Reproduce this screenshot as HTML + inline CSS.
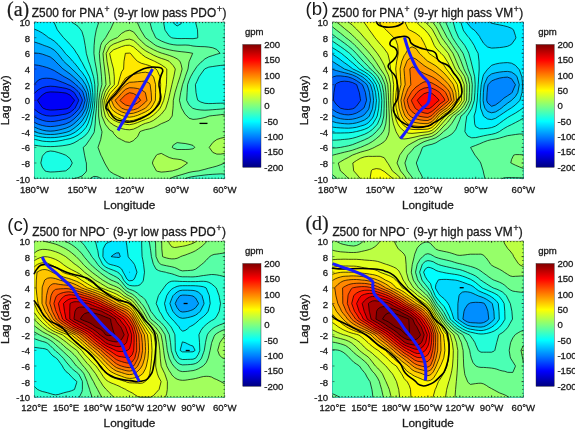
<!DOCTYPE html>
<html lang="en"><head><meta charset="utf-8"><title>Z500 lag-longitude composites</title>
<style>
html,body{margin:0;padding:0;background:#fff;}
body{width:575px;height:431px;overflow:hidden;}
svg{display:block;font-family:"Liberation Sans", Arial, sans-serif;}
svg text{fill:#1a1a1a;stroke:#1a1a1a;stroke-width:0.3px;}
svg path, svg rect{fill-opacity:1}
</style></head><body>
<svg width="575" height="431" viewBox="0 0 575 431">
<defs><linearGradient id="jet" x1="0" y1="1" x2="0" y2="0">
<stop offset="0.0000" stop-color="#000080"/>
<stop offset="0.0156" stop-color="#00008f"/>
<stop offset="0.0312" stop-color="#00009f"/>
<stop offset="0.0469" stop-color="#0000af"/>
<stop offset="0.0625" stop-color="#0000bf"/>
<stop offset="0.0781" stop-color="#0000cf"/>
<stop offset="0.0938" stop-color="#0000df"/>
<stop offset="0.1094" stop-color="#0000ef"/>
<stop offset="0.1250" stop-color="#0000ff"/>
<stop offset="0.1406" stop-color="#0010ff"/>
<stop offset="0.1562" stop-color="#0020ff"/>
<stop offset="0.1719" stop-color="#0030ff"/>
<stop offset="0.1875" stop-color="#0040ff"/>
<stop offset="0.2031" stop-color="#0050ff"/>
<stop offset="0.2188" stop-color="#0060ff"/>
<stop offset="0.2344" stop-color="#0070ff"/>
<stop offset="0.2500" stop-color="#0080ff"/>
<stop offset="0.2656" stop-color="#008fff"/>
<stop offset="0.2812" stop-color="#009fff"/>
<stop offset="0.2969" stop-color="#00afff"/>
<stop offset="0.3125" stop-color="#00bfff"/>
<stop offset="0.3281" stop-color="#00cfff"/>
<stop offset="0.3438" stop-color="#00dfff"/>
<stop offset="0.3594" stop-color="#00efff"/>
<stop offset="0.3750" stop-color="#00ffff"/>
<stop offset="0.3906" stop-color="#10ffef"/>
<stop offset="0.4062" stop-color="#20ffdf"/>
<stop offset="0.4219" stop-color="#30ffcf"/>
<stop offset="0.4375" stop-color="#40ffbf"/>
<stop offset="0.4531" stop-color="#50ffaf"/>
<stop offset="0.4688" stop-color="#60ff9f"/>
<stop offset="0.4844" stop-color="#70ff8f"/>
<stop offset="0.5000" stop-color="#80ff80"/>
<stop offset="0.5156" stop-color="#8fff70"/>
<stop offset="0.5312" stop-color="#9fff60"/>
<stop offset="0.5469" stop-color="#afff50"/>
<stop offset="0.5625" stop-color="#bfff40"/>
<stop offset="0.5781" stop-color="#cfff30"/>
<stop offset="0.5938" stop-color="#dfff20"/>
<stop offset="0.6094" stop-color="#efff10"/>
<stop offset="0.6250" stop-color="#ffff00"/>
<stop offset="0.6406" stop-color="#ffef00"/>
<stop offset="0.6562" stop-color="#ffdf00"/>
<stop offset="0.6719" stop-color="#ffcf00"/>
<stop offset="0.6875" stop-color="#ffbf00"/>
<stop offset="0.7031" stop-color="#ffaf00"/>
<stop offset="0.7188" stop-color="#ff9f00"/>
<stop offset="0.7344" stop-color="#ff8f00"/>
<stop offset="0.7500" stop-color="#ff8000"/>
<stop offset="0.7656" stop-color="#ff7000"/>
<stop offset="0.7812" stop-color="#ff6000"/>
<stop offset="0.7969" stop-color="#ff5000"/>
<stop offset="0.8125" stop-color="#ff4000"/>
<stop offset="0.8281" stop-color="#ff3000"/>
<stop offset="0.8438" stop-color="#ff2000"/>
<stop offset="0.8594" stop-color="#ff1000"/>
<stop offset="0.8750" stop-color="#ff0000"/>
<stop offset="0.8906" stop-color="#ef0000"/>
<stop offset="0.9062" stop-color="#df0000"/>
<stop offset="0.9219" stop-color="#cf0000"/>
<stop offset="0.9375" stop-color="#bf0000"/>
<stop offset="0.9531" stop-color="#af0000"/>
<stop offset="0.9688" stop-color="#9f0000"/>
<stop offset="0.9844" stop-color="#8f0000"/>
<stop offset="1.0000" stop-color="#800000"/>
</linearGradient></defs>
<rect width="575" height="431" fill="#fff"/>
<g id="panel-a">
<rect x="34.4" y="22" width="190.3" height="156.7" fill="#0000f8"/>
<path d="M34.4,178.7L38.4,178.7L42.3,178.7L46.3,178.7L50.3,178.7L54.2,178.7L58.2,178.7L62.2,178.7L66.1,178.7L70.1,178.7L74,178.7L78,178.7L82,178.7L85.9,178.7L89.9,178.7L93.9,178.7L97.8,178.7L101.8,178.7L105.8,178.7L109.7,178.7L113.7,178.7L117.7,178.7L121.6,178.7L125.6,178.7L129.5,178.7L133.5,178.7L137.5,178.7L141.4,178.7L145.4,178.7L149.4,178.7L153.3,178.7L157.3,178.7L161.3,178.7L165.2,178.7L169.2,178.7L173.2,178.7L177.1,178.7L181.1,178.7L185.1,178.7L189,178.7L193,178.7L196.9,178.7L200.9,178.7L204.9,178.7L208.8,178.7L212.8,178.7L216.8,178.7L220.7,178.7L224.7,178.7L224.7,170.9L224.7,163L224.7,155.2L224.7,147.4L224.7,139.5L224.7,131.7L224.7,123.9L224.7,116L224.7,108.2L224.7,100.3L224.7,92.5L224.7,84.7L224.7,76.8L224.7,69L224.7,61.2L224.7,53.3L224.7,45.5L224.7,37.7L224.7,29.8L224.7,22L220.7,22L216.8,22L212.8,22L208.8,22L204.9,22L200.9,22L196.9,22L193,22L189,22L185.1,22L181.1,22L177.1,22L173.2,22L169.2,22L165.2,22L161.3,22L157.3,22L153.3,22L149.4,22L145.4,22L141.4,22L137.5,22L133.5,22L129.5,22L125.6,22L121.6,22L117.7,22L113.7,22L109.7,22L105.8,22L101.8,22L97.8,22L93.9,22L89.9,22L85.9,22L82,22L78,22L74,22L70.1,22L66.1,22L62.2,22L58.2,22L54.2,22L50.3,22L46.3,22L42.3,22L38.4,22L34.4,22L34.4,29.8L34.4,37.7L34.4,45.5L34.4,53.3L34.4,61.2L34.4,69L34.4,76.8L34.4,84.7L34.4,92.5L34.4,100.3L34.4,108.2L34.4,116L34.4,123.9L34.4,131.7L34.4,139.5L34.4,147.4L34.4,155.2L34.4,163L34.4,170.9L34.4,178.7ZM46.3,109.5L43.1,108.2L42.3,107.5L38.4,101.9L37.6,100.3L38.4,99.2L42.3,94.9L46.2,92.5L46.3,92.5L50.3,91.9L54.2,92L58.2,92.2L61.8,92.5L62.2,92.6L66.1,93.1L70.1,95.1L74,99.6L74.5,100.3L74,101.2L70.1,106.9L68.1,108.2L66.1,108.9L62.2,109.3L58.2,109.7L54.2,110L50.3,110.1L46.3,109.5Z" fill="#001dff" fill-rule="evenodd"/>
<path d="M34.4,178.7L38.4,178.7L42.3,178.7L46.3,178.7L50.3,178.7L54.2,178.7L58.2,178.7L62.2,178.7L66.1,178.7L70.1,178.7L74,178.7L78,178.7L82,178.7L85.9,178.7L89.9,178.7L93.9,178.7L97.8,178.7L101.8,178.7L105.8,178.7L109.7,178.7L113.7,178.7L117.7,178.7L121.6,178.7L125.6,178.7L129.5,178.7L133.5,178.7L137.5,178.7L141.4,178.7L145.4,178.7L149.4,178.7L153.3,178.7L157.3,178.7L161.3,178.7L165.2,178.7L169.2,178.7L173.2,178.7L177.1,178.7L181.1,178.7L185.1,178.7L189,178.7L193,178.7L196.9,178.7L200.9,178.7L204.9,178.7L208.8,178.7L212.8,178.7L216.8,178.7L220.7,178.7L224.7,178.7L224.7,170.9L224.7,163L224.7,155.2L224.7,147.4L224.7,139.5L224.7,131.7L224.7,123.9L224.7,116L224.7,108.2L224.7,100.3L224.7,92.5L224.7,84.7L224.7,76.8L224.7,69L224.7,61.2L224.7,53.3L224.7,45.5L224.7,37.7L224.7,29.8L224.7,22L220.7,22L216.8,22L212.8,22L208.8,22L204.9,22L200.9,22L196.9,22L193,22L189,22L185.1,22L181.1,22L177.1,22L173.2,22L169.2,22L165.2,22L161.3,22L157.3,22L153.3,22L149.4,22L145.4,22L141.4,22L137.5,22L133.5,22L129.5,22L125.6,22L121.6,22L117.7,22L113.7,22L109.7,22L105.8,22L101.8,22L97.8,22L93.9,22L89.9,22L85.9,22L82,22L78,22L74,22L70.1,22L66.1,22L62.2,22L58.2,22L54.2,22L50.3,22L46.3,22L42.3,22L38.4,22L34.4,22L34.4,29.8L34.4,37.7L34.4,45.5L34.4,53.3L34.4,61.2L34.4,69L34.4,76.8L34.4,84.7L34.4,92.5L34.4,93.4L35.1,92.5L38.4,89.7L42.3,87.6L46.3,86.6L50.3,86.2L54.2,86.4L58.2,87L62.2,87.7L66.1,88.4L70.1,89.8L74,92.4L74.2,92.5L78,98.8L78.7,100.3L78,102.1L75,108.2L74,109.2L70.1,112.3L66.1,114L62.2,114.7L58.2,115.4L54.2,115.9L52,116L50.3,116.1L49.4,116L46.3,115.7L42.3,114.5L38.4,112.4L34.4,109.2L34.4,116L34.4,123.9L34.4,131.7L34.4,139.5L34.4,147.4L34.4,155.2L34.4,163L34.4,170.9L34.4,178.7Z" fill="#0041ff" fill-rule="evenodd"/>
<path d="M34.4,178.7L38.4,178.7L42.3,178.7L46.3,178.7L50.3,178.7L54.2,178.7L58.2,178.7L62.2,178.7L66.1,178.7L70.1,178.7L74,178.7L78,178.7L82,178.7L85.9,178.7L89.9,178.7L93.9,178.7L97.8,178.7L101.8,178.7L105.8,178.7L109.7,178.7L113.7,178.7L117.7,178.7L121.6,178.7L125.6,178.7L129.5,178.7L133.5,178.7L137.5,178.7L141.4,178.7L145.4,178.7L149.4,178.7L153.3,178.7L157.3,178.7L161.3,178.7L165.2,178.7L169.2,178.7L173.2,178.7L177.1,178.7L181.1,178.7L185.1,178.7L189,178.7L193,178.7L196.9,178.7L200.9,178.7L204.9,178.7L208.8,178.7L212.8,178.7L216.8,178.7L220.7,178.7L224.7,178.7L224.7,170.9L224.7,163L224.7,155.2L224.7,147.4L224.7,139.5L224.7,131.7L224.7,123.9L224.7,116L224.7,108.2L224.7,100.3L224.7,92.5L224.7,84.7L224.7,76.8L224.7,69L224.7,61.2L224.7,53.3L224.7,45.5L224.7,37.7L224.7,29.8L224.7,22L220.7,22L216.8,22L212.8,22L208.8,22L204.9,22L200.9,22L196.9,22L193,22L189,22L185.1,22L181.1,22L177.1,22L173.2,22L169.2,22L165.2,22L161.3,22L157.3,22L153.3,22L149.4,22L145.4,22L141.4,22L137.5,22L133.5,22L129.5,22L125.6,22L121.6,22L117.7,22L113.7,22L109.7,22L105.8,22L101.8,22L97.8,22L93.9,22L89.9,22L85.9,22L82,22L78,22L74,22L70.1,22L66.1,22L62.2,22L58.2,22L54.2,22L50.3,22L46.3,22L42.3,22L38.4,22L34.4,22L34.4,29.8L34.4,37.7L34.4,45.5L34.4,53.3L34.4,61.2L34.4,69L34.4,76.8L34.4,84.2L38.4,80L42.3,78.5L46.3,78.2L50.3,78.4L54.2,79.2L58.2,80.6L62.2,82.2L66.1,83.7L68,84.7L70.1,85.4L74,87.8L78,91.4L79,92.5L82,98.8L82.4,100.4L82,101.9L79.3,108.2L78,109.9L74,114.1L71.6,116L70.1,117.1L66.1,118.9L62.2,119.8L58.2,120.7L54.2,121.4L50.3,121.6L46.3,121.3L42.3,120.3L38.4,118.8L34.4,116.9L34.4,123.9L34.4,131.7L34.4,139.5L34.4,147.4L34.4,155.2L34.4,163L34.4,170.9L34.4,178.7Z" fill="#0065ff" fill-rule="evenodd"/>
<path d="M34.4,178.7L38.4,178.7L42.3,178.7L46.3,178.7L50.3,178.7L54.2,178.7L58.2,178.7L62.2,178.7L66.1,178.7L70.1,178.7L74,178.7L78,178.7L82,178.7L85.9,178.7L89.9,178.7L93.9,178.7L97.8,178.7L101.8,178.7L105.8,178.7L109.7,178.7L113.7,178.7L117.7,178.7L121.6,178.7L125.6,178.7L129.5,178.7L133.5,178.7L137.5,178.7L141.4,178.7L145.4,178.7L149.4,178.7L153.3,178.7L157.3,178.7L161.3,178.7L165.2,178.7L169.2,178.7L173.2,178.7L177.1,178.7L181.1,178.7L185.1,178.7L189,178.7L193,178.7L196.9,178.7L200.9,178.7L204.9,178.7L208.8,178.7L212.8,178.7L216.8,178.7L220.7,178.7L224.7,178.7L224.7,170.9L224.7,163L224.7,155.2L224.7,147.4L224.7,139.5L224.7,131.7L224.7,123.9L224.7,116L224.7,108.2L224.7,100.3L224.7,92.5L224.7,84.7L224.7,76.8L224.7,69L224.7,61.2L224.7,53.3L224.7,45.5L224.7,37.7L224.7,29.8L224.7,22L220.7,22L216.8,22L212.8,22L208.8,22L204.9,22L200.9,22L196.9,22L193,22L189,22L185.1,22L181.1,22L177.1,22L173.2,22L169.2,22L165.2,22L161.3,22L157.3,22L153.3,22L149.4,22L145.4,22L141.4,22L137.5,22L133.5,22L129.5,22L125.6,22L121.6,22L117.7,22L113.7,22L109.7,22L105.8,22L101.8,22L97.8,22L93.9,22L89.9,22L85.9,22L82,22L78,22L74,22L70.1,22L66.1,22L62.2,22L58.2,22L54.2,22L50.3,22L46.3,22L42.3,22L38.4,22L34.4,22L34.4,29.8L34.4,37.7L34.4,45.5L34.4,53.3L34.4,61.2L34.4,64.8L38.4,65.3L42.3,66.2L46.3,67.3L50.3,68.7L50.8,69L54.2,70.5L58.2,73L62.2,75.5L64.3,76.8L66.1,77.7L70.1,80L74,83L75.8,84.7L78,86.5L82,90.8L83,92.5L85.2,100.3L83,108.2L82,110L78,115L77,116L74,118.9L70.1,121.9L66.1,123.7L65.6,123.9L62.2,124.8L58.2,125.7L54.2,126.3L50.3,126.6L46.3,126.3L42.3,125.5L38.4,124.3L37.4,123.9L34.4,122.4L34.4,123.9L34.4,131.7L34.4,139.5L34.4,147.4L34.4,155.2L34.4,163L34.4,170.9L34.4,178.7Z" fill="#0089ff" fill-rule="evenodd"/>
<path d="M34.4,178.7L38.4,178.7L42.3,178.7L46.3,178.7L50.3,178.7L54.2,178.7L58.2,178.7L62.2,178.7L66.1,178.7L70.1,178.7L74,178.7L78,178.7L82,178.7L85.9,178.7L89.9,178.7L93.9,178.7L97.8,178.7L101.8,178.7L105.8,178.7L109.7,178.7L113.7,178.7L117.7,178.7L121.6,178.7L125.6,178.7L129.5,178.7L133.5,178.7L137.5,178.7L141.4,178.7L145.4,178.7L149.4,178.7L153.3,178.7L157.3,178.7L161.3,178.7L165.2,178.7L169.2,178.7L173.2,178.7L177.1,178.7L181.1,178.7L185.1,178.7L189,178.7L193,178.7L196.9,178.7L200.9,178.7L204.9,178.7L208.8,178.7L212.8,178.7L216.8,178.7L220.7,178.7L224.7,178.7L224.7,170.9L224.7,163L224.7,155.2L224.7,147.4L224.7,139.5L224.7,131.7L224.7,123.9L224.7,116L224.7,108.2L224.7,100.3L224.7,92.5L224.7,84.7L224.7,76.8L224.7,69L224.7,61.2L224.7,53.3L224.7,45.5L224.7,37.7L224.7,29.8L224.7,22L220.7,22L216.8,22L212.8,22L208.8,22L204.9,22L200.9,22L196.9,22L193,22L189,22L185.1,22L181.1,22L177.1,22L173.2,22L169.2,22L165.2,22L161.3,22L157.3,22L153.3,22L149.4,22L145.4,22L141.4,22L137.5,22L133.5,22L129.5,22L125.6,22L121.6,22L117.7,22L113.7,22L109.7,22L105.8,22L101.8,22L97.8,22L93.9,22L89.9,22L85.9,22L82,22L78,22L74,22L70.1,22L66.1,22L62.2,22L58.2,22L54.2,22L50.3,22L46.3,22L42.3,22L38.4,22L34.4,22L34.4,29.8L34.4,37.7L34.4,45.5L34.4,53L38.4,53.3L38.8,53.3L42.3,54.1L46.3,55.5L50.3,57L54.2,60L55.2,61.2L58.2,64.2L62.2,68.1L63.1,69L66.1,71.1L70.1,74L73.4,76.8L74,77.4L78,81L81.4,84.7L82,85.3L85.9,92.1L86.1,92.5L87.4,100.3L85.9,108.1L85.9,108.2L82,115.4L81.5,116L78,120L74,123.7L73.9,123.9L70.1,126.4L66.1,128.1L62.2,129.2L58.2,130.2L54.2,130.9L50.3,131.2L46.3,130.9L42.3,130.1L38.4,128.8L34.4,127.1L34.4,131.7L34.4,139.5L34.4,147.4L34.4,155.2L34.4,163L34.4,170.9L34.4,178.7Z" fill="#00adff" fill-rule="evenodd"/>
<path d="M34.4,178.7L38.4,178.7L42.3,178.7L46.3,178.7L50.3,178.7L54.2,178.7L58.2,178.7L62.2,178.7L66.1,178.7L70.1,178.7L74,178.7L78,178.7L82,178.7L85.9,178.7L89.9,178.7L93.9,178.7L97.8,178.7L101.8,178.7L105.8,178.7L109.7,178.7L113.7,178.7L117.7,178.7L121.6,178.7L125.6,178.7L129.5,178.7L133.5,178.7L137.5,178.7L141.4,178.7L145.4,178.7L149.4,178.7L153.3,178.7L157.3,178.7L161.3,178.7L165.2,178.7L169.2,178.7L173.2,178.7L177.1,178.7L181.1,178.7L185.1,178.7L189,178.7L193,178.7L196.9,178.7L200.9,178.7L204.9,178.7L208.8,178.7L212.8,178.7L216.8,178.7L220.7,178.7L224.7,178.7L224.7,170.9L224.7,163L224.7,155.2L224.7,147.4L224.7,139.5L224.7,131.7L224.7,123.9L224.7,116L224.7,108.2L224.7,100.3L224.7,92.5L224.7,84.7L224.7,76.8L224.7,69L224.7,61.2L224.7,53.3L224.7,45.5L224.7,37.7L224.7,29.8L224.7,22L220.7,22L216.8,22L212.8,22L208.8,22L204.9,22L200.9,22L196.9,22L193,22L189,22L185.1,22L181.1,22L177.1,22L173.2,22L169.2,22L165.2,22L161.3,22L157.3,22L153.3,22L149.4,22L145.4,22L141.4,22L137.5,22L133.5,22L129.5,22L125.6,22L121.6,22L117.7,22L113.7,22L109.7,22L105.8,22L101.8,22L97.8,22L93.9,22L89.9,22L85.9,22L82,22L78,22L74,22L70.1,22L66.1,22L62.2,22L58.2,22L54.2,22L50.3,22L46.3,22L42.3,22L38.4,22L34.4,22L34.4,29.8L34.4,37.7L34.4,42L38.4,43.3L42.3,44.7L44.2,45.5L46.3,46.2L50.3,47.7L54.2,50.1L57.5,53.3L58.2,54.2L62.2,59.4L63.6,61.2L66.1,63.6L70.1,67.1L71.9,69L74,70.9L78,74.8L79.7,76.8L82,79.2L85.6,84.7L85.9,85.3L88.4,92.5L89.4,100.3L88.1,108.2L85.9,114.3L85,116L82,120.9L79.2,123.9L78,125L74,128.3L70.1,130.9L68.1,131.7L66.1,132.3L62.2,133.2L58.2,133.9L54.2,134.4L50.3,134.5L46.3,134.4L42.3,133.8L38.4,133L34.7,131.7L34.4,131.6L34.4,131.7L34.4,139.5L34.4,147.4L34.4,155.2L34.4,163L34.4,170.9L34.4,178.7Z" fill="#00d1ff" fill-rule="evenodd"/>
<path d="M34.4,178.7L38.4,178.7L42.3,178.7L46.3,178.7L50.3,178.7L54.2,178.7L58.2,178.7L62.2,178.7L66.1,178.7L70.1,178.7L74,178.7L78,178.7L82,178.7L85.9,178.7L89.9,178.7L93.9,178.7L97.8,178.7L101.8,178.7L105.8,178.7L109.7,178.7L113.7,178.7L117.7,178.7L121.6,178.7L125.6,178.7L129.5,178.7L133.5,178.7L137.5,178.7L141.4,178.7L145.4,178.7L149.4,178.7L153.3,178.7L157.3,178.7L161.3,178.7L165.2,178.7L169.2,178.7L173.2,178.7L177.1,178.7L181.1,178.7L185.1,178.7L189,178.7L193,178.7L196.9,178.7L200.9,178.7L204.9,178.7L208.8,178.7L212.8,178.7L216.8,178.7L220.7,178.7L224.7,178.7L224.7,170.9L224.7,163L224.7,155.2L224.7,147.4L224.7,139.5L224.7,131.7L224.7,123.9L224.7,116L224.7,108.2L224.7,100.3L224.7,92.5L224.7,84.7L224.7,76.8L224.7,69L224.7,61.2L224.7,53.3L224.7,45.5L224.7,37.7L224.7,29.8L224.7,22L220.7,22L216.8,22L212.8,22L208.8,22L204.9,22L200.9,22L196.9,22L193,22L189,22L185.1,22L181.1,22L177.1,22L173.2,22L169.2,22L165.2,22L161.3,22L157.3,22L153.3,22L149.4,22L145.4,22L141.4,22L137.5,22L133.5,22L129.5,22L125.6,22L121.6,22L117.7,22L113.7,22L109.7,22L105.8,22L101.8,22L97.8,22L93.9,22L89.9,22L85.9,22L82,22L78,22L74,22L70.1,22L66.1,22L62.2,22L58.2,22L54.2,22L50.3,22L46.3,22L42.3,22L38.4,22L34.4,22L34.4,29.1L36,29.8L38.4,30.8L42.3,33L46.3,35.8L48.5,37.7L50.3,38.5L54.2,41L58.2,44.7L58.9,45.5L62.2,49.2L65.3,53.3L66.1,54.2L70.1,58.2L72.6,61.2L74,62.5L78,67.4L79,69L82,72.3L85.1,76.8L85.9,78.1L88.8,84.7L89.9,88.7L90.6,92.5L91.3,100.4L90.2,108.2L89.9,109.5L87.8,116L85.9,120.8L83.9,123.9L82,126.4L78,130L75.8,131.7L74,132.9L70.1,134.8L66.1,135.9L62.2,136.6L58.2,137.2L54.2,137.6L50.3,137.7L46.3,137.6L42.3,137.2L38.4,136.5L34.4,135.5L34.4,139.5L34.4,147.4L34.4,155.2L34.4,163L34.4,170.9L34.4,178.7Z" fill="#00f5ff" fill-rule="evenodd"/>
<path d="M34.4,178.7L38.4,178.7L42.3,178.7L46.3,178.7L50.3,178.7L54.2,178.7L58.2,178.7L62.2,178.7L66.1,178.7L70.1,178.7L74,178.7L78,178.7L82,178.7L85.9,178.7L89.9,178.7L93.9,178.7L97.8,178.7L101.8,178.7L105.8,178.7L109.7,178.7L113.7,178.7L117.7,178.7L121.6,178.7L125.6,178.7L129.5,178.7L133.5,178.7L137.5,178.7L141.4,178.7L145.4,178.7L149.4,178.7L153.3,178.7L157.3,178.7L161.3,178.7L165.2,178.7L169.2,178.7L173.2,178.7L177.1,178.7L181.1,178.7L185.1,178.7L189,178.7L193,178.7L196.9,178.7L200.9,178.7L204.9,178.7L208.8,178.7L212.8,178.7L216.8,178.7L220.7,178.7L224.7,178.7L224.7,170.9L224.7,163L224.7,155.2L224.7,147.4L224.7,139.5L224.7,131.7L224.7,123.9L224.7,116L224.7,108.2L224.7,100.3L224.7,92.5L224.7,84.7L224.7,76.8L224.7,69L224.7,61.2L224.7,53.3L224.7,45.5L224.7,37.7L224.7,29.8L224.7,22L220.7,22L216.8,22L212.8,22L208.8,22L204.9,22L200.9,22L196.9,22L193,22L189,22L185.1,22L182,22L181.1,23.7L177.1,26L173.2,22.8L172.8,22L169.2,22L165.2,22L161.3,22L157.3,22L153.3,22L149.4,22L145.4,22L141.4,22L137.5,22L133.5,22L129.5,22L125.6,22L121.6,22L117.7,22L113.7,22L109.7,22L105.8,22L101.8,22L97.8,22L93.9,22L89.9,22L85.9,22L82,22L78,22L74,22L70.1,22L66.1,22L62.2,22L58.2,22L54.2,22L53.9,22L54.2,22.6L57.3,29.8L58.2,31L62.2,36L63.6,37.7L66.1,40.3L70.1,44.5L70.9,45.5L74,49.1L76.6,53.3L78,55.2L81.2,61.2L82,62.3L85.4,69L85.9,69.7L89.5,76.8L89.9,78L91.8,84.7L92.7,92.5L93.1,100.3L92.2,108.2L90.4,116L89.9,118L87.9,123.9L85.9,127.6L82.3,131.7L82,132L78,135.1L74,137.2L70.1,138.6L66.1,139.4L65.6,139.5L62.2,140.3L58.2,141L54.2,141.5L50.3,141.7L46.3,141.5L42.3,141.1L38.4,140.2L35.3,139.5L34.4,139.4L34.4,139.5L34.4,147.4L34.4,155.2L34.4,163L34.4,170.9L34.4,178.7Z" fill="#1affe5" fill-rule="evenodd"/>
<path d="M34.4,178.7L38.4,178.7L42.3,178.7L46.3,178.7L50.3,178.7L54.2,178.7L58.2,178.7L62.2,178.7L66.1,178.7L70.1,178.7L74,178.7L78,178.7L82,178.7L85.9,178.7L89.9,178.7L93.9,178.7L97.8,178.7L101.8,178.7L105.8,178.7L109.7,178.7L113.7,178.7L117.7,178.7L121.6,178.7L125.6,178.7L129.5,178.7L133.5,178.7L137.5,178.7L141.4,178.7L145.4,178.7L149.4,178.7L153.3,178.7L157.3,178.7L161.3,178.7L165.2,178.7L169.2,178.7L173.2,178.7L177.1,178.7L181.1,178.7L185.1,178.7L189,178.7L193,178.7L196.9,178.7L200.9,178.7L204.9,178.7L208.8,178.7L212.8,178.7L216.8,178.7L220.7,178.7L224.7,178.7L224.7,170.9L224.7,163L224.7,155.2L224.7,147.4L224.7,139.5L224.7,131.7L224.7,123.9L224.7,116L224.7,108.2L224.7,103.1L220.7,103.2L216.8,103.3L212.8,103.5L208.8,103.6L204.9,103.3L200.9,102.1L197.8,100.3L196.9,97.1L196,92.5L195.4,84.7L196.9,81.5L199,76.8L200.9,74.1L204.6,69L204.9,68.8L208.8,67.1L212.8,66.5L216.8,65.9L220.7,65.4L224.7,65.1L224.7,61.2L224.7,53.3L224.7,45.5L224.7,37.7L224.7,29.8L224.7,22L220.7,22L216.8,22L212.8,22L208.8,22L204.9,22L200.9,22L196.9,22L195.5,22L196.9,27.5L197.5,29.8L197.8,37.7L196.9,38.1L193,38.7L189,38.6L185.1,38.5L181.1,38.6L177.1,38.5L173.2,38.1L171.6,37.7L169.2,36.1L165.2,30.4L164.9,29.8L163.5,22L161.3,22L157.3,22L153.3,22L149.4,22L145.4,22L141.4,22L137.5,22L133.5,22L129.5,22L125.6,22L121.6,22L117.7,22L113.7,22L109.7,22L105.8,22L101.8,22L97.8,22L93.9,22L89.9,22L85.9,22L82,22L78,22L74,22L71.5,22L74,23.5L78,26.3L80.8,29.8L82,31.7L83.8,37.7L85.2,45.5L85.9,50.1L86.3,53.3L88.5,61.2L89.9,64.8L91.2,69L93.5,76.8L93.9,78.6L94.8,84.7L95,92.5L94.9,100.3L94.2,108.2L93.9,110.5L92.9,116L91.5,123.9L89.9,128.7L88.4,131.7L85.9,134.9L82,138.1L79.4,139.5L78,140.6L74,142.9L70.1,144.4L66.1,145.2L62.2,145.8L58.2,146.2L54.2,146.5L50.3,146.6L46.3,146.5L42.3,146.3L38.4,145.8L34.4,145.2L34.4,147.4L34.4,155.2L34.4,163L34.4,170.9L34.4,178.7ZM46.3,171.4L45,170.9L42.3,167.2L40.8,163L42.3,156.5L43.1,155.2L46.3,151.9L50.3,151L54.2,151.4L58.2,152.5L62.2,153.8L65.7,155.2L66.1,155.4L70.1,158.7L72.3,163L70.1,167.3L66.1,170.7L65.6,170.9L62.2,171.2L58.2,171.6L54.2,171.9L50.3,172L46.3,171.4Z" fill="#3effc1" fill-rule="evenodd"/>
<path d="M72.5,178.7L74,178.7L78,178.7L82,178.7L85.9,178.7L89.9,178.7L93.9,176.4L97.8,176.8L101.2,178.7L101.8,178.7L105.8,178.7L109.7,178.7L113.7,178.7L117.7,178.7L121.6,178.7L125.6,178.7L129.5,178.7L133.5,178.7L137.5,178.7L141.4,178.7L145.4,178.7L149.4,178.7L153.3,178.7L157.3,178.7L161.3,178.7L165.2,178.7L169.2,178.7L173.2,178.7L177.1,178.7L181.1,178.7L184.9,178.7L185.1,178.6L189,177.4L193,176.6L196.9,176L200.9,175.5L204.9,175L208.8,174.6L212.8,174.3L216.8,174.1L220.7,173.9L224.7,174L224.7,170.9L224.7,163L224.7,155.2L224.7,147.4L224.7,139.5L224.7,131.7L224.7,123.9L224.7,116L224.7,108.8L220.7,109.1L216.8,109.4L212.8,109.7L208.8,110L204.9,110.2L200.9,110L196.9,109.5L193,108.4L192.6,108.2L189,104.9L186.7,100.3L187.1,92.5L187.6,84.7L189,80.6L190.6,76.8L193,72.5L195.3,69L196.9,66.6L200.9,62.3L202.4,61.2L204.9,58.9L208.8,56.8L212.8,55.5L216.8,54.2L220.1,53.3L216.8,49.5L212.8,47.8L208.8,47.1L204.9,46.7L200.9,46.6L196.9,46.4L193,46L190.5,45.5L189,45.2L185.1,45L181.1,45.1L177.1,45.1L173.2,44.7L169.2,43.9L165.2,42.6L161.3,41L157.3,38.8L155.7,37.7L153.3,32.5L151.9,29.8L149.8,22L149.4,22L145.4,22L141.4,22L137.5,22L133.5,22L129.5,22L125.6,22L121.6,22L117.7,22L113.7,22L109.7,22L105.8,22L101.8,22L98.9,22L97.8,25.1L96.3,29.8L94.8,37.7L94.1,45.5L93.9,53.3L94.9,61.2L96.4,69L97.6,76.8L97.8,80.5L98.1,84.7L97.8,87L97.4,92.5L96.9,100.3L96.4,108.2L95.6,116L95.2,123.9L94.3,131.7L93.9,132.8L89.9,139.3L89.7,139.5L85.9,145.1L83.2,147.4L84.6,155.2L85.9,161.4L86.4,163L86.5,170.9L85.9,172.1L82,176L78,177.6L74,178.5L72.5,178.7Z" fill="#62ff9d" fill-rule="evenodd"/>
<path d="M109.3,170.9L109.7,171.3L113.7,173.9L117.7,175.7L121.6,177.5L124.2,178.7L125.6,178.7L129.5,178.7L133.5,178.7L137.5,178.7L141.4,178.7L145.4,178.7L149.4,178.7L153.3,178.7L157.3,178.7L161.3,178.7L165.2,178.7L169.2,178.7L169.7,178.7L173.2,177.1L177.1,175.9L181.1,174.8L185.1,173.6L189,172.4L193,171.6L196.9,171.1L198.8,170.9L200.9,170.3L204.9,169.3L208.8,168.2L212.8,167.2L216.8,166.1L220.7,164.7L224.5,163L224.7,163L224.7,155.2L224.7,147.4L224.7,139.5L224.7,131.7L224.7,123.9L224.7,116L224.7,114.2L220.7,114.7L216.8,115.2L212.8,115.6L209.2,116L208.8,116.2L204.9,117.5L200.9,118.4L196.9,119.1L193,119.4L189,118.2L187,116L185.1,114.3L181.6,108.2L181.1,106.8L179.4,100.3L180.7,92.5L181.1,91L182.5,84.7L185.1,77.4L185.2,76.8L188,69L189,61.9L189.3,61.2L192.7,53.3L189,52.6L185.1,52.1L181.1,51.7L177.1,51.2L173.2,50.6L169.2,49.8L165.2,48.8L161.3,47.7L157.3,46.2L155.8,45.5L153.3,43.7L149.4,40.7L145.4,37.7L141.4,31.2L140.6,29.8L137.5,22.9L136.8,22L133.5,22L129.5,22L125.6,22L121.6,22L117.7,22L113.9,22L113.7,22.3L110.3,29.8L109.7,30.5L105.8,37.3L105.6,37.7L101.8,42.6L100.6,45.5L99.3,53.3L99.9,61.2L100.8,69L101.5,76.8L101.8,82.3L101.9,84.7L101.8,85L99.9,92.5L98.8,100.3L98.6,108.2L98.6,116L99.7,123.9L101.8,131.2L102,131.7L101.8,133.4L100.7,139.5L98,147.4L100.9,155.2L101.8,156.8L104.7,163L105.8,165L109.3,170.9ZM173.2,148.2L172.2,147.4L173.2,145.1L177.1,142.6L181.1,143.1L185.1,143.5L189,144.3L193,145.4L194.8,147.4L193,148.8L189,149.4L185.1,149.5L181.1,149.5L177.1,149.5L173.2,148.2Z" fill="#86ff79" fill-rule="evenodd"/>
<path d="M156.4,170.9L157.3,171.3L161.3,172.1L165.2,171.8L169.2,171.3L172.4,170.9L173.2,170.6L177.1,169.5L181.1,167.7L185.1,164.8L187.5,163L185.1,161.5L181.1,159.7L177.1,159.1L173.2,158.7L169.2,157.5L165.2,155.5L164.6,155.2L161.3,153.4L157.3,154.5L156.4,155.2L153.3,160.2L152.4,163L153.3,165.3L156.4,170.9ZM209.2,147.4L212.8,152.4L216.8,154.1L220.7,154.1L224.7,153.4L224.7,147.4L224.7,139.5L224.7,137.3L220.7,138.2L216.8,139.5L212.8,142.5L209.2,147.4ZM121.2,139.5L121.6,139.8L125.6,141.8L129.5,142.4L133.5,140.6L134.4,139.5L137.5,136.8L139.9,131.7L141.4,131L145.4,129.7L149.4,128.9L153.3,127.7L157.3,125.9L160.9,123.9L161.3,123.7L165.2,122.1L169.2,120.2L172.2,116L173,108.2L173.2,105.3L173.3,100.3L175,92.5L177.1,85.7L177.4,84.7L180,76.8L181.1,72.8L182.1,69L181.1,64.4L179.9,61.2L177.1,58.8L173.2,56.9L169.2,55.4L165.2,54.2L162.3,53.3L161.3,53L157.3,51.5L153.3,49.6L149.4,47.4L146.2,45.5L145.4,44.9L141.4,41.2L138,37.7L137.5,36.8L133.5,31.9L129.5,30.2L125.6,31.1L121.6,33.4L117.7,37.2L117.2,37.7L113.7,39.1L109.7,41.1L105.8,45.1L105.5,45.5L103,53.3L103.6,61.2L104.6,69L105.4,76.8L105.8,82L106,84.7L105.8,85L102.5,92.5L101.8,95.1L100.8,100.3L101,108.2L101.8,115.9L101.8,116L105.2,123.9L105.8,124.9L109.7,129.9L112.9,131.7L113.7,133.6L117.7,137.8L121.2,139.5Z" fill="#aaff55" fill-rule="evenodd"/>
<path d="M112,123.9L113.7,125.2L117.7,127.2L121.6,128.6L125.6,129.5L129.5,129.8L133.5,129.1L137.5,127.3L141.4,125.1L144,123.9L145.4,123.4L149.4,122.3L153.3,120.5L157.3,117.6L159.2,116L161.3,114.2L165.2,109.3L165.8,108.2L168.3,100.4L169.2,96.6L170.1,92.5L171.9,84.7L173.2,79.2L173.8,76.8L175.3,69L173.2,65.6L169.2,61.4L169,61.2L165.2,59.6L161.3,58.4L157.3,56.9L153.3,55.1L150.3,53.3L149.4,52.9L145.4,50.7L141.4,47.8L139.1,45.5L137.5,43.8L133.5,40.4L129.5,39.1L125.6,39.7L121.6,41L117.7,42.5L113.7,44L111.3,45.5L109.7,46.7L106.2,53.3L107,61.2L108.4,69L109.5,76.8L109.7,79.6L110.2,84.7L109.7,85.1L105.8,90.8L105,92.5L102.7,100.3L103.3,108.2L105.2,116L105.8,117.3L109.7,122.4L112,123.9Z" fill="#ceff31" fill-rule="evenodd"/>
<path d="M124.1,123.9L125.6,124.3L129.5,124.7L133.5,123.9L133.7,123.9L137.5,122.6L141.4,121L145.4,119.5L149.4,117.8L152,116L153.3,115.1L157.3,111.5L160.1,108.2L161.3,105.8L163.7,100.3L165.2,93.2L165.4,92.5L166.4,84.7L166.7,76.8L166.8,69L165.2,67.5L161.3,64.8L157.3,62.7L154.4,61.2L153.3,60.7L149.4,59L145.4,57L141.4,54L140.9,53.3L137.5,50.4L133.5,46.9L130.4,45.5L129.5,45.2L125.6,45.4L125.3,45.5L121.6,46.6L117.7,48.2L113.7,49.7L109.7,53.3L109.7,53.7L111.4,61.2L113.5,69L113.7,71.3L114.3,76.8L114.3,84.7L113.7,85.4L109.7,89.5L107.8,92.5L105.8,96.7L104.6,100.3L105.6,108.2L105.8,108.9L109,116L109.7,117L113.7,120.2L117.7,122L121.6,123.3L124.1,123.9Z" fill="#f2ff0d" fill-rule="evenodd"/>
<path d="M114.5,116L117.7,117.8L121.6,119.4L125.6,120.4L129.5,120.8L133.5,120.3L137.5,119L141.4,117.3L144.5,116L145.4,115.6L149.4,113.6L153.3,110.4L155.4,108.2L157.3,104.5L159.4,100.3L160.3,92.5L160.7,84.7L160,76.8L157.3,70.6L156.1,69L153.3,67.4L149.4,65.6L145.4,64.4L141.4,63.3L137.5,61.3L137.3,61.2L133.5,57.1L130.4,53.3L129.5,53.1L125.6,53.3L125.4,53.3L124,61.2L123.6,69L121.6,71.8L120.1,76.8L118,84.7L117.7,85.1L113.7,89.4L110.9,92.5L109.7,93.9L106.6,100.3L108.1,108.2L109.7,111.5L113.7,115.5L114.5,116Z" fill="#ffe800" fill-rule="evenodd"/>
<path d="M123.3,116L125.6,116.7L129.5,117.2L133.5,116.6L135.4,116L137.5,115.4L141.4,113.7L145.4,111.9L149.4,109.5L150.9,108.2L153.3,104.4L155.4,100.3L155.6,92.5L155.6,84.7L153.6,76.8L153.3,76.5L149.4,73.1L145.4,72.2L141.4,72.6L137.5,73.4L133.5,74.5L129.5,75.7L127.9,76.8L125.6,78L121.6,84L121.4,84.7L117.7,89.1L114.5,92.5L113.7,93.4L109.7,98.3L108.7,100.3L109.7,104.6L111.2,108.2L113.7,111.1L117.7,113.7L121.6,115.5L123.3,116Z" fill="#ffc400" fill-rule="evenodd"/>
<path d="M115.5,108.2L117.7,109.7L121.6,111.9L125.6,113.2L129.5,113.7L133.5,113.2L137.5,111.9L141.4,110.2L145.4,108.2L145.5,108.2L149.4,103.9L151.6,100.3L151.2,92.5L150.1,84.7L149.4,83.3L145.4,81L141.4,81.4L137.5,81.7L133.5,82.1L129.5,82.3L125.6,84.7L121.6,88.7L118.3,92.5L117.7,93.3L113.7,97.4L111.4,100.3L113.7,105.7L115.5,108.2Z" fill="#ffa000" fill-rule="evenodd"/>
<path d="M121.6,108.2L125.6,109.7L129.5,110.3L133.5,109.8L137.5,108.5L138.1,108.2L141.4,105.6L145.4,102.2L147,100.3L145.4,92.8L145.3,92.5L141.4,89.8L137.5,88.5L133.5,87.9L129.5,87.7L125.6,89.3L122.1,92.5L121.6,93.1L117.7,97.8L115,100.3L117.7,104.1L121.6,108.2Z" fill="#ff7c00" fill-rule="evenodd"/>
<path d="M120,100.3L121.6,102.2L125.6,105L129.6,106L133.5,105.2L137.5,102.9L140.7,100.3L137.5,96L133.5,93.5L129.5,92.7L125.6,94.7L121.6,98.7L120,100.3Z" fill="#ff5800" fill-rule="evenodd"/>
<path d="M46.3,109.5L43.1,108.2L42.3,107.5L38.4,101.9L37.6,100.3L38.4,99.2L42.3,94.9L46.2,92.5L46.3,92.5L50.3,91.9L54.2,92L58.2,92.2L61.8,92.5L62.2,92.6L66.1,93.1L70.1,95.1L74,99.6L74.5,100.3L74,101.2L70.1,106.9L68.1,108.2L66.1,108.9L62.2,109.3L58.2,109.7L54.2,110L50.3,110.1L46.3,109.5M34.4,93.4L35.1,92.5L38.4,89.7L42.3,87.6L46.3,86.6L50.3,86.2L54.2,86.4L58.2,87L62.2,87.7L66.1,88.4L70.1,89.8L74,92.4L74.2,92.5L78,98.8L78.7,100.3L78,102.1L75,108.2L74,109.2L70.1,112.3L66.1,114L62.2,114.7L58.2,115.4L54.2,115.9L52,116L50.3,116.1L49.4,116L46.3,115.7L42.3,114.5L38.4,112.4L34.4,109.2M34.4,84.2L38.4,80L42.3,78.5L46.3,78.2L50.3,78.4L54.2,79.2L58.2,80.6L62.2,82.2L66.1,83.7L68,84.7L70.1,85.4L74,87.8L78,91.4L79,92.5L82,98.8L82.4,100.4L82,101.9L79.3,108.2L78,109.9L74,114.1L71.6,116L70.1,117.1L66.1,118.9L62.2,119.8L58.2,120.7L54.2,121.4L50.3,121.6L46.3,121.3L42.3,120.3L38.4,118.8L34.4,116.9M34.4,64.8L38.4,65.3L42.3,66.2L46.3,67.3L50.3,68.7L50.8,69L54.2,70.5L58.2,73L62.2,75.5L64.3,76.8L66.1,77.7L70.1,80L74,83L75.8,84.7L78,86.5L82,90.8L83,92.5L85.2,100.3L83,108.2L82,110L78,115L77,116L74,118.9L70.1,121.9L66.1,123.7L65.6,123.9L62.2,124.8L58.2,125.7L54.2,126.3L50.3,126.6L46.3,126.3L42.3,125.5L38.4,124.3L37.4,123.9L34.4,122.4M34.4,53L38.4,53.3L38.8,53.3L42.3,54.1L46.3,55.5L50.3,57L54.2,60L55.2,61.2L58.2,64.2L62.2,68.1L63.1,69L66.1,71.1L70.1,74L73.4,76.8L74,77.4L78,81L81.4,84.7L82,85.3L85.9,92.1L86.1,92.5L87.4,100.3L85.9,108.1L85.9,108.2L82,115.4L81.5,116L78,120L74,123.7L73.9,123.9L70.1,126.4L66.1,128.1L62.2,129.2L58.2,130.2L54.2,130.9L50.3,131.2L46.3,130.9L42.3,130.1L38.4,128.8L34.4,127.1M34.4,42L38.4,43.3L42.3,44.7L44.2,45.5L46.3,46.2L50.3,47.7L54.2,50.1L57.5,53.3L58.2,54.2L62.2,59.4L63.6,61.2L66.1,63.6L70.1,67.1L71.9,69L74,70.9L78,74.8L79.7,76.8L82,79.2L85.6,84.7L85.9,85.3L88.4,92.5L89.4,100.3L88.1,108.2L85.9,114.3L85,116L82,120.9L79.2,123.9L78,125L74,128.3L70.1,130.9L68.1,131.7L66.1,132.3L62.2,133.2L58.2,133.9L54.2,134.4L50.3,134.5L46.3,134.4L42.3,133.8L38.4,133L34.7,131.7L34.4,131.6M34.4,29.1L36,29.8L38.4,30.8L42.3,33L46.3,35.8L48.5,37.7L50.3,38.5L54.2,41L58.2,44.7L58.9,45.5L62.2,49.2L65.3,53.3L66.1,54.2L70.1,58.2L72.6,61.2L74,62.5L78,67.4L79,69L82,72.3L85.1,76.8L85.9,78.1L88.8,84.7L89.9,88.7L90.6,92.5L91.3,100.4L90.2,108.2L89.9,109.5L87.8,116L85.9,120.8L83.9,123.9L82,126.4L78,130L75.8,131.7L74,132.9L70.1,134.8L66.1,135.9L62.2,136.6L58.2,137.2L54.2,137.6L50.3,137.7L46.3,137.6L42.3,137.2L38.4,136.5L34.4,135.5M53.9,22L54.2,22.6L57.3,29.8L58.2,31L62.2,36L63.6,37.7L66.1,40.3L70.1,44.5L70.9,45.5L74,49.1L76.6,53.3L78,55.2L81.2,61.2L82,62.3L85.4,69L85.9,69.7L89.5,76.8L89.9,78L91.8,84.7L92.7,92.5L93.1,100.3L92.2,108.2L90.4,116L89.9,118L87.9,123.9L85.9,127.6L82.3,131.7L82,132L78,135.1L74,137.2L70.1,138.6L66.1,139.4L65.6,139.5L62.2,140.3L58.2,141L54.2,141.5L50.3,141.7L46.3,141.5L42.3,141.1L38.4,140.2L35.3,139.5L34.4,139.4M182,22L181.1,23.7L177.1,26L173.2,22.8L172.8,22M46.3,171.4L45,170.9L42.3,167.2L40.8,163L42.3,156.5L43.1,155.2L46.3,151.9L50.3,151L54.2,151.4L58.2,152.5L62.2,153.8L65.7,155.2L66.1,155.4L70.1,158.7L72.3,163L70.1,167.3L66.1,170.7L65.6,170.9L62.2,171.2L58.2,171.6L54.2,171.9L50.3,172L46.3,171.4M224.7,103.1L220.7,103.2L216.8,103.3L212.8,103.5L208.8,103.6L204.9,103.3L200.9,102.1L197.8,100.3L196.9,97.1L196,92.5L195.4,84.7L196.9,81.5L199,76.8L200.9,74.1L204.6,69L204.9,68.8L208.8,67.1L212.8,66.5L216.8,65.9L220.7,65.4L224.7,65.1M71.5,22L74,23.5L78,26.3L80.8,29.8L82,31.7L83.8,37.7L85.2,45.5L85.9,50.1L86.3,53.3L88.5,61.2L89.9,64.8L91.2,69L93.5,76.8L93.9,78.6L94.8,84.7L95,92.5L94.9,100.3L94.2,108.2L93.9,110.5L92.9,116L91.5,123.9L89.9,128.7L88.4,131.7L85.9,134.9L82,138.1L79.4,139.5L78,140.6L74,142.9L70.1,144.4L66.1,145.2L62.2,145.8L58.2,146.2L54.2,146.5L50.3,146.6L46.3,146.5L42.3,146.3L38.4,145.8L34.4,145.2M195.5,22L196.9,27.5L197.5,29.8L197.8,37.7L196.9,38.1L193,38.7L189,38.6L185.1,38.5L181.1,38.6L177.1,38.5L173.2,38.1L171.6,37.7L169.2,36.1L165.2,30.4L164.9,29.8L163.5,22M89.9,178.7L93.9,176.4L97.8,176.8L101.2,178.7M184.9,178.7L185.1,178.6L189,177.4L193,176.6L196.9,176L200.9,175.5L204.9,175L208.8,174.6L212.8,174.3L216.8,174.1L220.7,173.9L224.7,174M224.7,108.8L220.7,109.1L216.8,109.4L212.8,109.7L208.8,110L204.9,110.2L200.9,110L196.9,109.5L193,108.4L192.6,108.2L189,104.9L186.7,100.3L187.1,92.5L187.6,84.7L189,80.6L190.6,76.8L193,72.5L195.3,69L196.9,66.6L200.9,62.3L202.4,61.2L204.9,58.9L208.8,56.8L212.8,55.5L216.8,54.2L220.1,53.3L216.8,49.5L212.8,47.8L208.8,47.1L204.9,46.7L200.9,46.6L196.9,46.4L193,46L190.5,45.5L189,45.2L185.1,45L181.1,45.1L177.1,45.1L173.2,44.7L169.2,43.9L165.2,42.6L161.3,41L157.3,38.8L155.7,37.7L153.3,32.5L151.9,29.8L149.8,22M98.9,22L97.8,25.1L96.3,29.8L94.8,37.7L94.1,45.5L93.9,53.3L94.9,61.2L96.4,69L97.6,76.8L97.8,80.5L98.1,84.7L97.8,87L97.4,92.5L96.9,100.3L96.4,108.2L95.6,116L95.2,123.9L94.3,131.7L93.9,132.8L89.9,139.3L89.7,139.5L85.9,145.1L83.2,147.4L84.6,155.2L85.9,161.4L86.4,163L86.5,170.9L85.9,172.1L82,176L78,177.6L74,178.5L72.5,178.7M169.7,178.7L173.2,177.1L177.1,175.9L181.1,174.8L185.1,173.6L189,172.4L193,171.6L196.9,171.1L198.8,170.9L200.9,170.3L204.9,169.3L208.8,168.2L212.8,167.2L216.8,166.1L220.7,164.7L224.5,163L224.7,163M173.2,148.2L172.2,147.4L173.2,145.1L177.1,142.6L181.1,143.1L185.1,143.5L189,144.3L193,145.4L194.8,147.4L193,148.8L189,149.4L185.1,149.5L181.1,149.5L177.1,149.5L173.2,148.2M224.7,114.2L220.7,114.7L216.8,115.2L212.8,115.6L209.2,116L208.8,116.2L204.9,117.5L200.9,118.4L196.9,119.1L193,119.4L189,118.2L187,116L185.1,114.3L181.6,108.2L181.1,106.8L179.4,100.3L180.7,92.5L181.1,91L182.5,84.7L185.1,77.4L185.2,76.8L188,69L189,61.9L189.3,61.2L192.7,53.3L189,52.6L185.1,52.1L181.1,51.7L177.1,51.2L173.2,50.6L169.2,49.8L165.2,48.8L161.3,47.7L157.3,46.2L155.8,45.5L153.3,43.7L149.4,40.7L145.4,37.7L141.4,31.2L140.6,29.8L137.5,22.9L136.8,22M113.9,22L113.7,22.3L110.3,29.8L109.7,30.5L105.8,37.3L105.6,37.7L101.8,42.6L100.6,45.5L99.3,53.3L99.9,61.2L100.8,69L101.5,76.8L101.8,82.3L101.9,84.7L101.8,85L99.9,92.5L98.8,100.3L98.6,108.2L98.6,116L99.7,123.9L101.8,131.2L102,131.7L101.8,133.4L100.7,139.5L98,147.4L100.9,155.2L101.8,156.8L104.7,163L105.8,165L109.3,170.9L109.7,171.3L113.7,173.9L117.7,175.7L121.6,177.5L124.2,178.7M156.4,170.9L157.3,171.3L161.3,172.1L165.2,171.8L169.2,171.3L172.4,170.9L173.2,170.6L177.1,169.5L181.1,167.7L185.1,164.8L187.5,163L185.1,161.5L181.1,159.7L177.1,159.1L173.2,158.7L169.2,157.5L165.2,155.5L164.6,155.2L161.3,153.4L157.3,154.5L156.4,155.2L153.3,160.2L152.4,163L153.3,165.3L156.4,170.9M121.2,139.5L121.6,139.8L125.6,141.8L129.5,142.4L133.5,140.6L134.4,139.5L137.5,136.8L139.9,131.7L141.4,131L145.4,129.7L149.4,128.9L153.3,127.7L157.3,125.9L160.9,123.9L161.3,123.7L165.2,122.1L169.2,120.2L172.2,116L173,108.2L173.2,105.3L173.3,100.3L175,92.5L177.1,85.7L177.4,84.7L180,76.8L181.1,72.8L182.1,69L181.1,64.4L179.9,61.2L177.1,58.8L173.2,56.9L169.2,55.4L165.2,54.2L162.3,53.3L161.3,53L157.3,51.5L153.3,49.6L149.4,47.4L146.2,45.5L145.4,44.9L141.4,41.2L138,37.7L137.5,36.8L133.5,31.9L129.5,30.2L125.6,31.1L121.6,33.4L117.7,37.2L117.2,37.7L113.7,39.1L109.7,41.1L105.8,45.1L105.5,45.5L103,53.3L103.6,61.2L104.6,69L105.4,76.8L105.8,82L106,84.7L105.8,85L102.5,92.5L101.8,95.1L100.8,100.3L101,108.2L101.8,115.9L101.8,116L105.2,123.9L105.8,124.9L109.7,129.9L112.9,131.7L113.7,133.6L117.7,137.8L121.2,139.5M224.7,137.3L220.7,138.2L216.8,139.5L212.8,142.5L209.2,147.4L212.8,152.4L216.8,154.1L220.7,154.1L224.7,153.4M112,123.9L113.7,125.2L117.7,127.2L121.6,128.6L125.6,129.5L129.5,129.8L133.5,129.1L137.5,127.3L141.4,125.1L144,123.9L145.4,123.4L149.4,122.3L153.3,120.5L157.3,117.6L159.2,116L161.3,114.2L165.2,109.3L165.8,108.2L168.3,100.4L169.2,96.6L170.1,92.5L171.9,84.7L173.2,79.2L173.8,76.8L175.3,69L173.2,65.6L169.2,61.4L169,61.2L165.2,59.6L161.3,58.4L157.3,56.9L153.3,55.1L150.3,53.3L149.4,52.9L145.4,50.7L141.4,47.8L139.1,45.5L137.5,43.8L133.5,40.4L129.5,39.1L125.6,39.7L121.6,41L117.7,42.5L113.7,44L111.3,45.5L109.7,46.7L106.2,53.3L107,61.2L108.4,69L109.5,76.8L109.7,79.6L110.2,84.7L109.7,85.1L105.8,90.8L105,92.5L102.7,100.3L103.3,108.2L105.2,116L105.8,117.3L109.7,122.4L112,123.9M124.1,123.9L125.6,124.3L129.5,124.7L133.5,123.9L133.7,123.9L137.5,122.6L141.4,121L145.4,119.5L149.4,117.8L152,116L153.3,115.1L157.3,111.5L160.1,108.2L161.3,105.8L163.7,100.3L165.2,93.2L165.4,92.5L166.4,84.7L166.7,76.8L166.8,69L165.2,67.5L161.3,64.8L157.3,62.7L154.4,61.2L153.3,60.7L149.4,59L145.4,57L141.4,54L140.9,53.3L137.5,50.4L133.5,46.9L130.4,45.5L129.5,45.2L125.6,45.4L125.3,45.5L121.6,46.6L117.7,48.2L113.7,49.7L109.7,53.3L109.7,53.7L111.4,61.2L113.5,69L113.7,71.3L114.3,76.8L114.3,84.7L113.7,85.4L109.7,89.5L107.8,92.5L105.8,96.7L104.6,100.3L105.6,108.2L105.8,108.9L109,116L109.7,117L113.7,120.2L117.7,122L121.6,123.3L124.1,123.9M114.5,116L117.7,117.8L121.6,119.4L125.6,120.4L129.5,120.8L133.5,120.3L137.5,119L141.4,117.3L144.5,116L145.4,115.6L149.4,113.6L153.3,110.4L155.4,108.2L157.3,104.5L159.4,100.3L160.3,92.5L160.7,84.7L160,76.8L157.3,70.6L156.1,69L153.3,67.4L149.4,65.6L145.4,64.4L141.4,63.3L137.5,61.3L137.3,61.2L133.5,57.1L130.4,53.3L129.5,53.1L125.6,53.3L125.4,53.3L124,61.2L123.6,69L121.6,71.8L120.1,76.8L118,84.7L117.7,85.1L113.7,89.4L110.9,92.5L109.7,93.9L106.6,100.3L108.1,108.2L109.7,111.5L113.7,115.5L114.5,116M123.3,116L125.6,116.7L129.5,117.2L133.5,116.6L135.4,116L137.5,115.4L141.4,113.7L145.4,111.9L149.4,109.5L150.9,108.2L153.3,104.4L155.4,100.3L155.6,92.5L155.6,84.7L153.6,76.8L153.3,76.5L149.4,73.1L145.4,72.2L141.4,72.6L137.5,73.4L133.5,74.5L129.5,75.7L127.9,76.8L125.6,78L121.6,84L121.4,84.7L117.7,89.1L114.5,92.5L113.7,93.4L109.7,98.3L108.7,100.3L109.7,104.6L111.2,108.2L113.7,111.1L117.7,113.7L121.6,115.5L123.3,116M115.5,108.2L117.7,109.7L121.6,111.9L125.6,113.2L129.5,113.7L133.5,113.2L137.5,111.9L141.4,110.2L145.4,108.2L145.5,108.2L149.4,103.9L151.6,100.3L151.2,92.5L150.1,84.7L149.4,83.3L145.4,81L141.4,81.4L137.5,81.7L133.5,82.1L129.5,82.3L125.6,84.7L121.6,88.7L118.3,92.5L117.7,93.3L113.7,97.4L111.4,100.3L113.7,105.7L115.5,108.2M121.6,108.2L125.6,109.7L129.5,110.3L133.5,109.8L137.5,108.5L138.1,108.2L141.4,105.6L145.4,102.2L147,100.3L145.4,92.8L145.3,92.5L141.4,89.8L137.5,88.5L133.5,87.9L129.5,87.7L125.6,89.3L122.1,92.5L121.6,93.1L117.7,97.8L115,100.3L117.7,104.1L121.6,108.2M120,100.3L121.6,102.2L125.6,105L129.6,106L133.5,105.2L137.5,102.9L140.7,100.3L137.5,96L133.5,93.5L129.5,92.7L125.6,94.7L121.6,98.7L120,100.3" fill="none" stroke="#000" stroke-width="0.7" stroke-linejoin="round"/>
<path d="M106,107C106.2,104.1 107.2,103.8 110,100C112.8,96.2 113,96.8 116.4,92.7C119.8,88.6 119.2,88.7 122.8,84.5C126.4,80.3 125.7,80.4 130,76.8C134.3,73.2 134.2,73.4 139,70.9C143.8,68.4 143.2,68.6 148.1,67.6C153,66.6 153.3,66.8 157.2,67.3C161.1,67.8 161.6,67.1 162.6,69.5C163.6,71.9 161.8,72.5 160.8,76.3C159.8,80.1 159.2,79.7 159,83.6C158.8,87.5 159.5,86.4 159.9,90.8C160.3,95.2 161.6,95.4 160.5,100C159.4,104.6 158.9,104.3 155.6,108.2C152.3,112.1 152.7,111.8 148.3,114.7C143.9,117.6 144.1,117.3 139.2,119.2C134.3,121.1 134.6,121.5 130,122C125.4,122.5 126,122 121.9,121C117.8,120 118,121 114.6,118.3C111.2,115.6 111.4,114 109.1,111C106.8,108 105.8,109.9 106,107Z" fill="none" stroke="#000" stroke-width="1.6" stroke-linejoin="round" stroke-linecap="round"/>
<path d="M199.5,123.4L207.5,123.4" stroke="#000" stroke-width="1.3" fill="none"/>
<path d="M118,130.5L152.6,69" fill="none" stroke="#1a1aff" stroke-width="3" stroke-linejoin="round" stroke-linecap="butt"/>
<rect x="34.4" y="22" width="190.3" height="156.7" fill="none" stroke="#262626" stroke-opacity="0.45" stroke-width="0.5"/>
<text x="30.1" y="182.7" text-anchor="end" font-size="9.6">-10</text>
<text x="30.1" y="167" text-anchor="end" font-size="9.6">-8</text>
<text x="30.1" y="151.4" text-anchor="end" font-size="9.6">-6</text>
<text x="30.1" y="135.7" text-anchor="end" font-size="9.6">-4</text>
<text x="30.1" y="120" text-anchor="end" font-size="9.6">-2</text>
<text x="30.1" y="104.3" text-anchor="end" font-size="9.6">0</text>
<text x="30.1" y="88.7" text-anchor="end" font-size="9.6">2</text>
<text x="30.1" y="73" text-anchor="end" font-size="9.6">4</text>
<text x="30.1" y="57.3" text-anchor="end" font-size="9.6">6</text>
<text x="30.1" y="41.7" text-anchor="end" font-size="9.6">8</text>
<text x="30.1" y="26" text-anchor="end" font-size="9.6">10</text>
<text x="34.4" y="192.9" text-anchor="middle" font-size="9.6">180°W</text>
<text x="82" y="192.9" text-anchor="middle" font-size="9.6">150°W</text>
<text x="129.5" y="192.9" text-anchor="middle" font-size="9.6">120°W</text>
<text x="177.1" y="192.9" text-anchor="middle" font-size="9.6">90°W</text>
<text x="224.7" y="192.9" text-anchor="middle" font-size="9.6">60°W</text>
<path d="M34.4,178.7h2M224.7,178.7h-2M34.4,163h2M224.7,163h-2M34.4,147.4h2M224.7,147.4h-2M34.4,131.7h2M224.7,131.7h-2M34.4,116h2M224.7,116h-2M34.4,100.3h2M224.7,100.3h-2M34.4,84.7h2M224.7,84.7h-2M34.4,69h2M224.7,69h-2M34.4,53.3h2M224.7,53.3h-2M34.4,37.7h2M224.7,37.7h-2M34.4,22h2M224.7,22h-2M34.4,178.7v-2M34.4,22v2M82,178.7v-2M82,22v2M129.5,178.7v-2M129.5,22v2M177.1,178.7v-2M177.1,22v2M224.7,178.7v-2M224.7,22v2" stroke="#262626" stroke-width="0.6" fill="none"/>
<path d="M37.6,178.7v-1.1M37.6,22v1.1M40.7,178.7v-1.1M40.7,22v1.1M43.9,178.7v-1.1M43.9,22v1.1M47.1,178.7v-1.1M47.1,22v1.1M50.3,178.7v-1.1M50.3,22v1.1M53.4,178.7v-1.1M53.4,22v1.1M56.6,178.7v-1.1M56.6,22v1.1M59.8,178.7v-1.1M59.8,22v1.1M62.9,178.7v-1.1M62.9,22v1.1M66.1,178.7v-1.1M66.1,22v1.1M69.3,178.7v-1.1M69.3,22v1.1M72.5,178.7v-1.1M72.5,22v1.1M75.6,178.7v-1.1M75.6,22v1.1M78.8,178.7v-1.1M78.8,22v1.1M82,178.7v-1.1M82,22v1.1M85.1,178.7v-1.1M85.1,22v1.1M88.3,178.7v-1.1M88.3,22v1.1M91.5,178.7v-1.1M91.5,22v1.1M94.7,178.7v-1.1M94.7,22v1.1M97.8,178.7v-1.1M97.8,22v1.1M101,178.7v-1.1M101,22v1.1M104.2,178.7v-1.1M104.2,22v1.1M107.3,178.7v-1.1M107.3,22v1.1M110.5,178.7v-1.1M110.5,22v1.1M113.7,178.7v-1.1M113.7,22v1.1M116.9,178.7v-1.1M116.9,22v1.1M120,178.7v-1.1M120,22v1.1M123.2,178.7v-1.1M123.2,22v1.1M126.4,178.7v-1.1M126.4,22v1.1M129.5,178.7v-1.1M129.5,22v1.1M132.7,178.7v-1.1M132.7,22v1.1M135.9,178.7v-1.1M135.9,22v1.1M139.1,178.7v-1.1M139.1,22v1.1M142.2,178.7v-1.1M142.2,22v1.1M145.4,178.7v-1.1M145.4,22v1.1M148.6,178.7v-1.1M148.6,22v1.1M151.8,178.7v-1.1M151.8,22v1.1M154.9,178.7v-1.1M154.9,22v1.1M158.1,178.7v-1.1M158.1,22v1.1M161.3,178.7v-1.1M161.3,22v1.1M164.4,178.7v-1.1M164.4,22v1.1M167.6,178.7v-1.1M167.6,22v1.1M170.8,178.7v-1.1M170.8,22v1.1M174,178.7v-1.1M174,22v1.1M177.1,178.7v-1.1M177.1,22v1.1M180.3,178.7v-1.1M180.3,22v1.1M183.5,178.7v-1.1M183.5,22v1.1M186.6,178.7v-1.1M186.6,22v1.1M189.8,178.7v-1.1M189.8,22v1.1M193,178.7v-1.1M193,22v1.1M196.2,178.7v-1.1M196.2,22v1.1M199.3,178.7v-1.1M199.3,22v1.1M202.5,178.7v-1.1M202.5,22v1.1M205.7,178.7v-1.1M205.7,22v1.1M208.8,178.7v-1.1M208.8,22v1.1M212,178.7v-1.1M212,22v1.1M215.2,178.7v-1.1M215.2,22v1.1M218.4,178.7v-1.1M218.4,22v1.1M221.5,178.7v-1.1M221.5,22v1.1M224.7,25.9h-1.1M224.7,29.8h-1.1M224.7,33.8h-1.1M224.7,37.7h-1.1M224.7,41.6h-1.1M224.7,45.5h-1.1M224.7,49.4h-1.1M224.7,53.3h-1.1M224.7,57.3h-1.1M224.7,61.2h-1.1M224.7,65.1h-1.1M224.7,69h-1.1M224.7,72.9h-1.1M224.7,76.8h-1.1M224.7,80.8h-1.1M224.7,84.7h-1.1M224.7,88.6h-1.1M224.7,92.5h-1.1M224.7,96.4h-1.1M224.7,100.3h-1.1M224.7,104.3h-1.1M224.7,108.2h-1.1M224.7,112.1h-1.1M224.7,116h-1.1M224.7,119.9h-1.1M224.7,123.9h-1.1M224.7,127.8h-1.1M224.7,131.7h-1.1M224.7,135.6h-1.1M224.7,139.5h-1.1M224.7,143.4h-1.1M224.7,147.4h-1.1M224.7,151.3h-1.1M224.7,155.2h-1.1M224.7,159.1h-1.1M224.7,163h-1.1M224.7,166.9h-1.1M224.7,170.9h-1.1M224.7,174.8h-1.1" stroke="#111" stroke-width="0.8" fill="none"/>
<text x="129.5" y="208.7" text-anchor="middle" font-size="11.8">Longitude</text>
<text transform="translate(9.4,100.3) rotate(-90)" text-anchor="middle" font-size="11.8">Lag (day)</text>
<text x="129.1" y="16.8" text-anchor="middle" font-size="11.85">Z500 for PNA<tspan dx="0.8" dy="-5.2" font-size="8.5">+</tspan><tspan dx="0.8" dy="5.2" font-size="11.85"> (9-yr low pass PDO</tspan><tspan dx="0.8" dy="-5.2" font-size="8.5">+</tspan><tspan dx="0.5" dy="5.2" font-size="11.85">)</tspan></text>
<text x="7" y="15.7" font-size="20" font-family='"Liberation Serif", "DejaVu Serif", serif' style="stroke-width:0.2px">(a)</text>
<rect x="242.8" y="44.5" width="18.2" height="122.8" fill="url(#jet)" stroke="#262626" stroke-width="0.4"/>
<text x="264.2" y="170.6" font-size="9.6">-200</text>
<text x="264.2" y="155.2" font-size="9.6">-150</text>
<text x="264.2" y="139.9" font-size="9.6">-100</text>
<text x="264.2" y="124.5" font-size="9.6">-50</text>
<text x="264.2" y="109.2" font-size="9.6">0</text>
<text x="264.2" y="93.8" font-size="9.6">50</text>
<text x="264.2" y="78.5" font-size="9.6">100</text>
<text x="264.2" y="63.1" font-size="9.6">150</text>
<text x="264.2" y="47.8" font-size="9.6">200</text>
<text x="244.9" y="35.1" font-size="9.6">gpm</text>
</g>
<g id="panel-b">
<rect x="332.5" y="22" width="190.9" height="156.7" fill="#003cff"/>
<path d="M332.5,178.7L336.5,178.7L340.5,178.7L344.4,178.7L348.4,178.7L352.4,178.7L356.4,178.7L360.3,178.7L364.3,178.7L368.3,178.7L372.3,178.7L376.2,178.7L380.2,178.7L384.2,178.7L388.2,178.7L392.2,178.7L396.1,178.7L400.1,178.7L404.1,178.7L408.1,178.7L412,178.7L416,178.7L420,178.7L424,178.7L427.9,178.7L431.9,178.7L435.9,178.7L439.9,178.7L443.9,178.7L447.8,178.7L451.8,178.7L455.8,178.7L459.8,178.7L463.7,178.7L467.7,178.7L471.7,178.7L475.7,178.7L479.7,178.7L483.6,178.7L487.6,178.7L491.6,178.7L495.6,178.7L499.5,178.7L503.5,178.7L507.5,178.7L511.5,178.7L515.4,178.7L519.4,178.7L523.4,178.7L523.4,170.9L523.4,163L523.4,155.2L523.4,147.4L523.4,139.5L523.4,131.7L523.4,123.9L523.4,116L523.4,108.2L523.4,100.3L523.4,92.5L523.4,84.7L523.4,76.8L523.4,69L523.4,61.2L523.4,53.3L523.4,45.5L523.4,37.7L523.4,29.8L523.4,22L519.4,22L515.4,22L511.5,22L507.5,22L503.5,22L499.5,22L495.6,22L491.6,22L487.6,22L483.6,22L479.7,22L475.7,22L471.7,22L467.7,22L463.7,22L459.8,22L455.8,22L451.8,22L447.8,22L443.9,22L439.9,22L435.9,22L431.9,22L427.9,22L424,22L420,22L416,22L412,22L408.1,22L404.1,22L400.1,22L396.1,22L392.2,22L388.2,22L384.2,22L380.2,22L376.2,22L372.3,22L368.3,22L364.3,22L360.3,22L356.4,22L352.4,22L348.4,22L344.4,22L340.5,22L336.5,22L332.5,22L332.5,29.8L332.5,37.7L332.5,45.5L332.5,53.3L332.5,61.2L332.5,69L332.5,76.8L332.5,84.7L332.5,92.5L332.5,100.3L332.5,108.2L332.5,116L332.5,123.9L332.5,131.7L332.5,139.5L332.5,147.4L332.5,155.2L332.5,163L332.5,170.9L332.5,178.7ZM344.4,109.2L340.5,108.2L336.5,104.7L333.3,100.3L333.9,92.5L335.3,84.7L336.5,83.4L340.5,81.6L344.4,81.2L348.4,81.5L352.4,82.5L356.4,84.5L356.7,84.7L359.3,92.5L360.3,98.6L360.6,100.3L360.3,100.9L356.4,106.3L354.1,108.2L352.4,108.9L348.4,109.5L344.4,109.2Z" fill="#0061ff" fill-rule="evenodd"/>
<path d="M332.5,178.7L336.5,178.7L340.5,178.7L344.4,178.7L348.4,178.7L352.4,178.7L356.4,178.7L360.3,178.7L364.3,178.7L368.3,178.7L372.3,178.7L376.2,178.7L380.2,178.7L384.2,178.7L388.2,178.7L392.2,178.7L396.1,178.7L400.1,178.7L404.1,178.7L408.1,178.7L412,178.7L416,178.7L420,178.7L424,178.7L427.9,178.7L431.9,178.7L435.9,178.7L439.9,178.7L443.9,178.7L447.8,178.7L451.8,178.7L455.8,178.7L459.8,178.7L463.7,178.7L467.7,178.7L471.7,178.7L475.7,178.7L479.7,178.7L483.6,178.7L487.6,178.7L491.6,178.7L495.6,178.7L499.5,178.7L503.5,178.7L507.5,178.7L511.5,178.7L515.4,178.7L519.4,178.7L523.4,178.7L523.4,170.9L523.4,163L523.4,155.2L523.4,147.4L523.4,139.5L523.4,131.7L523.4,123.9L523.4,116L523.4,108.2L523.4,100.3L523.4,92.5L523.4,84.7L523.4,76.8L523.4,69L523.4,61.2L523.4,53.3L523.4,45.5L523.4,37.7L523.4,29.8L523.4,22L519.4,22L515.4,22L511.5,22L507.5,22L503.5,22L499.5,22L495.6,22L491.6,22L487.6,22L483.6,22L479.7,22L475.7,22L471.7,22L467.7,22L463.7,22L459.8,22L455.8,22L451.8,22L447.8,22L443.9,22L439.9,22L435.9,22L431.9,22L427.9,22L424,22L420,22L416,22L412,22L408.1,22L404.1,22L400.1,22L396.1,22L392.2,22L388.2,22L384.2,22L380.2,22L376.2,22L372.3,22L368.3,22L364.3,22L360.3,22L356.4,22L352.4,22L348.4,22L344.4,22L340.5,22L336.5,22L332.5,22L332.5,29.8L332.5,37.7L332.5,45.5L332.5,53.3L332.5,61.2L332.5,69L332.5,76.8L332.5,77.4L333.3,76.8L336.5,75.9L340.5,75.9L344.4,76.4L347.6,76.8L348.4,77L352.4,78.4L356.4,80.5L360.3,83.2L362.4,84.7L364.3,89.4L365.4,92.5L366.6,100.3L364.3,107.1L363.7,108.2L360.3,110.8L356.4,113.1L352.4,114.4L348.4,114.9L344.4,114.6L340.5,113.7L336.5,112.1L332.5,109.5L332.5,116L332.5,123.9L332.5,131.7L332.5,139.5L332.5,147.4L332.5,155.2L332.5,163L332.5,170.9L332.5,178.7Z" fill="#0086ff" fill-rule="evenodd"/>
<path d="M332.5,178.7L336.5,178.7L340.5,178.7L344.4,178.7L348.4,178.7L352.4,178.7L356.4,178.7L360.3,178.7L364.3,178.7L368.3,178.7L372.3,178.7L376.2,178.7L380.2,178.7L384.2,178.7L388.2,178.7L392.2,178.7L396.1,178.7L400.1,178.7L404.1,178.7L408.1,178.7L412,178.7L416,178.7L420,178.7L424,178.7L427.9,178.7L431.9,178.7L435.9,178.7L439.9,178.7L443.9,178.7L447.8,178.7L451.8,178.7L455.8,178.7L459.8,178.7L463.7,178.7L467.7,178.7L471.7,178.7L475.7,178.7L479.7,178.7L483.6,178.7L487.6,178.7L491.6,178.7L495.6,178.7L499.5,178.7L503.5,178.7L507.5,178.7L511.5,178.7L515.4,178.7L519.4,178.7L523.4,178.7L523.4,170.9L523.4,163L523.4,155.2L523.4,147.4L523.4,139.5L523.4,131.7L523.4,123.9L523.4,116L523.4,108.2L523.4,100.3L523.4,92.5L523.4,84.7L523.4,76.8L523.4,69L523.4,61.2L523.4,53.3L523.4,45.5L523.4,37.7L523.4,29.8L523.4,22L519.4,22L515.4,22L511.5,22L507.5,22L503.5,22L499.5,22L495.6,22L491.6,22L487.6,22L483.6,22L479.7,22L475.7,22L471.7,22L467.7,22L463.7,22L459.8,22L455.8,22L451.8,22L447.8,22L443.9,22L439.9,22L435.9,22L431.9,22L427.9,22L424,22L420,22L416,22L412,22L408.1,22L404.1,22L400.1,22L396.1,22L392.2,22L388.2,22L384.2,22L380.2,22L376.2,22L372.3,22L368.3,22L364.3,22L360.3,22L356.4,22L352.4,22L348.4,22L344.4,22L340.5,22L336.5,22L332.5,22L332.5,29.8L332.5,37.7L332.5,45.5L332.5,53.3L332.5,61.2L332.5,69L332.5,69.4L336.5,70.6L340.5,71.7L344.4,72.7L348.4,73.7L352.4,74.9L356.4,76.7L356.7,76.8L360.3,79.3L364.3,82.2L367,84.7L368.3,88.2L369.5,92.5L370.5,100.3L369,108.2L368.3,109.8L364.3,114.7L362.3,116L360.3,116.9L356.4,118.3L352.4,119.2L348.4,119.5L344.4,119.3L340.5,118.7L336.5,117.7L333,116L332.5,115.7L332.5,116L332.5,123.9L332.5,131.7L332.5,139.5L332.5,147.4L332.5,155.2L332.5,163L332.5,170.9L332.5,178.7ZM487.6,102.8L486.7,100.3L487.1,92.5L487.6,87.1L488.1,84.7L491.6,80.9L495.6,79.3L499.5,78.1L503.5,77.4L507.5,77.1L511.5,78.7L515.4,84.6L515.5,84.7L515.4,84.8L512.1,92.5L511.5,93.2L507.5,95.8L503.5,98.4L501.6,100.3L499.5,102L495.6,104.9L491.6,106.3L487.6,102.8Z" fill="#00abff" fill-rule="evenodd"/>
<path d="M332.5,178.7L336.5,178.7L340.5,178.7L344.4,178.7L348.4,178.7L352.4,178.7L356.4,178.7L360.3,178.7L364.3,178.7L368.3,178.7L372.3,178.7L376.2,178.7L380.2,178.7L384.2,178.7L388.2,178.7L392.2,178.7L396.1,178.7L400.1,178.7L404.1,178.7L408.1,178.7L412,178.7L416,178.7L420,178.7L424,178.7L427.9,178.7L431.9,178.7L435.9,178.7L439.9,178.7L443.9,178.7L447.8,178.7L451.8,178.7L455.8,178.7L459.8,178.7L463.7,178.7L467.7,178.7L471.7,178.7L475.7,178.7L479.7,178.7L483.6,178.7L487.6,178.7L491.6,178.7L495.6,178.7L499.5,178.7L503.5,178.7L507.5,178.7L511.5,178.7L515.4,178.7L519.4,178.7L523.4,178.7L523.4,170.9L523.4,163L523.4,155.2L523.4,147.4L523.4,139.5L523.4,131.7L523.4,123.9L523.4,116L523.4,108.2L523.4,100.3L523.4,92.5L523.4,84.7L523.4,76.8L523.4,69L523.4,61.2L523.4,53.3L523.4,45.5L523.4,37.7L523.4,29.8L523.4,22L519.4,22L515.4,22L511.5,22L507.5,22L503.5,22L499.5,22L495.6,22L491.6,22L487.6,22L483.6,22L479.7,22L475.7,22L471.7,22L467.7,22L463.7,22L459.8,22L455.8,22L451.8,22L447.8,22L443.9,22L439.9,22L435.9,22L431.9,22L427.9,22L424,22L420,22L416,22L412,22L408.1,22L404.1,22L400.1,22L396.1,22L392.2,22L388.2,22L384.2,22L380.2,22L376.2,22L372.3,22L368.3,22L364.3,22L360.3,22L356.4,22L352.4,22L348.4,22L344.4,22L340.5,22L336.5,22L332.5,22L332.5,29.8L332.5,37.7L332.5,45.5L332.5,53.3L332.5,61.2L332.5,61.4L336.5,64L340.5,66.5L344.4,69L348.4,70.4L352.4,71.9L356.4,73.6L360.3,75.7L362.3,76.8L364.3,78.3L368.3,81.9L370.5,84.7L372.3,90.8L372.7,92.5L373.6,100.3L372.6,108.2L372.3,109.3L369.3,116L368.3,117.3L364.3,120.1L360.3,121.7L356.4,122.9L352.4,123.6L348.8,123.9L348.4,123.9L347.8,123.9L344.4,123.7L340.5,123.3L336.5,122.7L332.5,121.5L332.5,123.9L332.5,131.7L332.5,139.5L332.5,147.4L332.5,155.2L332.5,163L332.5,170.9L332.5,178.7ZM487.6,111.5L484.9,108.2L483.6,103.8L483.1,100.3L483.4,92.5L483.6,90L484.2,84.7L487.6,76.9L487.7,76.8L491.6,73.9L495.6,72.8L499.5,72.1L503.5,71.6L507.5,71.4L511.5,72.1L515.4,74.7L517,76.8L519.3,84.7L517.8,92.5L515.4,96.6L511.5,100.3L511.5,100.4L507.5,103.2L503.5,106.3L501.4,108.2L499.5,109.5L495.6,111.9L491.6,112.8L487.6,111.5Z" fill="#00d0ff" fill-rule="evenodd"/>
<path d="M332.5,178.7L336.5,178.7L340.5,178.7L344.4,178.7L348.4,178.7L352.4,178.7L356.4,178.7L360.3,178.7L364.3,178.7L368.3,178.7L372.3,178.7L376.2,178.7L380.2,178.7L384.2,178.7L388.2,178.7L392.2,178.7L396.1,178.7L400.1,178.7L404.1,178.7L408.1,178.7L412,178.7L416,178.7L420,178.7L424,178.7L427.9,178.7L431.9,178.7L435.9,178.7L439.9,178.7L443.9,178.7L447.8,178.7L451.8,178.7L455.8,178.7L459.8,178.7L463.7,178.7L467.7,178.7L471.7,178.7L475.7,178.7L479.7,178.7L483.6,178.7L487.6,178.7L491.6,178.7L495.6,178.7L499.5,178.7L503.5,178.7L507.5,178.7L511.5,178.7L515.4,178.7L519.4,178.7L523.4,178.7L523.4,170.9L523.4,163L523.4,155.2L523.4,147.4L523.4,139.5L523.4,131.7L523.4,123.9L523.4,116L523.4,108.2L523.4,100.3L523.4,92.5L523.4,84.7L523.4,76.8L523.4,69L523.4,61.2L523.4,53.3L523.4,45.5L523.4,37.7L523.4,29.8L523.4,22L519.4,22L515.4,22L511.5,22L507.5,22L503.5,22L499.5,22L495.6,22L491.6,22L489.5,22L491.6,23.2L495.6,24.1L499.5,24.9L503.5,25.7L507.5,26.7L511.5,28.3L513.5,29.8L515.4,35.6L515.9,37.7L515.4,38.9L511.5,44.3L509.3,45.5L507.5,46.3L503.5,47.1L499.5,47.6L495.6,47.9L491.6,48.1L487.6,47L485.9,45.5L483.6,43.3L480.1,37.7L479.7,36.6L475.7,31.5L473.9,29.8L471.7,28.4L467.7,23.7L466.9,22L463.7,22L459.8,22L455.8,22L451.8,22L447.8,22L443.9,22L439.9,22L435.9,22L431.9,22L427.9,22L424,22L420,22L416,22L412,22L408.1,22L404.1,22L400.1,22L396.1,22L392.2,22L388.2,22L384.2,22L380.2,22L376.2,22L372.3,22L368.3,22L364.3,22L360.3,22L356.4,22L352.4,22L348.4,22L344.4,22L340.5,22L336.5,22L332.5,22L332.5,29.8L332.5,37.7L332.5,45.5L332.5,53.3L332.5,54.2L336.5,56.9L340.5,59.7L342.3,61.2L344.4,62.7L348.4,65.5L352.4,68.6L352.9,69L356.4,70.6L360.3,72.6L364.3,74.9L367.1,76.8L368.3,77.9L372.3,82.7L373.5,84.7L375.6,92.5L376.2,98.4L376.5,100.3L376.2,102.9L375.7,108.2L373.5,116L372.3,118.2L368.3,122.8L366.5,123.9L364.3,125L360.3,126.2L356.4,127.3L352.4,127.9L348.4,128.2L344.4,128.1L340.5,127.9L336.5,127.6L332.5,127.1L332.5,131.7L332.5,139.5L332.5,147.4L332.5,155.2L332.5,163L332.5,170.9L332.5,178.7ZM483.6,116.2L483.5,116L480.6,108.2L480.1,100.3L480.5,92.5L481.2,84.7L482.9,76.8L483.6,74.5L487.6,69.2L487.9,69L491.6,65.3L495.6,64L499.5,63.2L503.5,62.8L507.5,62.6L511.5,63.2L515.4,65.3L518.7,69L519.4,69.8L521.9,76.8L522.6,84.7L522.1,92.5L519.9,100.3L519.4,100.9L515.4,104.9L511.5,107.8L510.9,108.2L507.5,110.3L503.5,113L499.5,115.7L499,116L495.6,118.3L491.6,119.6L487.6,119L483.6,116.2Z" fill="#00f4ff" fill-rule="evenodd"/>
<path d="M332.5,178.7L336.5,178.7L340.5,178.7L344.4,178.7L348.4,178.7L352.4,178.7L356.4,178.7L360.3,178.7L364.3,178.7L368.3,178.7L372.3,178.7L376.2,178.7L380.2,178.7L384.2,178.7L388.2,178.7L392.2,178.7L396.1,178.7L400.1,178.7L404.1,178.7L408.1,178.7L412,178.7L416,178.7L420,178.7L424,178.7L427.9,178.7L431.9,178.7L435.9,178.7L439.9,178.7L443.9,178.7L447.8,178.7L451.8,178.7L455.8,178.7L459.8,178.7L463.7,178.7L467.7,178.7L471.7,178.7L475.7,178.7L479.7,178.7L483.6,178.7L487.6,178.7L491.6,178.7L495.6,178.7L499.5,178.7L503.5,178.7L507.5,178.7L511.5,178.7L515.4,178.7L519.4,178.7L523.4,178.7L523.4,170.9L523.4,163L523.4,155.2L523.4,147.4L523.4,139.5L523.4,131.7L523.4,123.9L523.4,116L523.4,108.2L523.4,107.4L522.7,108.2L519.4,110.5L515.4,113.1L511.5,115.3L510.2,116L507.5,117.6L503.5,120.4L499.5,123.4L498.9,123.9L495.6,126.1L491.6,127.6L487.6,128.3L483.6,128.7L479.7,128.8L475.7,126.6L474.7,123.9L474.1,116L475.7,110.9L476.1,108.2L477.2,100.3L477.7,92.5L478.2,84.7L478.7,76.8L479.2,69L479,61.2L478.1,53.3L475.7,49L474.2,45.5L471.7,41.5L469,37.7L467.7,36.3L463.7,30.9L463.2,29.8L460.8,22L459.8,22L455.8,22L451.8,22L447.8,22L443.9,22L439.9,22L435.9,22L431.9,22L427.9,22L424,22L420,22L416,22L412,22L408.1,22L404.1,22L400.1,22L396.1,22L392.2,22L388.2,22L384.2,22L380.2,22L376.2,22L372.3,22L368.3,22L364.3,22L360.3,22L356.4,22L352.4,22L348.4,22L344.4,22L340.5,22L336.5,22L332.5,22L332.5,29.8L332.5,37.7L332.5,45.5L332.5,47.7L336.5,50.2L340.5,52.8L341.3,53.3L344.4,55.9L348.4,59.2L350.4,61.2L352.4,62.7L356.4,66.3L359.3,69L360.3,69.5L364.3,71.7L368.3,74.4L371,76.8L372.3,78.3L376.2,84.5L376.3,84.7L378.4,92.5L379.2,100.3L378.7,108.2L377.2,116L376.2,118.1L372.7,123.9L372.3,124.4L368.3,127.6L364.3,129.4L360.3,130.6L356.4,131.6L355.6,131.7L352.4,132.4L348.4,132.8L344.4,132.9L340.5,133L336.5,133L332.5,133L332.5,139.5L332.5,147.4L332.5,155.2L332.5,163L332.5,170.9L332.5,178.7Z" fill="#1affe5" fill-rule="evenodd"/>
<path d="M332.5,178.7L336.5,178.7L340.5,178.7L344.4,178.7L348.4,178.7L352.4,178.7L356.4,178.7L360.3,178.7L364.3,178.7L368.3,178.7L372.3,178.7L376.2,178.7L380.2,178.7L384.2,178.7L388.2,178.7L392.2,178.7L396.1,178.7L400.1,178.7L404.1,178.7L408.1,178.7L412,178.7L416,178.7L420,178.7L424,178.7L427.9,178.7L431.9,178.7L435.9,178.7L439.9,178.7L443.9,178.7L447.8,178.7L451.8,178.7L455.8,178.7L459.8,178.7L463.7,178.7L467.7,178.7L471.7,178.7L475.7,178.7L479.7,178.7L483.6,178.7L487.6,178.7L491.6,178.7L495.6,178.7L499.5,178.7L503.5,178.7L507.5,178.7L511.5,178.7L515.4,178.7L519.4,178.7L523.4,178.7L523.4,170.9L523.4,163L523.4,155.2L523.4,147.4L523.4,139.5L523.4,131.7L523.4,123.9L523.4,118.1L519.4,120.5L515.4,122.6L512.9,123.9L511.5,124.6L507.5,126.5L503.5,128.8L499.5,131.5L499.2,131.7L495.6,133.3L491.6,134.3L487.6,135L483.6,135.8L479.7,136.7L475.7,137.6L471.7,137.8L467.7,136L464.9,131.7L465.6,123.9L466.8,116L467.7,115.1L471.7,108.5L471.8,108.2L474.3,100.3L474.9,92.5L475.2,84.7L474.7,76.8L472.9,69L471.7,64.1L471,61.2L468.8,53.3L467.7,50.8L464.8,45.5L463.7,44L459.8,39.1L458.7,37.7L455.8,31L455.3,29.8L453.2,22L451.8,22L447.8,22L443.9,22L439.9,22L435.9,22L431.9,22L427.9,22L424,22L420,22L416,22L412,22L408.1,22L404.1,22L400.1,22L396.1,22L392.2,22L388.2,22L384.2,22L380.2,22L376.2,22L372.3,22L368.3,22L364.3,22L360.3,22L356.4,22L352.4,22L348.4,22L344.4,22L340.5,22L336.5,22L332.5,22L332.5,29.8L332.5,37.7L332.5,41.2L336.5,43.9L338.8,45.5L340.5,46.6L344.4,49.4L348.4,52.4L349.5,53.3L352.4,56.1L356.4,60.5L357,61.2L360.3,64.3L364.3,68.1L365.1,69L368.3,71L372.3,74.3L374.6,76.8L376.2,79.3L379.3,84.7L380.2,88.7L381.1,92.5L381.8,100.3L381.5,108.2L380.7,116L380.2,117.6L377.5,123.9L376.2,125.5L372.3,129.6L369.3,131.7L368.3,132.4L364.3,134.4L360.3,135.8L356.4,137.2L352.4,138.3L348.4,139L344.4,139.4L342.8,139.5L340.5,139.8L336.5,140.1L332.5,140.2L332.5,147.4L332.5,155.2L332.5,163L332.5,170.9L332.5,178.7Z" fill="#3fffc0" fill-rule="evenodd"/>
<path d="M332.5,178.7L336.5,178.7L340.5,178.7L344.4,178.7L348.4,178.7L352.4,178.7L356.4,178.7L360.3,178.7L364.3,178.7L368.3,178.7L372.3,178.7L376.2,178.7L380.2,178.7L384.2,178.7L388.2,178.7L392.2,178.7L396.1,178.7L400.1,178.7L404.1,178.7L408.1,178.7L412,178.7L416,178.7L420,178.7L423.2,178.7L420,172.3L419,170.9L416.3,163L419.4,155.2L420,154.2L422.5,147.4L424,146.5L427.9,145.2L431.9,144.3L435.9,142.8L439.9,140.3L441.1,139.5L443.9,138.2L447.8,136.5L451.8,134.1L454,131.7L455.8,129.3L458,123.9L459.8,119.7L461,116L463.7,114L467.7,109.2L468.3,108.2L471.5,100.3L471.7,96.8L472,92.5L472.3,84.7L471.7,80.7L471.1,76.8L468.1,69L467.7,67.5L465.8,61.2L463.7,55.2L463,53.3L459.8,48.5L457.6,45.5L455.8,42.8L452.5,37.7L451.8,36.1L449,29.8L447.8,26.9L445.6,22L443.9,22L439.9,22L435.9,22L431.9,22L427.9,22L424,22L420,22L416,22L412,22L408.1,22L404.1,22L400.1,22L396.1,22L392.2,22L388.2,22L384.2,22L380.2,22L376.2,22L372.3,22L368.3,22L364.3,22L360.3,22L356.4,22L352.4,22L348.4,22L344.4,22L340.5,22L336.5,22L332.5,22L332.5,29.8L332.5,34.4L336.5,37.5L336.7,37.7L340.5,40.3L344.4,43.1L347.5,45.5L348.4,46.2L352.4,49.5L356.1,53.3L356.4,53.6L360.3,58.1L363.1,61.2L364.3,62.4L368.3,66.4L370.4,69L372.3,70.4L376.2,74.4L378.1,76.8L380.2,80.6L382.1,84.7L383.7,92.5L384.2,99.7L384.2,100.3L384.2,103.9L384.1,108.2L383.8,116L381.9,123.9L380.2,127.1L376.3,131.7L376.2,131.8L372.3,135.4L368.3,138L365,139.5L364.3,139.9L360.3,141.5L356.4,143.1L352.4,144.7L348.4,145.8L344.4,146.6L340.5,147.4L336.5,147.9L332.5,148.1L332.5,155.2L332.5,163L332.5,170.9L332.5,178.7ZM483.2,170.9L483.6,173L485,178.7L487.6,178.7L491.6,178.7L495.6,178.7L499.5,178.7L501.6,178.7L503.5,178L507.5,177.5L511.5,177.6L515.4,177.7L519.4,177.8L523.4,177.8L523.4,170.9L523.4,163L523.4,155.2L523.4,147.4L523.4,139.5L523.4,134.1L519.4,134L515.4,134.5L511.5,135.1L507.5,135.7L503.5,136.9L499.5,138.1L495.6,139L492.2,139.5L491.6,139.6L487.6,140.6L483.6,142.1L479.7,143.8L475.7,145.4L471.7,146.9L470.6,147.4L471.7,149.5L475,155.2L475.7,156L479.7,161.3L480.7,163L483.2,170.9Z" fill="#64ff9b" fill-rule="evenodd"/>
<path d="M332.5,170.9L332.5,174.7L336.5,178L337.3,178.7L340.5,178.7L344.4,178.7L348.4,178.7L352.4,178.7L356.4,178.7L360.3,178.7L364.3,178.7L368.3,178.7L372.3,178.7L376.2,178.7L380.2,178.7L384.2,178.7L388.2,178.7L392.2,178.7L396.1,178.7L400.1,178.7L404.1,178.7L408.1,178.7L412,178.7L413.2,178.7L412,177.2L408.1,172L407.2,170.9L404.9,163L407.7,155.2L408.1,154.7L412,150.4L414.4,147.4L416,146.4L420,143.8L424,141.7L427.9,140.4L430.6,139.5L431.9,139.2L435.9,137.7L439.9,135L443.5,131.7L443.9,131.3L447.8,128.2L451.4,123.9L451.8,123.4L455.8,117L456.3,116L459.8,113.5L463.7,109.9L465.1,108.2L467.7,103.3L469,100.3L469.4,92.5L469.6,84.7L467.9,76.8L467.7,76.5L463.9,69L463.7,68.4L461,61.2L459.8,58.3L457.6,53.3L455.8,50.7L452.4,45.5L451.8,44.6L447.8,38.5L447.2,37.7L443.9,31.4L443,29.8L439.9,23.8L438.8,22L435.9,22L431.9,22L427.9,22L424,22L420,22L416,22L412,22L408.1,22L404.1,22L400.1,22L396.1,22L392.2,22L388.2,22L384.2,22L380.2,22L376.2,22L372.3,22L368.3,22L364.3,22L360.3,22L356.4,22L352.4,22L348.4,22L344.4,22L340.5,22L336.5,22L332.5,22L332.5,26.9L336.1,29.8L336.5,30.1L340.5,33.2L344.4,36.4L345.9,37.7L348.4,39.5L352.4,42.8L355.1,45.5L356.4,46.7L360.3,50.9L362.5,53.3L364.3,55.3L368.3,59.9L369.2,61.2L372.3,64.6L375.4,69L376.2,69.8L380.2,74.6L381.7,76.8L384.2,82.4L385,84.7L386,92.5L386.4,100.3L386.6,108.2L386.6,116L385.8,123.9L384.2,129.4L383,131.7L380.2,135.3L376.2,138.7L375.2,139.5L372.3,141.6L368.3,143.9L364.3,145.7L360.5,147.4L360.3,147.4L356.4,148.8L352.4,150.2L348.4,151.3L344.4,152.2L340.5,153.2L336.5,154.2L332.7,155.2L332.5,155.3L332.5,163L332.5,170.9ZM510.8,163L511.5,163.3L515.4,165.2L519.4,166.9L523.4,168.5L523.4,163L523.4,155.2L523.4,154.9L519.4,154.6L515.4,154.6L513.6,155.2L511.5,159.6L510.8,163Z" fill="#89ff76" fill-rule="evenodd"/>
<path d="M340.4,170.9L340.5,170.9L344.4,174.3L348.4,178.3L348.8,178.7L352.4,178.7L356.4,178.7L360.3,178.7L364.3,178.7L368.3,178.7L372.3,178.7L376.2,178.7L380.2,178.7L384.2,178.7L388.2,178.7L392.2,178.7L396.1,178.7L400.1,178.7L404.1,178.7L406.5,178.7L404.1,175.2L400.5,170.9L400.1,169.8L397,163L399.7,155.2L400.1,154.6L404.1,149.1L405.5,147.4L408.1,145.3L412,143L416,140.9L418.5,139.5L420,139L424,137.9L427.9,137.3L431.9,136.3L435.9,134L438.5,131.7L439.9,130.3L443.9,126L445.9,123.9L447.8,122L451.8,116.8L452.3,116L455.8,113.5L459.8,110.3L461.8,108.2L463.7,105.6L466.5,100.3L466.8,92.5L466.9,84.7L464.7,76.8L463.7,75L459.8,69.2L459.6,69L456.2,61.2L455.8,60.1L452.9,53.3L451.8,51.7L447.8,46L447.5,45.5L443.9,40.6L441.8,37.7L439.9,34L437.8,29.8L435.9,26.6L432.6,22L431.9,22L427.9,22L424,22L420,22L416,22L412,22L408.1,22L404.1,22L400.1,22L396.1,22L392.2,22L388.2,22L384.2,22L380.2,22L376.2,22L372.3,22L368.3,22L364.3,22L360.3,22L356.4,22L352.4,22L348.4,22L344.4,22L340.5,22L336.5,22L340.5,25.1L344.4,28.4L346.1,29.8L348.4,31.6L352.4,35.1L354.9,37.7L356.4,39L360.3,43L362.5,45.5L364.3,47.4L368.3,51.8L369.5,53.3L372.3,56.7L375.4,61.2L376.2,62.3L380.2,68.7L380.4,69L384.2,74.6L385.3,76.8L387.8,84.7L388.2,90.9L388.3,92.5L388.6,100.3L388.9,108.2L389.3,116L389.4,123.9L389.1,131.7L388.2,135.2L386.1,139.5L384.2,141.7L380.2,144.4L376.2,146.4L374.4,147.4L372.3,148.4L368.3,150L364.3,151.1L360.3,152.2L356.4,153.6L352.4,155.1L352.2,155.2L348.4,157.4L344.4,159.4L340.5,161.7L338.3,163L340.4,170.9Z" fill="#aeff51" fill-rule="evenodd"/>
<path d="M353.7,170.9L356.4,173.9L360.3,178.6L360.4,178.7L364.3,178.7L368.3,178.7L372.3,178.7L376.2,178.7L380.2,178.7L384.2,178.7L388.2,178.7L392.2,178.7L396.1,178.7L400.1,178.7L401,178.7L400.1,177.6L396.1,173.9L392.3,170.9L392.2,170.6L388.2,163.7L387.6,163L384.2,157.7L380.2,156.3L376.2,156.3L372.3,156.4L368.3,156.3L364.3,156.9L360.3,158.3L356.4,160.6L352.8,163L353.7,170.9ZM396.1,131.7L396.1,131.8L400.1,138.6L404.1,139L408.1,138.5L412,137.7L416,136.8L420,135.8L424,135.1L427.9,134.5L431.9,133.3L434.4,131.7L435.9,130.5L439.9,126.1L441.8,123.9L443.9,121.5L447.8,117.2L448.7,116L451.8,113.9L455.8,110.8L458.7,108.2L459.8,106.8L463.7,101.1L464.2,100.3L464.2,92.5L464.2,84.7L463.7,83.3L461,76.8L459.8,75L455.8,69.7L455.3,69L451.9,61.2L451.8,61L448.2,53.3L447.8,52.9L443.9,48.2L441.4,45.5L439.9,43.5L436.7,37.7L435.9,36.1L432.5,29.8L431.9,28.9L427.9,24.6L425.2,22L424,22L420,22L416,22L412,22L408.1,22L404.1,22L400.1,22L396.1,22L392.2,22L388.2,22L384.2,22L380.2,22L376.2,22L372.3,22L368.3,22L364.3,22L360.3,22L356.4,22L352.4,22L348.4,22L352.4,25.2L356.4,29L357.1,29.8L360.3,33L364.3,37.7L368.3,42.1L370.9,45.5L372.3,47.1L376.2,52.1L377.2,53.3L380.2,57.8L382.1,61.2L384.2,65.3L385.5,69L388.2,74.7L388.9,76.8L390.6,84.7L390.7,92.5L390.7,100.3L391.1,108.2L391.9,116L392.2,117.7L393.4,123.9L396.1,131.7Z" fill="#d2ff2d" fill-rule="evenodd"/>
<path d="M370,178.7L372.3,178.7L376.2,178.7L380.2,178.7L384.2,178.7L388.2,178.7L392.2,178.7L393.2,178.7L392.2,177.9L388.2,174.7L384.2,171.4L383.1,170.9L380.2,169.1L376.2,168.6L372.3,169.6L371.3,170.9L370,178.7ZM405.1,131.7L408.1,133.1L412,133.4L416,133L420,132.6L424,132.2L427.9,131.8L428.3,131.7L431.9,130.4L435.9,127.2L438.7,123.9L439.9,122.3L443.9,117.5L445.2,116L447.8,114.3L451.8,111.5L455.6,108.2L455.8,108L459.8,103.1L461.6,100.3L461.5,92.5L461,84.7L459.8,81.8L456.8,76.8L455.8,75.5L451.8,70L451.1,69L447.8,62.3L447.1,61.2L443.9,56.2L441,53.3L439.9,52.3L435.9,47.9L434.3,45.5L431.9,40L430.9,37.7L428,33.4L424.8,29.8L424,29.1L420,25.7L416.3,22L416,22L412,22L408.1,22L404.1,22L400.1,22L396.1,22L392.2,22L388.2,22L384.2,22L380.2,22L376.2,22L372.3,22L368.3,22L364.3,22L363.7,22L364.3,22.7L368.3,28.4L369.2,29.8L372.3,34L374.9,37.7L376.2,39.3L380.2,44.1L381.5,45.5L384.2,48.7L387.5,53.3L388.2,55.1L389.6,61.2L390.6,69L392.2,74.9L392.5,76.8L393.7,84.7L393.3,92.5L393,100.3L393.6,108.2L395,116L396.1,120L397.8,123.9L400.1,127.6L404.1,131.2L405.1,131.7Z" fill="#f7ff08" fill-rule="evenodd"/>
<path d="M402.4,123.9L404.1,125.8L408.1,128.5L412,129.4L416,129.6L420,129.5L424,129.4L427.9,129.1L431.9,127.6L435.9,123.9L439.9,118.8L442.2,116L443.9,114.6L447.8,112.1L451.8,109.1L452.9,108.2L455.8,104.7L459.1,100.3L458.7,92.5L457.4,84.7L455.8,81.9L452.3,76.8L451.8,76.1L447.8,70.8L446.3,69L443.9,65.2L439.9,61.2L435.9,58.1L431.9,55.4L428.9,53.3L427.9,51.6L425.2,45.5L424,42.9L421.1,37.7L420,36.5L416,33.4L412,31.2L409.2,29.8L408.1,28.9L404.9,22L404.1,22L400.1,22L396.1,22L392.2,22L388.2,22L384.2,22L380.2,22L378.5,22L380.2,24L384.2,28L386,29.8L388.2,32L392.2,36L393.7,37.7L396.1,40.6L397.7,45.5L398.3,53.3L396.7,61.2L396.1,65.4L395.7,69L396.1,72.6L396.5,76.8L397.1,84.7L396.1,92.2L396.1,92.5L395.4,100.3L396.1,107.5L396.2,108.2L398.2,116L400.1,120.2L402.4,123.9Z" fill="#ffe200" fill-rule="evenodd"/>
<path d="M407.7,123.9L408.1,124.1L412,125.7L416,126.2L420,126.5L424,126.5L427.9,126.4L431.9,124.7L432.9,123.9L435.9,120.7L439.4,116L439.9,115.6L443.9,112.4L447.8,109.9L450,108.2L451.8,106.3L455.8,101.3L456.5,100.3L455.9,92.5L455.8,92.2L453.4,84.7L451.8,82.3L447.8,77.3L447.4,76.8L443.9,72.9L439.9,69.3L439.5,69L435.9,65.9L431.9,63.5L427.9,61.3L427.7,61.2L424,57.8L420,53.8L419.4,53.3L416,48.5L412,46.8L408.1,49L405.8,53.3L404.1,55.7L401.8,61.2L400.1,68.9L400.1,69L400.1,69.3L400.5,76.8L401,84.7L400.1,88.3L399.3,92.5L398.1,100.3L399.1,108.2L400.1,111.6L401.6,116L404.1,120.2L407.7,123.9Z" fill="#ffbd00" fill-rule="evenodd"/>
<path d="M405.2,116L408.1,119.3L412,121.7L416,122.7L420,123.3L424,123.6L427.9,123.6L431.9,121.7L435.9,117.6L437.1,116L439.9,113.1L443.9,110.1L446.9,108.2L447.8,107.4L451.8,103.2L454.1,100.3L452.9,92.5L451.8,89.5L448.8,84.7L447.8,83.5L443.9,79.4L440.9,76.8L439.9,75.9L435.9,72.8L431.9,70.2L429.7,69L427.9,68L424,65.5L420,62.3L418.5,61.2L416,59.1L412,57.4L408.1,59.5L406.9,61.2L404.1,68.6L404,69L404.1,70.5L404.6,76.8L405.2,84.7L404.1,87.5L402.7,92.5L400.9,100.3L402.2,108.2L404.1,113.6L405.2,116Z" fill="#ff9800" fill-rule="evenodd"/>
<path d="M410,116L412,117.4L416,118.9L420,119.9L424,120.4L427.9,120.5L431.9,118.7L434.4,116L435.9,114.4L439.9,110.5L443.4,108.2L443.9,107.8L447.8,104.4L451.5,100.3L449.7,92.5L447.8,89.4L443.9,85.5L442.8,84.7L439.9,82.2L435.9,79.1L432.1,76.8L431.9,76.7L427.9,75L424,73.4L420,71.2L417.5,69L416,68.1L412,66.8L409.8,69L410.4,76.8L410.8,84.7L408.1,88.5L406.4,92.5L404.1,99.3L403.8,100.3L404.1,101.8L405.4,108.2L408.1,113.7L410,116Z" fill="#ff7300" fill-rule="evenodd"/>
<path d="M418.8,116L420,116.4L424,117.1L427.9,117.4L431,116L431.9,115.5L435.9,111.3L439.7,108.2L439.9,107.9L443.9,104.5L447.8,101.3L448.7,100.3L447.8,97.2L445.6,92.5L443.9,90.6L439.9,87.7L435.9,85.1L435,84.7L431.9,82.9L427.9,81.7L424,81.9L420,84.1L419.5,84.7L416,87L412,91.2L411.2,92.5L408.1,97.9L407.2,100.3L408.1,104.3L409.3,108.2L412,111.7L416,114.6L418.8,116Z" fill="#ff4e00" fill-rule="evenodd"/>
<path d="M415.2,108.2L416,108.9L420,111.4L424,112.9L427.9,113.5L431.9,111.5L435.9,108.2L436,108.2L439.9,104L443.9,101.2L445,100.3L443.9,98L439.9,92.8L439.6,92.5L435.9,90L431.9,88.2L428,87.5L424,88.1L420,90.1L417.1,92.5L416,93.9L412,99.3L411.4,100.3L412,102.1L415.2,108.2Z" fill="#ff2a00" fill-rule="evenodd"/>
<path d="M423.9,108.2L424,108.2L428,108.9L429.9,108.2L431.9,106.9L435.9,102.9L439.2,100.3L435.9,96.6L431.9,93.4L428.6,92.5L427.9,92.4L427.5,92.5L424,93.7L420,97.1L417.3,100.3L420,104.5L423.9,108.2Z" fill="#ff0500" fill-rule="evenodd"/>
<path d="M344.4,109.2L340.5,108.2L336.5,104.7L333.3,100.3L333.9,92.5L335.3,84.7L336.5,83.4L340.5,81.6L344.4,81.2L348.4,81.5L352.4,82.5L356.4,84.5L356.7,84.7L359.3,92.5L360.3,98.6L360.6,100.3L360.3,100.9L356.4,106.3L354.1,108.2L352.4,108.9L348.4,109.5L344.4,109.2M332.5,77.4L333.3,76.8L336.5,75.9L340.5,75.9L344.4,76.4L347.6,76.8L348.4,77L352.4,78.4L356.4,80.5L360.3,83.2L362.4,84.7L364.3,89.4L365.4,92.5L366.6,100.3L364.3,107.1L363.7,108.2L360.3,110.8L356.4,113.1L352.4,114.4L348.4,114.9L344.4,114.6L340.5,113.7L336.5,112.1L332.5,109.5M487.6,102.8L486.7,100.3L487.1,92.5L487.6,87.1L488.1,84.7L491.6,80.9L495.6,79.3L499.5,78.1L503.5,77.4L507.5,77.1L511.5,78.7L515.4,84.6L515.5,84.7L515.4,84.8L512.1,92.5L511.5,93.2L507.5,95.8L503.5,98.4L501.6,100.3L499.5,102L495.6,104.9L491.6,106.3L487.6,102.8M332.5,69.4L336.5,70.6L340.5,71.7L344.4,72.7L348.4,73.7L352.4,74.9L356.4,76.7L356.7,76.8L360.3,79.3L364.3,82.2L367,84.7L368.3,88.2L369.5,92.5L370.5,100.3L369,108.2L368.3,109.8L364.3,114.7L362.3,116L360.3,116.9L356.4,118.3L352.4,119.2L348.4,119.5L344.4,119.3L340.5,118.7L336.5,117.7L333,116L332.5,115.7M487.6,111.5L484.9,108.2L483.6,103.8L483.1,100.3L483.4,92.5L483.6,90L484.2,84.7L487.6,76.9L487.7,76.8L491.6,73.9L495.6,72.8L499.5,72.1L503.5,71.6L507.5,71.4L511.5,72.1L515.4,74.7L517,76.8L519.3,84.7L517.8,92.5L515.4,96.6L511.5,100.3L511.5,100.4L507.5,103.2L503.5,106.3L501.4,108.2L499.5,109.5L495.6,111.9L491.6,112.8L487.6,111.5M332.5,61.4L336.5,64L340.5,66.5L344.4,69L348.4,70.4L352.4,71.9L356.4,73.6L360.3,75.7L362.3,76.8L364.3,78.3L368.3,81.9L370.5,84.7L372.3,90.8L372.7,92.5L373.6,100.3L372.6,108.2L372.3,109.3L369.3,116L368.3,117.3L364.3,120.1L360.3,121.7L356.4,122.9L352.4,123.6L348.8,123.9L348.4,123.9L347.8,123.9L344.4,123.7L340.5,123.3L336.5,122.7L332.5,121.5M483.6,116.2L483.5,116L480.6,108.2L480.1,100.3L480.5,92.5L481.2,84.7L482.9,76.8L483.6,74.5L487.6,69.2L487.9,69L491.6,65.3L495.6,64L499.5,63.2L503.5,62.8L507.5,62.6L511.5,63.2L515.4,65.3L518.7,69L519.4,69.8L521.9,76.8L522.6,84.7L522.1,92.5L519.9,100.3L519.4,100.9L515.4,104.9L511.5,107.8L510.9,108.2L507.5,110.3L503.5,113L499.5,115.7L499,116L495.6,118.3L491.6,119.6L487.6,119L483.6,116.2M332.5,54.2L336.5,56.9L340.5,59.7L342.3,61.2L344.4,62.7L348.4,65.5L352.4,68.6L352.9,69L356.4,70.6L360.3,72.6L364.3,74.9L367.1,76.8L368.3,77.9L372.3,82.7L373.5,84.7L375.6,92.5L376.2,98.4L376.5,100.3L376.2,102.9L375.7,108.2L373.5,116L372.3,118.2L368.3,122.8L366.5,123.9L364.3,125L360.3,126.2L356.4,127.3L352.4,127.9L348.4,128.2L344.4,128.1L340.5,127.9L336.5,127.6L332.5,127.1M489.5,22L491.6,23.2L495.6,24.1L499.5,24.9L503.5,25.7L507.5,26.7L511.5,28.3L513.5,29.8L515.4,35.6L515.9,37.7L515.4,38.9L511.5,44.3L509.3,45.5L507.5,46.3L503.5,47.1L499.5,47.6L495.6,47.9L491.6,48.1L487.6,47L485.9,45.5L483.6,43.3L480.1,37.7L479.7,36.6L475.7,31.5L473.9,29.8L471.7,28.4L467.7,23.7L466.9,22M523.4,107.4L522.7,108.2L519.4,110.5L515.4,113.1L511.5,115.3L510.2,116L507.5,117.6L503.5,120.4L499.5,123.4L498.9,123.9L495.6,126.1L491.6,127.6L487.6,128.3L483.6,128.7L479.7,128.8L475.7,126.6L474.7,123.9L474.1,116L475.7,110.9L476.1,108.2L477.2,100.3L477.7,92.5L478.2,84.7L478.7,76.8L479.2,69L479,61.2L478.1,53.3L475.7,49L474.2,45.5L471.7,41.5L469,37.7L467.7,36.3L463.7,30.9L463.2,29.8L460.8,22M332.5,47.7L336.5,50.2L340.5,52.8L341.3,53.3L344.4,55.9L348.4,59.2L350.4,61.2L352.4,62.7L356.4,66.3L359.3,69L360.3,69.5L364.3,71.7L368.3,74.4L371,76.8L372.3,78.3L376.2,84.5L376.3,84.7L378.4,92.5L379.2,100.3L378.7,108.2L377.2,116L376.2,118.1L372.7,123.9L372.3,124.4L368.3,127.6L364.3,129.4L360.3,130.6L356.4,131.6L355.6,131.7L352.4,132.4L348.4,132.8L344.4,132.9L340.5,133L336.5,133L332.5,133M523.4,118.1L519.4,120.5L515.4,122.6L512.9,123.9L511.5,124.6L507.5,126.5L503.5,128.8L499.5,131.5L499.2,131.7L495.6,133.3L491.6,134.3L487.6,135L483.6,135.8L479.7,136.7L475.7,137.6L471.7,137.8L467.7,136L464.9,131.7L465.6,123.9L466.8,116L467.7,115.1L471.7,108.5L471.8,108.2L474.3,100.3L474.9,92.5L475.2,84.7L474.7,76.8L472.9,69L471.7,64.1L471,61.2L468.8,53.3L467.7,50.8L464.8,45.5L463.7,44L459.8,39.1L458.7,37.7L455.8,31L455.3,29.8L453.2,22M332.5,41.2L336.5,43.9L338.8,45.5L340.5,46.6L344.4,49.4L348.4,52.4L349.5,53.3L352.4,56.1L356.4,60.5L357,61.2L360.3,64.3L364.3,68.1L365.1,69L368.3,71L372.3,74.3L374.6,76.8L376.2,79.3L379.3,84.7L380.2,88.7L381.1,92.5L381.8,100.3L381.5,108.2L380.7,116L380.2,117.6L377.5,123.9L376.2,125.5L372.3,129.6L369.3,131.7L368.3,132.4L364.3,134.4L360.3,135.8L356.4,137.2L352.4,138.3L348.4,139L344.4,139.4L342.8,139.5L340.5,139.8L336.5,140.1L332.5,140.2M423.2,178.7L420,172.3L419,170.9L416.3,163L419.4,155.2L420,154.2L422.5,147.4L424,146.5L427.9,145.2L431.9,144.3L435.9,142.8L439.9,140.3L441.1,139.5L443.9,138.2L447.8,136.5L451.8,134.1L454,131.7L455.8,129.3L458,123.9L459.8,119.7L461,116L463.7,114L467.7,109.2L468.3,108.2L471.5,100.3L471.7,96.8L472,92.5L472.3,84.7L471.7,80.7L471.1,76.8L468.1,69L467.7,67.5L465.8,61.2L463.7,55.2L463,53.3L459.8,48.5L457.6,45.5L455.8,42.8L452.5,37.7L451.8,36.1L449,29.8L447.8,26.9L445.6,22M501.6,178.7L503.5,178L507.5,177.5L511.5,177.6L515.4,177.7L519.4,177.8L523.4,177.8M523.4,134.1L519.4,134L515.4,134.5L511.5,135.1L507.5,135.7L503.5,136.9L499.5,138.1L495.6,139L492.2,139.5L491.6,139.6L487.6,140.6L483.6,142.1L479.7,143.8L475.7,145.4L471.7,146.9L470.6,147.4L471.7,149.5L475,155.2L475.7,156L479.7,161.3L480.7,163L483.2,170.9L483.6,173L485,178.7M332.5,34.4L336.5,37.5L336.7,37.7L340.5,40.3L344.4,43.1L347.5,45.5L348.4,46.2L352.4,49.5L356.1,53.3L356.4,53.6L360.3,58.1L363.1,61.2L364.3,62.4L368.3,66.4L370.4,69L372.3,70.4L376.2,74.4L378.1,76.8L380.2,80.6L382.1,84.7L383.7,92.5L384.2,99.7L384.2,100.3L384.2,103.9L384.1,108.2L383.8,116L381.9,123.9L380.2,127.1L376.3,131.7L376.2,131.8L372.3,135.4L368.3,138L365,139.5L364.3,139.9L360.3,141.5L356.4,143.1L352.4,144.7L348.4,145.8L344.4,146.6L340.5,147.4L336.5,147.9L332.5,148.1M332.5,174.7L336.5,178L337.3,178.7M413.2,178.7L412,177.2L408.1,172L407.2,170.9L404.9,163L407.7,155.2L408.1,154.7L412,150.4L414.4,147.4L416,146.4L420,143.8L424,141.7L427.9,140.4L430.6,139.5L431.9,139.2L435.9,137.7L439.9,135L443.5,131.7L443.9,131.3L447.8,128.2L451.4,123.9L451.8,123.4L455.8,117L456.3,116L459.8,113.5L463.7,109.9L465.1,108.2L467.7,103.3L469,100.3L469.4,92.5L469.6,84.7L467.9,76.8L467.7,76.5L463.9,69L463.7,68.4L461,61.2L459.8,58.3L457.6,53.3L455.8,50.7L452.4,45.5L451.8,44.6L447.8,38.5L447.2,37.7L443.9,31.4L443,29.8L439.9,23.8L438.8,22M523.4,154.9L519.4,154.6L515.4,154.6L513.6,155.2L511.5,159.6L510.8,163L511.5,163.3L515.4,165.2L519.4,166.9L523.4,168.5M332.5,26.9L336.1,29.8L336.5,30.1L340.5,33.2L344.4,36.4L345.9,37.7L348.4,39.5L352.4,42.8L355.1,45.5L356.4,46.7L360.3,50.9L362.5,53.3L364.3,55.3L368.3,59.9L369.2,61.2L372.3,64.6L375.4,69L376.2,69.8L380.2,74.6L381.7,76.8L384.2,82.4L385,84.7L386,92.5L386.4,100.3L386.6,108.2L386.6,116L385.8,123.9L384.2,129.4L383,131.7L380.2,135.3L376.2,138.7L375.2,139.5L372.3,141.6L368.3,143.9L364.3,145.7L360.5,147.4L360.3,147.4L356.4,148.8L352.4,150.2L348.4,151.3L344.4,152.2L340.5,153.2L336.5,154.2L332.7,155.2L332.5,155.3M406.5,178.7L404.1,175.2L400.5,170.9L400.1,169.8L397,163L399.7,155.2L400.1,154.6L404.1,149.1L405.5,147.4L408.1,145.3L412,143L416,140.9L418.5,139.5L420,139L424,137.9L427.9,137.3L431.9,136.3L435.9,134L438.5,131.7L439.9,130.3L443.9,126L445.9,123.9L447.8,122L451.8,116.8L452.3,116L455.8,113.5L459.8,110.3L461.8,108.2L463.7,105.6L466.5,100.3L466.8,92.5L466.9,84.7L464.7,76.8L463.7,75L459.8,69.2L459.6,69L456.2,61.2L455.8,60.1L452.9,53.3L451.8,51.7L447.8,46L447.5,45.5L443.9,40.6L441.8,37.7L439.9,34L437.8,29.8L435.9,26.6L432.6,22M336.5,22L340.5,25.1L344.4,28.4L346.1,29.8L348.4,31.6L352.4,35.1L354.9,37.7L356.4,39L360.3,43L362.5,45.5L364.3,47.4L368.3,51.8L369.5,53.3L372.3,56.7L375.4,61.2L376.2,62.3L380.2,68.7L380.4,69L384.2,74.6L385.3,76.8L387.8,84.7L388.2,90.9L388.3,92.5L388.6,100.3L388.9,108.2L389.3,116L389.4,123.9L389.1,131.7L388.2,135.2L386.1,139.5L384.2,141.7L380.2,144.4L376.2,146.4L374.4,147.4L372.3,148.4L368.3,150L364.3,151.1L360.3,152.2L356.4,153.6L352.4,155.1L352.2,155.2L348.4,157.4L344.4,159.4L340.5,161.7L338.3,163L340.4,170.9L340.5,170.9L344.4,174.3L348.4,178.3L348.8,178.7M401,178.7L400.1,177.6L396.1,173.9L392.3,170.9L392.2,170.6L388.2,163.7L387.6,163L384.2,157.7L380.2,156.3L376.2,156.3L372.3,156.4L368.3,156.3L364.3,156.9L360.3,158.3L356.4,160.6L352.8,163L353.7,170.9L356.4,173.9L360.3,178.6L360.4,178.7M348.4,22L352.4,25.2L356.4,29L357.1,29.8L360.3,33L364.3,37.7L368.3,42.1L370.9,45.5L372.3,47.1L376.2,52.1L377.2,53.3L380.2,57.8L382.1,61.2L384.2,65.3L385.5,69L388.2,74.7L388.9,76.8L390.6,84.7L390.7,92.5L390.7,100.3L391.1,108.2L391.9,116L392.2,117.7L393.4,123.9L396.1,131.7L396.1,131.8L400.1,138.6L404.1,139L408.1,138.5L412,137.7L416,136.8L420,135.8L424,135.1L427.9,134.5L431.9,133.3L434.4,131.7L435.9,130.5L439.9,126.1L441.8,123.9L443.9,121.5L447.8,117.2L448.7,116L451.8,113.9L455.8,110.8L458.7,108.2L459.8,106.8L463.7,101.1L464.2,100.3L464.2,92.5L464.2,84.7L463.7,83.3L461,76.8L459.8,75L455.8,69.7L455.3,69L451.9,61.2L451.8,61L448.2,53.3L447.8,52.9L443.9,48.2L441.4,45.5L439.9,43.5L436.7,37.7L435.9,36.1L432.5,29.8L431.9,28.9L427.9,24.6L425.2,22M393.2,178.7L392.2,177.9L388.2,174.7L384.2,171.4L383.1,170.9L380.2,169.1L376.2,168.6L372.3,169.6L371.3,170.9L370,178.7M363.7,22L364.3,22.7L368.3,28.4L369.2,29.8L372.3,34L374.9,37.7L376.2,39.3L380.2,44.1L381.5,45.5L384.2,48.7L387.5,53.3L388.2,55.1L389.6,61.2L390.6,69L392.2,74.9L392.5,76.8L393.7,84.7L393.3,92.5L393,100.3L393.6,108.2L395,116L396.1,120L397.8,123.9L400.1,127.6L404.1,131.2L405.1,131.7L408.1,133.1L412,133.4L416,133L420,132.6L424,132.2L427.9,131.8L428.3,131.7L431.9,130.4L435.9,127.2L438.7,123.9L439.9,122.3L443.9,117.5L445.2,116L447.8,114.3L451.8,111.5L455.6,108.2L455.8,108L459.8,103.1L461.6,100.3L461.5,92.5L461,84.7L459.8,81.8L456.8,76.8L455.8,75.5L451.8,70L451.1,69L447.8,62.3L447.1,61.2L443.9,56.2L441,53.3L439.9,52.3L435.9,47.9L434.3,45.5L431.9,40L430.9,37.7L428,33.4L424.8,29.8L424,29.1L420,25.7L416.3,22M378.5,22L380.2,24L384.2,28L386,29.8L388.2,32L392.2,36L393.7,37.7L396.1,40.6L397.7,45.5L398.3,53.3L396.7,61.2L396.1,65.4L395.7,69L396.1,72.6L396.5,76.8L397.1,84.7L396.1,92.2L396.1,92.5L395.4,100.3L396.1,107.5L396.2,108.2L398.2,116L400.1,120.2L402.4,123.9L404.1,125.8L408.1,128.5L412,129.4L416,129.6L420,129.5L424,129.4L427.9,129.1L431.9,127.6L435.9,123.9L439.9,118.8L442.2,116L443.9,114.6L447.8,112.1L451.8,109.1L452.9,108.2L455.8,104.7L459.1,100.3L458.7,92.5L457.4,84.7L455.8,81.9L452.3,76.8L451.8,76.1L447.8,70.8L446.3,69L443.9,65.2L439.9,61.2L435.9,58.1L431.9,55.4L428.9,53.3L427.9,51.6L425.2,45.5L424,42.9L421.1,37.7L420,36.5L416,33.4L412,31.2L409.2,29.8L408.1,28.9L404.9,22M407.7,123.9L408.1,124.1L412,125.7L416,126.2L420,126.5L424,126.5L427.9,126.4L431.9,124.7L432.9,123.9L435.9,120.7L439.4,116L439.9,115.6L443.9,112.4L447.8,109.9L450,108.2L451.8,106.3L455.8,101.3L456.5,100.3L455.9,92.5L455.8,92.2L453.4,84.7L451.8,82.3L447.8,77.3L447.4,76.8L443.9,72.9L439.9,69.3L439.5,69L435.9,65.9L431.9,63.5L427.9,61.3L427.7,61.2L424,57.8L420,53.8L419.4,53.3L416,48.5L412,46.8L408.1,49L405.8,53.3L404.1,55.7L401.8,61.2L400.1,68.9L400.1,69L400.1,69.3L400.5,76.8L401,84.7L400.1,88.3L399.3,92.5L398.1,100.3L399.1,108.2L400.1,111.6L401.6,116L404.1,120.2L407.7,123.9M405.2,116L408.1,119.3L412,121.7L416,122.7L420,123.3L424,123.6L427.9,123.6L431.9,121.7L435.9,117.6L437.1,116L439.9,113.1L443.9,110.1L446.9,108.2L447.8,107.4L451.8,103.2L454.1,100.3L452.9,92.5L451.8,89.5L448.8,84.7L447.8,83.5L443.9,79.4L440.9,76.8L439.9,75.9L435.9,72.8L431.9,70.2L429.7,69L427.9,68L424,65.5L420,62.3L418.5,61.2L416,59.1L412,57.4L408.1,59.5L406.9,61.2L404.1,68.6L404,69L404.1,70.5L404.6,76.8L405.2,84.7L404.1,87.5L402.7,92.5L400.9,100.3L402.2,108.2L404.1,113.6L405.2,116M410,116L412,117.4L416,118.9L420,119.9L424,120.4L427.9,120.5L431.9,118.7L434.4,116L435.9,114.4L439.9,110.5L443.4,108.2L443.9,107.8L447.8,104.4L451.5,100.3L449.7,92.5L447.8,89.4L443.9,85.5L442.8,84.7L439.9,82.2L435.9,79.1L432.1,76.8L431.9,76.7L427.9,75L424,73.4L420,71.2L417.5,69L416,68.1L412,66.8L409.8,69L410.4,76.8L410.8,84.7L408.1,88.5L406.4,92.5L404.1,99.3L403.8,100.3L404.1,101.8L405.4,108.2L408.1,113.7L410,116M418.8,116L420,116.4L424,117.1L427.9,117.4L431,116L431.9,115.5L435.9,111.3L439.7,108.2L439.9,107.9L443.9,104.5L447.8,101.3L448.7,100.3L447.8,97.2L445.6,92.5L443.9,90.6L439.9,87.7L435.9,85.1L435,84.7L431.9,82.9L427.9,81.7L424,81.9L420,84.1L419.5,84.7L416,87L412,91.2L411.2,92.5L408.1,97.9L407.2,100.3L408.1,104.3L409.3,108.2L412,111.7L416,114.6L418.8,116M415.2,108.2L416,108.9L420,111.4L424,112.9L427.9,113.5L431.9,111.5L435.9,108.2L436,108.2L439.9,104L443.9,101.2L445,100.3L443.9,98L439.9,92.8L439.6,92.5L435.9,90L431.9,88.2L428,87.5L424,88.1L420,90.1L417.1,92.5L416,93.9L412,99.3L411.4,100.3L412,102.1L415.2,108.2M423.9,108.2L424,108.2L428,108.9L429.9,108.2L431.9,106.9L435.9,102.9L439.2,100.3L435.9,96.6L431.9,93.4L428.6,92.5L427.9,92.4L427.5,92.5L424,93.7L420,97.1L417.3,100.3L420,104.5L423.9,108.2" fill="none" stroke="#000" stroke-width="0.7" stroke-linejoin="round"/>
<path d="M392.7,39.2C395.3,37.1 395.8,37.4 399.9,36.9C404,36.4 405,35.6 408.1,37.4C411.2,39.2 408.8,41 411.7,43.7C414.6,46.4 414.7,45.7 419,47.4C423.3,49.1 423.7,48.6 428,50C432.3,51.4 432.3,49.9 435.2,52.8C438.1,55.7 435.5,57.6 438.9,61C442.3,64.4 444,62.4 447.9,65.5C451.8,68.6 450.5,68.8 453.4,72.7C456.3,76.6 456.6,76.1 458.8,80C461,83.9 460.8,83.3 461.5,87.2C462.2,91.1 462.5,91.1 461.5,94.5C460.5,97.9 460.2,96.1 457.6,100C455,103.9 455.8,104.6 451.8,109.2C447.8,113.8 447.6,113.7 442.7,117.4C437.8,121.1 437.4,120.6 433.5,122.9C429.6,125.2 432.1,124.8 428,126C423.9,127.2 423.2,127.6 418.1,127.5C413,127.4 413.5,127.3 408.9,125.6C404.3,123.9 404.4,124 400.7,121.1C397,118.2 397.1,118.4 395.2,114.7C393.3,111 392.9,111.2 393.4,107.3C393.9,103.4 395.7,103.9 397,100C398.3,96.1 398,97.1 398.1,92.7C398.2,88.3 397.9,88 397.2,83.6C396.5,79.2 397.1,79.7 395.4,76.3C393.7,72.9 392.8,73.8 390.9,70.9C389,68 387.5,68.4 388.2,65.5C388.9,62.6 391.2,63.1 393.6,60C396,56.9 396.7,56.8 397.2,53.7C397.7,50.6 397.3,50.7 395.4,48.3C393.5,45.9 390.7,47 390,44.6C389.3,42.2 390.1,41.3 392.7,39.2Z" fill="none" stroke="#000" stroke-width="1.6" stroke-linejoin="round" stroke-linecap="round"/>
<path d="M376.4,22C377.1,22.9 376.5,23.9 379.1,25.3C381.7,26.7 382,26.8 386.3,27.1C390.6,27.4 391.3,27.4 395.4,26.5C399.5,25.6 399.7,25 401.7,23.8C403.7,22.6 402.7,22.5 403,22" fill="none" stroke="#000" stroke-width="1.6" stroke-linejoin="round" stroke-linecap="round"/>
<path d="M404.5,37.4C405.3,40.2 406.4,44.3 408.1,49.2C409.8,54.1 409.6,53.6 411.7,58.2C413.8,62.8 414.6,64.9 417.1,69.1C419.6,73.3 420.1,73.3 422.6,76.3C425.1,79.3 426.3,79 428,82C429.7,85 429.6,85.7 430,89C430.4,92.3 430,92.7 429.5,96C429,99.3 429.8,99.9 428,103C426.2,106.1 424.9,105.6 421.7,109.2C418.5,112.8 417.4,114 414.4,118.3C411.4,122.6 412.1,122.8 408.9,127.5C405.7,132.2 402.6,135.9 400.7,138.5" fill="none" stroke="#1a1aff" stroke-width="3" stroke-linejoin="round" stroke-linecap="butt"/>
<rect x="332.5" y="22" width="190.9" height="156.7" fill="none" stroke="#262626" stroke-opacity="0.45" stroke-width="0.5"/>
<text x="328.2" y="182.7" text-anchor="end" font-size="9.6">-10</text>
<text x="328.2" y="167" text-anchor="end" font-size="9.6">-8</text>
<text x="328.2" y="151.4" text-anchor="end" font-size="9.6">-6</text>
<text x="328.2" y="135.7" text-anchor="end" font-size="9.6">-4</text>
<text x="328.2" y="120" text-anchor="end" font-size="9.6">-2</text>
<text x="328.2" y="104.3" text-anchor="end" font-size="9.6">0</text>
<text x="328.2" y="88.7" text-anchor="end" font-size="9.6">2</text>
<text x="328.2" y="73" text-anchor="end" font-size="9.6">4</text>
<text x="328.2" y="57.3" text-anchor="end" font-size="9.6">6</text>
<text x="328.2" y="41.7" text-anchor="end" font-size="9.6">8</text>
<text x="328.2" y="26" text-anchor="end" font-size="9.6">10</text>
<text x="332.5" y="192.9" text-anchor="middle" font-size="9.6">180°W</text>
<text x="380.2" y="192.9" text-anchor="middle" font-size="9.6">150°W</text>
<text x="427.9" y="192.9" text-anchor="middle" font-size="9.6">120°W</text>
<text x="475.7" y="192.9" text-anchor="middle" font-size="9.6">90°W</text>
<text x="523.4" y="192.9" text-anchor="middle" font-size="9.6">60°W</text>
<path d="M332.5,178.7h2M523.4,178.7h-2M332.5,163h2M523.4,163h-2M332.5,147.4h2M523.4,147.4h-2M332.5,131.7h2M523.4,131.7h-2M332.5,116h2M523.4,116h-2M332.5,100.3h2M523.4,100.3h-2M332.5,84.7h2M523.4,84.7h-2M332.5,69h2M523.4,69h-2M332.5,53.3h2M523.4,53.3h-2M332.5,37.7h2M523.4,37.7h-2M332.5,22h2M523.4,22h-2M332.5,178.7v-2M332.5,22v2M380.2,178.7v-2M380.2,22v2M427.9,178.7v-2M427.9,22v2M475.7,178.7v-2M475.7,22v2M523.4,178.7v-2M523.4,22v2" stroke="#262626" stroke-width="0.6" fill="none"/>
<path d="M335.7,178.7v-1.1M335.7,22v1.1M338.9,178.7v-1.1M338.9,22v1.1M342,178.7v-1.1M342,22v1.1M345.2,178.7v-1.1M345.2,22v1.1M348.4,178.7v-1.1M348.4,22v1.1M351.6,178.7v-1.1M351.6,22v1.1M354.8,178.7v-1.1M354.8,22v1.1M358,178.7v-1.1M358,22v1.1M361.1,178.7v-1.1M361.1,22v1.1M364.3,178.7v-1.1M364.3,22v1.1M367.5,178.7v-1.1M367.5,22v1.1M370.7,178.7v-1.1M370.7,22v1.1M373.9,178.7v-1.1M373.9,22v1.1M377,178.7v-1.1M377,22v1.1M380.2,178.7v-1.1M380.2,22v1.1M383.4,178.7v-1.1M383.4,22v1.1M386.6,178.7v-1.1M386.6,22v1.1M389.8,178.7v-1.1M389.8,22v1.1M393,178.7v-1.1M393,22v1.1M396.1,178.7v-1.1M396.1,22v1.1M399.3,178.7v-1.1M399.3,22v1.1M402.5,178.7v-1.1M402.5,22v1.1M405.7,178.7v-1.1M405.7,22v1.1M408.9,178.7v-1.1M408.9,22v1.1M412,178.7v-1.1M412,22v1.1M415.2,178.7v-1.1M415.2,22v1.1M418.4,178.7v-1.1M418.4,22v1.1M421.6,178.7v-1.1M421.6,22v1.1M424.8,178.7v-1.1M424.8,22v1.1M427.9,178.7v-1.1M427.9,22v1.1M431.1,178.7v-1.1M431.1,22v1.1M434.3,178.7v-1.1M434.3,22v1.1M437.5,178.7v-1.1M437.5,22v1.1M440.7,178.7v-1.1M440.7,22v1.1M443.9,178.7v-1.1M443.9,22v1.1M447,178.7v-1.1M447,22v1.1M450.2,178.7v-1.1M450.2,22v1.1M453.4,178.7v-1.1M453.4,22v1.1M456.6,178.7v-1.1M456.6,22v1.1M459.8,178.7v-1.1M459.8,22v1.1M462.9,178.7v-1.1M462.9,22v1.1M466.1,178.7v-1.1M466.1,22v1.1M469.3,178.7v-1.1M469.3,22v1.1M472.5,178.7v-1.1M472.5,22v1.1M475.7,178.7v-1.1M475.7,22v1.1M478.9,178.7v-1.1M478.9,22v1.1M482,178.7v-1.1M482,22v1.1M485.2,178.7v-1.1M485.2,22v1.1M488.4,178.7v-1.1M488.4,22v1.1M491.6,178.7v-1.1M491.6,22v1.1M494.8,178.7v-1.1M494.8,22v1.1M497.9,178.7v-1.1M497.9,22v1.1M501.1,178.7v-1.1M501.1,22v1.1M504.3,178.7v-1.1M504.3,22v1.1M507.5,178.7v-1.1M507.5,22v1.1M510.7,178.7v-1.1M510.7,22v1.1M513.9,178.7v-1.1M513.9,22v1.1M517,178.7v-1.1M517,22v1.1M520.2,178.7v-1.1M520.2,22v1.1M523.4,25.9h-1.1M523.4,29.8h-1.1M523.4,33.8h-1.1M523.4,37.7h-1.1M523.4,41.6h-1.1M523.4,45.5h-1.1M523.4,49.4h-1.1M523.4,53.3h-1.1M523.4,57.3h-1.1M523.4,61.2h-1.1M523.4,65.1h-1.1M523.4,69h-1.1M523.4,72.9h-1.1M523.4,76.8h-1.1M523.4,80.8h-1.1M523.4,84.7h-1.1M523.4,88.6h-1.1M523.4,92.5h-1.1M523.4,96.4h-1.1M523.4,100.3h-1.1M523.4,104.3h-1.1M523.4,108.2h-1.1M523.4,112.1h-1.1M523.4,116h-1.1M523.4,119.9h-1.1M523.4,123.9h-1.1M523.4,127.8h-1.1M523.4,131.7h-1.1M523.4,135.6h-1.1M523.4,139.5h-1.1M523.4,143.4h-1.1M523.4,147.4h-1.1M523.4,151.3h-1.1M523.4,155.2h-1.1M523.4,159.1h-1.1M523.4,163h-1.1M523.4,166.9h-1.1M523.4,170.9h-1.1M523.4,174.8h-1.1" stroke="#111" stroke-width="0.8" fill="none"/>
<text x="427.9" y="208.7" text-anchor="middle" font-size="11.8">Longitude</text>
<text transform="translate(307.5,100.3) rotate(-90)" text-anchor="middle" font-size="11.8">Lag (day)</text>
<text x="427.6" y="16.8" text-anchor="middle" font-size="11.85">Z500 for PNA<tspan dx="0.8" dy="-5.2" font-size="8.5">+</tspan><tspan dx="0.8" dy="5.2" font-size="11.85"> (9-yr high pass VM</tspan><tspan dx="0.8" dy="-5.2" font-size="8.5">+</tspan><tspan dx="0.5" dy="5.2" font-size="11.85">)</tspan></text>
<text x="305.6" y="14.8" font-size="18.6" font-family='"Liberation Sans", Arial, sans-serif' style="stroke-width:0px">(b)</text>
<rect x="536" y="44.5" width="18.2" height="122.8" fill="url(#jet)" stroke="#262626" stroke-width="0.4"/>
<text x="557.4" y="170.6" font-size="9.6">-200</text>
<text x="557.4" y="155.2" font-size="9.6">-150</text>
<text x="557.4" y="139.9" font-size="9.6">-100</text>
<text x="557.4" y="124.5" font-size="9.6">-50</text>
<text x="557.4" y="109.2" font-size="9.6">0</text>
<text x="557.4" y="93.8" font-size="9.6">50</text>
<text x="557.4" y="78.5" font-size="9.6">100</text>
<text x="557.4" y="63.1" font-size="9.6">150</text>
<text x="557.4" y="47.8" font-size="9.6">200</text>
<text x="538.2" y="35.1" font-size="9.6">gpm</text>
</g>
<g id="panel-c">
<rect x="34.4" y="241" width="190.3" height="156.2" fill="#009dff"/>
<path d="M34.4,397.2L37,397.2L39.7,397.2L42.3,397.2L45,397.2L47.6,397.2L50.3,397.2L52.9,397.2L55.5,397.2L58.2,397.2L60.8,397.2L63.5,397.2L66.1,397.2L68.8,397.2L71.4,397.2L74,397.2L76.7,397.2L79.3,397.2L82,397.2L84.6,397.2L87.3,397.2L89.9,397.2L92.5,397.2L95.2,397.2L97.8,397.2L100.5,397.2L103.1,397.2L105.8,397.2L108.4,397.2L111,397.2L113.7,397.2L116.3,397.2L119,397.2L121.6,397.2L124.3,397.2L126.9,397.2L129.5,397.2L132.2,397.2L134.8,397.2L137.5,397.2L140.1,397.2L142.8,397.2L145.4,397.2L148.1,397.2L150.7,397.2L153.3,397.2L156,397.2L158.6,397.2L161.3,397.2L163.9,397.2L166.6,397.2L169.2,397.2L171.8,397.2L174.5,397.2L177.1,397.2L179.8,397.2L182.4,397.2L185.1,397.2L187.7,397.2L190.3,397.2L193,397.2L195.6,397.2L198.3,397.2L200.9,397.2L203.6,397.2L206.2,397.2L208.8,397.2L211.5,397.2L214.1,397.2L216.8,397.2L219.4,397.2L222.1,397.2L224.7,397.2L224.7,389.4L224.7,381.6L224.7,373.8L224.7,366L224.7,358.2L224.7,350.4L224.7,342.6L224.7,334.8L224.7,326.9L224.7,319.1L224.7,311.3L224.7,303.5L224.7,295.7L224.7,287.9L224.7,280.1L224.7,272.2L224.7,264.4L224.7,256.6L224.7,248.8L224.7,241L222.1,241L219.4,241L216.8,241L214.1,241L211.5,241L208.8,241L206.2,241L203.6,241L200.9,241L198.3,241L195.6,241L193,241L190.3,241L187.7,241L185.1,241L182.4,241L179.8,241L177.1,241L174.5,241L171.8,241L169.2,241L166.6,241L163.9,241L161.3,241L158.6,241L156,241L153.3,241L150.7,241L148.1,241L145.4,241L142.8,241L140.1,241L137.5,241L134.8,241L132.2,241L129.5,241L126.9,241L124.3,241L121.6,241L119,241L116.3,241L113.7,241L111,241L108.4,241L105.8,241L103.1,241L100.5,241L97.8,241L95.2,241L92.5,241L89.9,241L87.3,241L84.6,241L82,241L79.3,241L76.7,241L74,241L71.4,241L68.8,241L66.1,241L63.5,241L60.8,241L58.2,241L55.5,241L52.9,241L50.3,241L47.6,241L45,241L42.3,241L39.7,241L37,241L34.4,241L34.4,248.8L34.4,256.6L34.4,264.4L34.4,272.2L34.4,280.1L34.4,287.9L34.4,295.7L34.4,303.5L34.4,311.3L34.4,319.1L34.4,326.9L34.4,334.8L34.4,342.6L34.4,350.4L34.4,358.2L34.4,366L34.4,373.8L34.4,381.6L34.4,389.4L34.4,397.2ZM182.4,312L180.2,311.3L179.8,311.1L177.1,307.7L175.2,303.5L177.1,299.4L179.8,295.8L180,295.7L182.4,295.1L185.1,295.1L187.7,295.3L190.3,295.5L191.4,295.7L193,296.1L195.6,298L198.3,302.9L198.5,303.5L198.3,304L195.6,307.7L193,309.6L190.3,310.6L188.1,311.3L187.7,311.4L185.1,311.8L182.4,312Z" fill="#00c2ff" fill-rule="evenodd"/>
<path d="M34.4,397.2L37,397.2L39.7,397.2L42.3,397.2L45,397.2L47.6,397.2L50.3,397.2L52.9,397.2L55.5,397.2L58.2,397.2L60.8,397.2L63.5,397.2L66.1,397.2L68.8,397.2L71.4,397.2L74,397.2L76.7,397.2L79.3,397.2L82,397.2L84.6,397.2L87.3,397.2L89.9,397.2L92.5,397.2L95.2,397.2L97.8,397.2L100.5,397.2L103.1,397.2L105.8,397.2L108.4,397.2L111,397.2L113.7,397.2L116.3,397.2L119,397.2L121.6,397.2L124.3,397.2L126.9,397.2L129.5,397.2L132.2,397.2L134.8,397.2L137.5,397.2L140.1,397.2L142.8,397.2L145.4,397.2L148.1,397.2L150.7,397.2L153.3,397.2L156,397.2L158.6,397.2L161.3,397.2L163.9,397.2L166.6,397.2L169.2,397.2L171.8,397.2L174.5,397.2L177.1,397.2L179.8,397.2L182.4,397.2L185.1,397.2L187.7,397.2L190.3,397.2L193,397.2L195.6,397.2L198.3,397.2L200.9,397.2L203.6,397.2L206.2,397.2L208.8,397.2L211.5,397.2L214.1,397.2L216.8,397.2L219.4,397.2L222.1,397.2L224.7,397.2L224.7,389.4L224.7,381.6L224.7,373.8L224.7,366L224.7,358.2L224.7,350.4L224.7,342.6L224.7,334.8L224.7,326.9L224.7,319.1L224.7,311.3L224.7,303.5L224.7,295.7L224.7,287.9L224.7,280.1L224.7,272.2L224.7,264.4L224.7,256.6L224.7,248.8L224.7,241L222.1,241L219.4,241L216.8,241L214.1,241L211.5,241L208.8,241L206.2,241L203.6,241L200.9,241L198.3,241L195.6,241L193,241L190.3,241L187.7,241L185.1,241L182.4,241L179.8,241L177.1,241L174.5,241L171.8,241L169.2,241L166.6,241L163.9,241L161.3,241L158.6,241L156,241L153.3,241L150.7,241L148.1,241L145.4,241L142.8,241L140.1,241L137.5,241L134.8,241L132.2,241L129.5,241L126.9,241L124.3,241L121.6,241L119,241L116.3,241L113.7,241L111,241L108.4,241L105.8,241L103.1,241L100.5,241L97.8,241L95.2,241L92.5,241L89.9,241L87.3,241L84.6,241L82,241L79.3,241L76.7,241L74,241L71.4,241L68.8,241L66.1,241L63.5,241L60.8,241L58.2,241L55.5,241L52.9,241L50.3,241L47.6,241L45,241L42.3,241L39.7,241L37,241L34.4,241L34.4,248.8L34.4,256.6L34.4,264.4L34.4,272.2L34.4,280.1L34.4,287.9L34.4,295.7L34.4,303.5L34.4,311.3L34.4,319.1L34.4,326.9L34.4,334.8L34.4,342.6L34.4,350.4L34.4,358.2L34.4,366L34.4,373.8L34.4,381.6L34.4,389.4L34.4,397.2ZM113.7,257L111.1,256.6L113.7,254.5L116.3,253L119,252.8L120.3,256.6L119,257.5L116.3,257.3L113.7,257ZM129.5,272.3L129.4,272.2L129.5,272.1L129.7,272.2L129.5,272.3ZM174.5,313.3L172.9,311.3L171.8,308.9L169.9,303.5L171.8,298.4L173,295.7L174.5,294.2L177.1,292L179.8,290.6L182.4,290.2L185.1,290.2L187.7,290.2L190.3,290.3L193,290.4L195.6,290.9L198.3,292.1L200.9,294.3L202,295.7L203.6,301.3L204,303.5L203.6,304.7L200.9,310.1L200.2,311.3L198.3,313.2L195.6,315.1L193,316.2L190.3,317L187.7,317.6L185.1,318.1L182.4,318.3L179.8,317.7L177.1,316L174.5,313.3Z" fill="#00e8ff" fill-rule="evenodd"/>
<path d="M34.4,397.2L37,397.2L39.7,397.2L42.3,397.2L45,397.2L47.6,397.2L50.3,397.2L52.9,397.2L55.5,397.2L58.2,397.2L60.8,397.2L63.5,397.2L66.1,397.2L68.8,397.2L71.4,397.2L74,397.2L76.7,397.2L79.3,397.2L82,397.2L84.6,397.2L87.3,397.2L89.9,397.2L92.5,397.2L95.2,397.2L97.8,397.2L100.5,397.2L103.1,397.2L105.8,397.2L108.4,397.2L111,397.2L113.7,397.2L116.3,397.2L119,397.2L121.6,397.2L124.3,397.2L126.9,397.2L129.5,397.2L132.2,397.2L134.8,397.2L137.5,397.2L140.1,397.2L142.8,397.2L145.4,397.2L148.1,397.2L150.7,397.2L153.3,397.2L156,397.2L158.6,397.2L161.3,397.2L163.9,397.2L166.6,397.2L169.2,397.2L171.8,397.2L174.5,397.2L177.1,397.2L179.8,397.2L182.4,397.2L185.1,397.2L187.7,397.2L190.3,397.2L193,397.2L195.6,397.2L198.3,397.2L200.9,397.2L203.6,397.2L206.2,397.2L208.8,397.2L211.5,397.2L214.1,397.2L216.8,397.2L219.4,397.2L222.1,397.2L224.7,397.2L224.7,389.4L224.7,381.6L224.7,373.8L224.7,366L224.7,358.2L224.7,350.4L224.7,342.6L224.7,334.8L224.7,326.9L224.7,319.1L224.7,311.3L224.7,303.5L224.7,295.7L224.7,287.9L224.7,280.1L224.7,272.2L224.7,264.4L224.7,256.6L224.7,248.8L224.7,241L222.1,241L219.4,241L216.8,241L214.1,241L211.5,241L208.8,241L206.2,241L203.6,241L200.9,241L198.3,241L195.6,241L193,241L190.3,241L187.7,241L185.1,241L182.4,241L179.8,241L177.1,241L174.5,241L171.8,241L169.2,241L166.6,241L163.9,241L161.3,241L158.6,241L156,241L153.3,241L150.7,241L148.1,241L145.4,241L142.8,241L140.1,241L137.5,241L134.8,241L132.2,241L129.5,241L126.9,241L126,241L126.9,245.9L127.2,248.8L128.2,256.6L129.5,258.7L132.2,261.3L134.4,264.4L134.8,265.3L137,272.2L134.8,278L133.2,280.1L132.2,280.5L129.5,280.8L128,280.1L126.9,279L124.3,274.1L123.2,272.2L121.6,269L119,267L116.3,266L113.7,265.3L111,264.7L110.2,264.4L108.4,263.7L105.8,261.5L103.1,257.1L102.9,256.6L103.1,250.2L103.2,248.8L105.8,243.8L108.4,242.3L111,241.3L112,241L111,241L108.4,241L105.8,241L103.1,241L100.5,241L97.8,241L95.2,241L92.5,241L89.9,241L87.3,241L84.6,241L82,241L79.3,241L76.7,241L74,241L71.4,241L68.8,241L66.1,241L63.5,241L60.8,241L58.2,241L55.5,241L52.9,241L50.3,241L47.6,241L45,241L42.3,241L39.7,241L37,241L34.4,241L34.4,248.8L34.4,256.6L34.4,264.4L34.4,272.2L34.4,280.1L34.4,287.9L34.4,295.7L34.4,303.5L34.4,311.3L34.4,319.1L34.4,326.9L34.4,334.8L34.4,342.6L34.4,350.4L34.4,358.2L34.4,366L34.4,373.8L34.4,381.6L34.4,389.4L34.4,397.2ZM179.8,328.5L179.1,326.9L177.1,324.8L174.5,321.7L172,319.1L171.8,318.9L169.2,315.9L166.6,311.6L166.4,311.3L164.5,303.5L166.6,296.1L166.7,295.7L169.2,291.7L171.8,289.1L173.7,287.9L174.5,287.5L177.1,286.4L179.8,285.8L182.4,285.7L185.1,285.7L187.7,285.7L190.3,285.7L193,285.7L195.6,285.8L198.3,286L200.9,286.3L203.6,286.8L206.1,287.9L206.2,288L208.8,294.4L209.3,295.7L210.2,303.5L208.8,308.9L208.1,311.3L206.2,313.9L203.6,316.4L200.9,318.5L200,319.1L198.3,320.8L195.6,323.2L193,325.1L190.3,326.5L189.5,326.9L187.7,328.7L185.1,330.5L182.4,331.2L179.8,328.5ZM182.4,351.9L180.1,350.4L182.2,342.6L182.4,341.9L185,342.6L185.1,342.6L187.7,343.9L190.3,345.2L193,346.1L195.1,350.4L193,351.8L190.3,351.9L187.7,351.9L185.1,351.9L182.4,351.9Z" fill="#0efff1" fill-rule="evenodd"/>
<path d="M34.4,397.2L37,397.2L39.7,397.2L42.3,397.2L45,397.2L47.6,397.2L50.3,397.2L52.9,397.2L55.5,397.2L58.2,397.2L60.8,397.2L63.5,397.2L66.1,397.2L68.8,397.2L71.4,397.2L74,397.2L76.7,397.2L79.3,397.2L82,397.2L84.6,397.2L87.3,397.2L89.9,397.2L92.5,397.2L95.2,397.2L97.8,397.2L100.5,397.2L103.1,397.2L105.8,397.2L108.4,397.2L111,397.2L113.7,397.2L116.3,397.2L119,397.2L121.6,397.2L124.3,397.2L126.9,397.2L129.5,397.2L132.2,397.2L134.8,397.2L137.5,397.2L140.1,397.2L142.8,397.2L145.4,397.2L148.1,397.2L150.7,397.2L153.3,397.2L156,397.2L158.6,397.2L161.3,397.2L163.9,397.2L166.6,397.2L169.2,397.2L171.8,397.2L174.5,397.2L177.1,397.2L179.8,397.2L182.4,397.2L185.1,397.2L187.7,397.2L190.3,397.2L193,397.2L195.6,397.2L198.3,397.2L200.9,397.2L203.6,397.2L206.2,397.2L208.8,397.2L211.5,397.2L214.1,397.2L216.8,397.2L219.4,397.2L222.1,397.2L224.7,397.2L224.7,389.4L224.7,381.6L224.7,373.8L224.7,366L224.7,358.2L224.7,350.4L224.7,342.6L224.7,334.8L224.7,326.9L224.7,319.1L224.7,311.3L224.7,303.5L224.7,295.7L224.7,287.9L224.7,280.1L224.7,272.2L224.7,264.4L224.7,256.6L224.7,248.8L224.7,241L222.1,241L219.4,241L216.8,241L214.1,241L211.5,241L208.8,241L206.2,241L203.6,241L200.9,241L198.3,241L195.6,241L193,241L190.3,241L187.7,241L185.1,241L182.4,241L179.8,241L177.1,241L174.5,241L171.8,241L169.2,241L166.6,241L163.9,241L161.3,241L158.6,241L156,241L153.3,241L150.7,241L148.1,241L145.4,241L142.8,241L141.6,241L141.8,248.8L142.1,256.6L142.8,259.8L143.6,264.4L144.5,272.2L143.4,280.1L142.8,281.6L140.1,284.8L137.5,285.7L134.8,285.9L132.2,285.8L129.5,285.4L126.9,283.9L124.3,280.9L123.6,280.1L121.6,276.1L119,273.1L117.6,272.2L116.3,271.5L113.7,270.4L111,269.4L108.4,268.4L105.8,267.1L103.1,265L102.6,264.4L100.5,260.2L98.7,256.6L97.8,250.7L97.2,248.8L95.4,241L95.2,241L92.5,241L89.9,241L87.3,241L84.6,241L82,241L79.3,241L76.7,241L74,241L71.4,241L68.8,241L66.1,241L63.5,241L60.8,241L58.2,241L55.5,241L52.9,241L50.3,241L47.6,241L45,241L42.3,241L39.7,241L37,241L34.4,241L34.4,248.8L34.4,256.6L34.4,264.4L34.4,272.2L34.4,280.1L34.4,287.9L34.4,295.7L34.4,303.5L34.4,311.3L34.4,319.1L34.4,326.9L34.4,334.8L34.4,342.6L34.4,347.3L37,347.7L39.7,348.1L42.3,348.4L45,348.8L47.6,349.9L48.2,350.4L50.3,353.2L52.9,355.9L55.5,357.6L56.4,358.2L58.2,360.2L60.8,363.8L62.4,366L63.5,368.3L66.1,371.7L68.8,373.7L68.9,373.8L71.4,376.7L74,379.2L76.7,381.4L76.8,381.6L76.7,382.6L74.5,389.4L74,389.7L71.4,390.8L68.8,391.6L66.1,392.2L63.5,392.9L60.8,393.7L58.2,394.5L55.5,394.9L52.9,394.4L50.3,393.6L47.6,392.8L45,392.1L42.3,391.5L39.7,390.5L37.5,389.4L37,389L34.4,386.6L34.4,389.4L34.4,397.2ZM179.8,358.7L179.2,358.2L177.1,354.9L175.3,350.4L175.2,342.6L174.9,334.8L174.5,333.7L171.8,328.3L171,326.9L169.2,324.8L166.6,321.7L164,319.1L163.9,318.9L161.3,314.1L159.4,311.3L158.6,309L156.2,303.5L158.4,295.7L158.6,295.4L161.3,291.3L163.8,287.9L163.9,287.7L166.6,284.1L169.2,282.1L171.8,281.2L174.5,281.1L177.1,281.2L179.8,281.4L182.4,281.5L185.1,281.5L187.7,281.6L190.3,281.6L193,281.6L195.6,281.6L198.3,281.5L200.9,281.3L203.6,281.3L206.2,281.5L208.8,282.3L211.5,283.8L214.1,286L216.2,287.9L216.8,289.4L219.1,295.7L219.4,297.6L220.5,303.5L219.4,310.2L219.2,311.3L216.8,316.1L214.5,319.1L214.1,319.3L211.5,320.6L208.8,322.4L206.2,324.5L203.6,326.9L203.5,326.9L200.9,330.5L198.9,334.8L199.5,342.6L199.8,350.4L198.3,354.3L195.7,358.2L195.6,358.2L193,359.2L190.3,359.3L187.7,359.4L185.1,359.5L182.4,359.5L179.8,358.7Z" fill="#33ffcc" fill-rule="evenodd"/>
<path d="M79.2,397.2L79.3,397.2L82,397.2L84.6,397.2L87.3,397.2L89.9,397.2L92.5,397.2L95.2,397.2L97.8,397.2L100.5,397.2L103.1,397.2L105.8,397.2L108.4,397.2L111,397.2L113.7,397.2L116.3,397.2L119,397.2L121.6,397.2L124.3,397.2L126.9,397.2L129.5,397.2L132.2,397.2L134.8,397.2L137.5,397.2L140.1,397.2L142.8,397.2L145.4,397.2L148.1,397.2L150.7,397.2L153.3,397.2L156,397.2L158.6,397.2L161.3,397.2L163.9,397.2L166.6,397.2L169.2,397.2L171.8,397.2L174.5,397.2L177.1,397.2L179.8,397.2L182.4,397.2L185.1,397.2L187.7,397.2L190.3,397.2L193,397.2L195.6,397.2L198.3,397.2L200.9,397.2L203.6,397.2L206.2,397.2L208.8,397.2L211.5,397.2L214.1,397.2L216.8,397.2L219.4,397.2L222.1,397.2L224.7,397.2L224.7,389.4L224.7,381.6L224.7,373.8L224.7,366L224.7,358.2L224.7,350.4L224.7,342.6L224.7,334.8L224.7,326.9L224.7,323.1L222.1,324L219.4,325L216.8,326.2L215.4,326.9L214.1,327.6L211.5,329.6L208.8,332.5L207.3,334.8L206.2,339.2L205.5,342.6L204.3,350.4L203.6,352.4L201.5,358.2L200.9,359.1L198.3,362L195.6,363.5L193,364.2L190.3,364.5L187.7,364.7L185.1,364.8L182.4,364.9L179.8,364.2L177.1,362.4L174.5,358.9L174,358.2L171.8,352L171.3,350.4L170.5,342.6L169.3,334.8L169.2,334.5L166.6,329.6L164.9,326.9L163.9,325.8L161.3,322.8L158.6,320.4L156.8,319.1L156,318L153.3,314.4L150.8,311.3L150.7,311.1L148.1,304.9L147.2,303.5L145.4,299.9L142.8,297.3L140.3,295.7L140.1,295.6L137.5,293.2L134.8,291.4L132.2,290.2L129.5,289.4L126.9,288.1L126.6,287.9L124.3,285.2L121.6,281.7L120,280.1L119,278.8L116.3,277.1L113.7,275.7L111,274.4L108.4,273L107.3,272.2L105.8,271.4L103.1,269.7L100.5,267.5L97.8,264.6L97.7,264.4L95.2,260.8L92.5,257.5L91.8,256.6L89.9,253.4L87.3,249.6L86.7,248.8L84.6,245.6L82,242.6L80,241L79.3,241L76.7,241L74,241L71.4,241L68.8,241L66.1,241L63.5,241L60.8,241L58.2,241L55.5,241L52.9,241L50.3,241L47.6,241L45,241L42.3,241L39.7,241L37,241L34.4,241L34.4,248.8L34.4,256.6L34.4,264.4L34.4,272.2L34.4,280.1L34.4,287.9L34.4,295.7L34.4,303.5L34.4,311.3L34.4,319.1L34.4,326.9L34.4,334.8L34.4,338.7L37,339.7L39.7,340.6L42.3,341.4L45,342.1L46.1,342.6L47.6,343.4L50.3,345.7L52.9,348.4L55,350.4L55.5,350.9L58.2,353.1L60.8,355.6L63.3,358.2L63.5,358.4L66.1,361.9L68.8,365L69.6,366L71.4,368L74,370.3L76.7,372.4L78.4,373.8L79.3,375.1L82,380.5L82.4,381.6L82.4,389.4L82,391.7L79.3,397.2L79.2,397.2ZM165.5,272.2L166.6,272.6L169.2,273.2L171.8,273.8L174.5,274.7L177.1,275.7L179.8,276.5L182.4,276.8L185.1,276.8L187.7,276.8L190.3,276.9L193,276.9L195.6,276.7L198.3,276.4L200.9,275.9L203.6,275.5L206.2,275.2L208.8,274.8L211.5,274.5L214.1,274.6L216.8,274.9L219.4,275.4L222.1,276L224.7,276.8L224.7,272.2L224.7,264.4L224.7,256.6L224.7,248.8L224.7,241L222.1,241L219.4,241L216.8,241L214.1,241L211.5,241L208.8,241L206.2,241L203.6,241L200.9,241L198.3,241L195.6,241L193,241L190.3,241L187.7,241L185.1,241L182.4,241L179.8,241L177.1,241L174.5,241L171.8,241L169.2,241L166.6,241L163.9,241L161.3,241L158.6,241L156,241L153.3,241L150.7,241L149.2,241L150.4,248.8L150.7,250.8L151.4,256.6L153.3,264L153.5,264.4L156,269.1L158.6,270.6L161.3,271.4L163.9,271.9L165.5,272.2Z" fill="#58ffa7" fill-rule="evenodd"/>
<path d="M89.6,389.4L89.9,390.7L92.1,397.2L92.5,397.2L95.2,397.2L97.8,397.2L100.5,397.2L103.1,397.2L105.8,397.2L108.4,397.2L111,397.2L113.7,397.2L116.3,397.2L119,397.2L121.6,397.2L124.3,397.2L126.9,397.2L129.5,397.2L132.2,397.2L134.8,397.2L137.5,397.2L140.1,397.2L142.8,397.2L145.4,397.2L148.1,397.2L150.7,397.2L153.3,397.2L156,397.2L158.6,397.2L161.3,397.2L163.9,397.2L166.6,397.2L169.2,397.2L171.8,397.2L174.5,397.2L177.1,397.2L179.8,397.2L182.4,397.2L185.1,397.2L187.7,397.2L190.3,397.2L193,397.2L195.6,397.2L198.3,397.2L200.9,397.2L203.6,397.2L206.2,397.2L208.8,397.2L211.5,397.2L214.1,397.2L216.8,397.2L219.4,397.2L222.1,397.2L224.7,397.2L224.7,389.4L224.7,381.6L224.7,373.8L224.7,366L224.7,358.2L224.7,350.4L224.7,342.6L224.7,334.8L224.7,329.4L222.1,330.5L219.4,331.8L216.8,333.4L215,334.8L214.1,336.4L211.7,342.6L211.5,343.5L210.1,350.4L208.8,355.9L208.2,358.2L206.2,362.6L203.6,365.5L203,366L200.9,367.3L198.3,368.8L195.6,369.9L193,370.6L190.3,370.9L187.7,371.3L185.1,371.5L182.4,371.6L179.8,371L177.1,369.5L174.5,366.9L173.7,366L171.8,363.5L169.2,358.2L169.2,358.1L167.3,350.4L166.6,344.6L166.3,342.6L165,334.8L163.9,332.9L161.3,328.9L159.8,326.9L158.6,325.7L156,323.1L153.3,321L150.9,319.1L150.7,318.8L148.1,314L146.5,311.3L145.4,309.1L142.8,305.1L141.3,303.5L140.1,301.9L137.5,298.7L134.8,296.1L134.3,295.7L132.2,294.1L129.5,292.8L126.9,291.4L124.3,289.2L123,287.9L121.6,286.2L119,283.6L116.3,282.2L113.7,281.1L111.1,280.1L111,280L108.4,278.5L105.8,276.8L103.1,274.9L100.5,272.9L99.7,272.2L97.8,270.7L95.2,268.5L92.5,266.1L90.6,264.4L89.9,263.6L87.3,260.5L84.6,257.4L84,256.6L82,253.9L79.3,250.9L77,248.8L76.7,248.5L74,246.3L71.4,244.5L68.8,243L66.1,241.7L64.7,241L63.5,241L60.8,241L58.2,241L55.5,241L52.9,241L50.3,241L47.6,241L45,241L42.3,241L39.7,241L37,241L34.4,241L34.4,248.8L34.4,256.6L34.4,264.4L34.4,272.2L34.4,280.1L34.4,287.9L34.4,295.7L34.4,303.5L34.4,311.3L34.4,319.1L34.4,326.9L34.4,332L37,333.5L39.3,334.8L39.7,334.9L42.3,336.3L45,337.5L47.6,338.7L50.3,340.3L52.9,342.1L53.5,342.6L55.5,344.5L58.2,346.9L60.8,349.3L62,350.4L63.5,351.8L66.1,354.3L68.8,356.8L70.3,358.2L71.4,359.5L74,362.9L76.4,366L76.7,366.2L79.3,368.6L82,371.2L83.9,373.8L84.6,375.5L87.1,381.6L87.3,382.5L89.6,389.4ZM160.9,264.4L161.3,264.6L163.9,265.2L166.6,265.8L169.2,266.3L171.8,266.8L174.5,267.5L177.1,268.6L179.8,270.1L182.4,270.9L185.1,270.7L187.7,270.6L190.3,270.4L193,270.1L195.6,269.1L198.3,267.1L200.9,265L201.7,264.4L203.6,262.8L206.2,260.3L208.8,257.4L209.7,256.6L211.5,255.4L214.1,254.4L216.8,254.1L219.4,253.7L222.1,253.3L224.7,252.9L224.7,248.8L224.7,241L222.1,241L219.4,241L216.8,241L214.1,241L211.5,241L208.8,241L206.2,241L203.6,241L200.9,241L198.3,241L195.6,241L193,241L190.3,241L187.7,241L185.1,241L182.4,241L179.8,241L177.1,241L174.5,241L171.8,241L169.2,241L166.6,241L163.9,241L161.3,241L158.6,241L156,241L155.5,241L155.7,248.8L156,256.6L158.6,262.4L160.9,264.4Z" fill="#7dff82" fill-rule="evenodd"/>
<path d="M97.6,389.4L97.8,389.9L100.5,395L101.9,397.2L103.1,397.2L105.8,397.2L108.4,397.2L111,397.2L113.7,397.2L116.3,397.2L119,397.2L121.6,397.2L124.3,397.2L126.9,397.2L129.5,397.2L132.2,397.2L134.8,397.2L137.5,397.2L140.1,397.2L142.8,397.2L145.4,397.2L148.1,397.2L150.7,397.2L153.3,397.2L156,397.2L158.6,397.2L161.3,397.2L163.9,397.2L166.6,397.2L169.2,397.2L171.8,397.2L174.5,397.2L177.1,397.2L179.8,397.2L182.4,397.2L185.1,397.2L187.7,397.2L190.3,397.2L193,397.2L195.6,397.2L198.3,397.2L200.9,397.2L203.6,397.2L206.2,397.2L208.8,397.2L211.5,397.2L214.1,397.2L216.8,397.2L219.4,397.2L222.1,397.2L224.7,397.2L224.7,389.4L224.7,383.9L222.1,382.4L220.8,381.6L219.4,380.9L216.8,379.6L214.1,378.5L211.5,377L208.8,376.4L206.2,376.3L203.6,376.5L200.9,377.1L198.3,377.8L195.6,378.5L193,379L190.3,379.4L187.7,379.8L185.1,380.2L182.4,380.3L179.8,380L177.1,379.2L174.5,377.6L171.8,374.9L171.3,373.8L169.2,370.7L166.7,366L166.6,365.5L164.7,358.2L163.9,352.9L163.6,350.4L162.6,342.6L161.3,336L161,334.8L158.6,331.2L156,327.7L155.4,326.9L153.3,324.9L150.7,322.6L148.1,319.9L147.5,319.1L145.4,315.1L143.2,311.3L142.8,310.6L140.1,306.8L137.5,303.5L134.8,299.9L132.2,297.5L129.5,296.1L128.8,295.7L126.9,294.7L124.3,292.6L121.6,290.2L119,288.1L118.4,287.9L116.3,286.8L113.7,285.7L111,284.7L108.4,283.4L105.8,281.9L103.1,280.4L102.6,280.1L100.5,278.5L97.8,276.5L95.2,274.6L92.5,272.6L92,272.2L89.9,270.4L87.3,268.2L84.6,265.7L83.3,264.4L82,262.8L79.3,259.8L76.7,257.2L76.1,256.6L74,254.8L71.4,252.6L68.8,250.7L66.1,249L65.8,248.8L63.5,247.6L60.8,246.3L58.2,245.1L55.5,244.1L52.9,243.4L50.3,242.7L47.6,242.1L45,241.5L42.9,241L42.3,241L39.7,241L37,241L34.4,241L34.4,248.8L34.4,256.6L34.4,264.4L34.4,272.2L34.4,280.1L34.4,287.9L34.4,295.7L34.4,303.5L34.4,311.3L34.4,319.1L34.4,325.9L35.8,326.9L37,327.9L39.7,329.8L42.3,331.6L45,333.1L47.6,334.4L48.4,334.8L50.3,335.8L52.9,337.5L55.5,339.3L58.2,341.1L60.3,342.6L60.8,343.1L63.5,345.5L66.1,347.9L68.8,349.9L69.4,350.4L71.4,352.1L74,354.6L76.7,357.5L77.2,358.2L79.3,361.1L82,364.6L83.2,366L84.6,367.5L87.3,371.1L89.3,373.8L89.9,375.1L92.5,380L93.5,381.6L95.2,385.2L97.6,389.4ZM223.2,358.2L224.7,358.6L224.7,358.2L224.7,350.4L224.7,342.6L224.7,335.9L222.1,339.4L219.9,342.6L219.4,344.2L217.7,350.4L219.4,355L222.1,357.8L223.2,358.2ZM162.6,256.6L163.9,257.2L166.6,258L169.2,258.6L171.8,258.9L174.5,258.8L177.1,258.3L179.8,257.1L180.6,256.6L182.4,255.9L185.1,255.1L187.7,254.1L190.3,253.1L193,252L195.6,250.7L198.3,248.9L198.4,248.8L200.9,247.1L203.6,244.8L206.2,242.1L207.2,241L206.2,241L203.6,241L200.9,241L198.3,241L195.6,241L193,241L190.3,241L187.7,241L185.1,241L182.4,241L179.8,241L177.1,241L174.5,241L171.8,241L169.2,241L166.6,241L163.9,241L161.7,241L161.8,248.8L162.6,256.6Z" fill="#a2ff5d" fill-rule="evenodd"/>
<path d="M106.3,389.4L108.4,391.8L111,394.3L113.6,397.2L113.7,397.2L116.3,397.2L119,397.2L121.6,397.2L124.3,397.2L126.9,397.2L129.5,397.2L132.2,397.2L134.8,397.2L137.5,397.2L140.1,397.2L142.8,397.2L145.4,397.2L148.1,397.2L150.7,397.2L153.3,397.2L156,397.2L158.6,397.2L161.3,397.2L163.9,397.2L165.4,397.2L166.6,393.8L167.3,389.4L167.4,381.6L166.6,379.1L164.8,373.8L163.9,372L161.3,366.5L161.1,366L160.3,358.2L159.8,350.4L158.9,342.6L158.6,341.3L157.4,334.8L156,332.7L153.3,329.2L151.5,326.9L150.7,326.1L148.1,323.3L145.4,320L144.8,319.1L142.8,315.2L140.2,311.3L140.1,311.2L137.5,307.2L134.8,303.7L134.7,303.5L132.2,300.6L129.5,298.8L126.9,297.5L124.3,296L123.8,295.7L121.6,293.8L119,291.9L116.3,290.6L113.7,289.6L111,288.8L108.4,288L108.1,287.9L105.8,286.5L103.1,284.9L100.5,283.2L97.8,281.7L95.2,280.2L95,280.1L92.5,278.2L89.9,276.2L87.3,274.3L84.6,272.3L84.5,272.2L82,269.8L79.3,267.4L76.7,265.4L75.2,264.4L74,263.5L71.4,261.3L68.8,259.2L66.1,257L65.6,256.6L63.5,255.4L60.8,253.9L58.2,252.7L55.5,251.7L52.9,250.9L50.3,250.2L47.6,249.7L45,249.4L42.3,249.4L39.7,249.9L37,251L34.4,253L34.4,256.6L34.4,264.4L34.4,272.2L34.4,280.1L34.4,287.9L34.4,295.7L34.4,303.5L34.4,311.3L34.4,319.1L34.4,319.7L37,322.3L39.7,324.7L42.2,326.9L42.3,327L45,329L47.6,330.8L50.3,332.3L52.9,333.6L55.5,334.7L55.8,334.8L58.2,336.4L60.8,338.2L63.5,340.2L66.1,342.1L66.7,342.6L68.8,344.4L71.4,346.5L74,348.4L76.7,350.2L76.9,350.4L79.3,353.6L82,357L83,358.2L84.6,360.3L87.3,363.5L89.8,366L89.9,366.2L92.5,369.7L95.2,373.2L95.7,373.8L97.8,377.5L100.4,381.6L100.5,381.7L103.1,385.9L105.8,389L106.3,389.4ZM168.6,241L169.2,243.3L171.8,246.8L174.5,247.5L177.1,247.2L179.8,246.7L182.4,246.3L185.1,245.8L187.7,245.1L190.3,244.3L193,243.3L195.6,241.9L196.7,241L195.6,241L193,241L190.3,241L187.7,241L185.1,241L182.4,241L179.8,241L177.1,241L174.5,241L171.8,241L169.2,241L168.6,241Z" fill="#c7ff38" fill-rule="evenodd"/>
<path d="M125.8,389.4L126.9,390.3L129.5,391.6L132.2,392.9L134.8,394.7L137.5,396.4L140.1,397.1L142.8,397.1L145.4,397.1L148.1,397.1L150.7,397.1L153.3,395.7L156,392.8L158.6,389.9L159.1,389.4L161.1,381.6L158.6,377L157.4,373.8L156,367.9L155.7,366L155.8,358.2L155.8,350.4L155.2,342.6L154,334.8L153.3,333.8L150.7,330.3L148.2,326.9L148.1,326.8L145.4,323.4L142.8,319.6L142.5,319.1L140.1,315.1L137.7,311.3L137.5,311L134.8,306.9L132.2,303.8L131.9,303.5L129.5,301.6L126.9,300.2L124.3,298.8L121.6,297.2L119.1,295.7L119,295.6L116.3,294.1L113.7,292.9L111,291.8L108.4,290.8L105.8,289.7L103.1,288.7L101,287.9L100.5,287.6L97.8,285.9L95.2,284.3L92.5,282.8L89.9,281.3L87.8,280.1L87.3,279.6L84.6,277.6L82,275.5L79.3,273.7L76.7,272.3L76.6,272.2L74,270.9L71.4,269.6L68.8,268.2L66.1,266.5L63.5,264.7L63.2,264.4L60.8,262.5L58.2,260.8L55.5,259.4L52.9,258.4L50.3,257.5L47.6,256.9L45,256.7L42.3,257L39.7,257.8L37,259L34.4,260.6L34.4,264.4L34.4,272.2L34.4,280.1L34.4,287.9L34.4,295.7L34.4,303.5L34.4,311.3L34.4,312.8L37,316.5L39.2,319.1L39.7,319.6L42.3,322.4L45,324.9L47.3,326.9L47.6,327.2L50.3,329.2L52.9,330.8L55.5,332.1L58.2,333.2L60.8,334.2L62.4,334.8L63.5,335.6L66.1,337.7L68.8,339.9L71.4,341.8L72.5,342.6L74,343.9L76.7,346.1L79.3,348.3L81.7,350.4L82,350.7L84.6,354.3L87.3,357.1L88.4,358.2L89.9,360L92.5,362.8L95.2,365.3L96,366L97.8,368.6L100.5,372.4L101.5,373.8L103.1,376.4L105.8,379.7L108.4,381.6L108.6,381.6L111,382.9L113.7,383.9L116.3,385L119,386.1L121.6,387.5L124.3,388.8L125.8,389.4Z" fill="#edff12" fill-rule="evenodd"/>
<path d="M125.9,381.6L126.9,382.2L129.5,382.8L132.2,382.9L134.8,383L137.5,383.2L140.1,383.4L142.8,383L145.1,381.6L145.4,381.5L148.1,378.4L149.7,373.8L150.7,367L150.8,366L151.6,358.2L152,350.4L151.6,342.6L150.8,334.8L150.7,334.7L148.1,331.1L145.4,326.9L142.8,323.2L140.2,319.1L140.1,319L137.5,314.5L135.6,311.3L134.8,310.1L132.2,306.6L129.5,304.3L127.9,303.5L126.9,302.9L124.3,301.7L121.6,300.3L119,298.7L116.3,297.3L113.7,296.1L112.7,295.7L111,294.9L108.4,293.6L105.8,292.4L103.1,291.2L100.5,290.1L97.8,289.1L95.2,288.2L94.2,287.9L92.5,286.9L89.9,285.3L87.3,283.7L84.6,282.1L82,280.4L81.4,280.1L79.3,278.5L76.7,277L74,275.9L71.4,275.1L68.8,274.3L66.1,273.6L63.5,272.6L62.7,272.2L60.8,270.7L58.2,268.7L55.5,267.1L52.9,265.8L50.4,264.4L50.3,264.4L47.6,263.2L45,262.7L42.3,262.8L39.7,263.4L37.4,264.4L37,264.6L34.4,266.8L34.4,272.2L34.4,280.1L34.4,287.9L34.4,295.7L34.4,303.5L34.4,303.7L37,310L37.6,311.3L39.7,314.2L42.3,317.6L43.5,319.1L45,320.7L47.6,323.4L50.3,325.9L51.4,326.9L52.9,328L55.5,329.6L58.2,330.9L60.8,332.1L63.5,333.1L66.1,334.1L67.6,334.8L68.8,335.8L71.4,338.2L74,340.2L76.7,342.1L77.3,342.6L79.3,344.5L82,347L84.6,349.4L85.8,350.4L87.3,352.2L89.9,355L92.5,357.4L93.4,358.2L95.2,360.1L97.8,362.8L100.5,365.5L101,366L103.1,369.3L105.8,372.5L107.2,373.8L108.4,375L111,376.8L113.7,377.9L116.3,378.8L119,379.5L121.6,380.3L124.3,381.2L125.9,381.6Z" fill="#ffec00" fill-rule="evenodd"/>
<path d="M115.1,373.8L116.3,374.4L119,375.4L121.6,376.3L124.3,377.3L126.9,378.1L129.5,378.4L132.2,378.3L134.8,377.8L137.5,376.9L140.1,375.7L142.5,373.8L142.8,373.6L145.4,368.9L146.4,366L148,358.2L148.1,357.1L148.6,350.4L148.3,342.6L148.1,339.9L147.5,334.8L145.4,331.6L142.9,326.9L142.8,326.8L140.1,322.8L138.1,319.1L137.5,318.1L134.8,313.4L133.5,311.3L132.2,309.5L129.5,307L126.9,305.4L124.3,304.3L122,303.5L121.6,303.3L119,301.9L116.3,300.3L113.7,298.8L111,297.5L108.4,296.4L107,295.7L105.8,295.1L103.1,293.7L100.5,292.5L97.8,291.4L95.2,290.4L92.5,289.5L89.9,288.6L87.6,287.9L87.3,287.7L84.6,286L82,284.2L79.3,282.7L76.7,281.4L74,280.4L73.1,280.1L71.4,279.4L68.8,278.5L66.1,277.8L63.5,277L60.8,275.9L58.2,274.8L55.5,273.7L52.9,272.6L52.1,272.2L50.3,271.2L47.6,270L45,269.5L42.3,269.7L39.7,270.6L37,272.2L36.3,280.1L36.1,287.9L36.9,295.7L37,296.6L38.1,303.5L39.7,307.2L41.4,311.3L42.3,312.6L45,315.9L47.2,319.1L47.6,319.6L50.3,322.5L52.9,325L55.4,326.9L55.5,327.1L58.2,328.6L60.8,329.9L63.5,331.1L66.1,332.2L68.8,333.4L71.4,334.6L71.6,334.8L74,337L76.7,339.1L79.3,341.1L81.1,342.6L82,343.4L84.6,346L87.3,348.3L89.8,350.4L89.9,350.5L92.5,353.3L95.2,355.8L97.8,358L98,358.2L100.5,361L103.1,363.9L105.2,366L105.8,366.8L108.4,369.7L111,371.7L113.7,373.2L115.1,373.8Z" fill="#ffc700" fill-rule="evenodd"/>
<path d="M125.4,373.8L126.9,374.3L129.5,374.6L132.2,374.3L133.4,373.8L134.8,373.3L137.5,371.5L140.1,368.9L142,366L142.8,364.2L144.6,358.2L145.4,351.8L145.6,350.4L145.4,346.4L145.3,342.6L144.4,334.8L142.8,332L140.4,326.9L140.1,326.5L137.5,321.9L136.1,319.1L134.8,316.8L132.2,312.5L131.2,311.3L129.5,309.6L126.9,307.9L124.3,306.7L121.6,305.6L119,304.5L116.8,303.5L116.3,303.2L113.7,301.5L111,300.1L108.4,298.7L105.8,297.4L103.1,296.1L102.1,295.7L100.5,294.8L97.8,293.7L95.2,292.6L92.5,291.7L89.9,290.8L87.3,289.9L84.6,289L82,288L81.7,287.9L79.3,286.4L76.7,285.1L74,283.9L71.4,282.9L68.8,282.1L66.1,281.6L63.5,281.1L60.8,280.4L59.7,280.1L58.2,279.5L55.5,278.6L52.9,278L50.3,277.8L47.6,278.2L45,279.8L44.7,280.1L42.3,286.9L42.2,287.9L42,295.7L42,303.5L42.3,304.3L45,310.7L45.2,311.3L47.6,314.7L50.2,319.1L50.3,319.1L52.9,322L55.5,324.2L58.2,326.2L59.3,326.9L60.8,327.8L63.5,329.1L66.1,330.3L68.8,331.6L71.4,332.9L74,334.2L75.2,334.8L76.7,336L79.3,338.2L82,340.4L84.5,342.6L84.6,342.7L87.3,345.2L89.9,347.4L92.5,349.6L93.6,350.4L95.2,352L97.8,354.4L100.5,356.8L101.9,358.2L103.1,359.6L105.8,362.5L108.4,364.9L109.6,366L111,367.4L113.7,369.4L116.3,370.9L119,371.8L121.6,372.6L124.3,373.5L125.4,373.8Z" fill="#ffa200" fill-rule="evenodd"/>
<path d="M114.1,366L116.3,367.5L119,368.6L121.6,369.4L124.3,370.2L126.9,370.8L129.5,371.1L132.2,370.6L134.8,369.1L137.5,366.3L137.7,366L140.1,361L141.2,358.2L142.6,350.4L142.3,342.6L141.4,334.8L140.1,332.1L138.2,326.9L137.5,325.7L134.8,320.4L134.2,319.1L132.2,315.7L129.5,312.4L128.3,311.3L126.9,310.3L124.3,309L121.6,307.8L119,306.7L116.3,305.4L113.7,304.1L112.5,303.5L111,302.6L108.4,301.1L105.8,299.7L103.1,298.3L100.5,297.1L97.8,296L97.2,295.7L95.2,294.9L92.5,293.8L89.9,292.9L87.3,292.1L84.6,291.2L82,290.2L79.3,289.3L76.7,288.4L74.9,287.9L74,287.5L71.4,286.4L68.8,285.5L66.1,285.1L63.5,284.9L60.8,284.6L58.2,284.2L55.5,283.7L52.9,283.8L50.3,285.4L48.5,287.9L47.6,290.8L46.5,295.7L45.9,303.5L47.6,307.9L48.8,311.3L50.3,313.7L52.9,318.6L53.1,319.1L55.5,321.4L58.2,323.5L60.8,325.4L63.1,326.9L63.5,327.1L66.1,328.4L68.8,329.8L71.4,331.1L74,332.4L76.7,333.7L78.7,334.8L79.3,335.3L82,337.6L84.6,339.9L87.3,342L87.9,342.6L89.9,344.4L92.5,346.7L95.2,348.8L97.4,350.4L97.8,350.8L100.5,353.3L103.1,355.9L105.6,358.2L105.8,358.4L108.4,360.9L111,363.3L113.7,365.7L114.1,366Z" fill="#ff7d00" fill-rule="evenodd"/>
<path d="M121.1,366L121.6,366.1L124.3,366.9L126.9,367.4L129.5,367.7L132.2,367L133.5,366L134.8,364.3L137.5,359.2L137.9,358.2L139.5,350.4L139.3,342.6L138.8,334.8L137.5,331.4L136.1,326.9L134.8,324.3L132.3,319.1L132.2,319L129.5,315.5L126.9,313.1L124.3,311.3L121.6,310.1L119,308.8L116.3,307.4L113.7,306.1L111,304.7L108.4,303.5L105.8,302L103.1,300.6L100.5,299.2L97.8,298.1L95.2,297L92.5,296L91.7,295.7L89.9,295L87.3,294.2L84.6,293.4L82,292.5L79.3,291.6L76.7,290.8L74,290.1L71.4,289.4L68.8,288.8L66.1,288.6L63.5,288.7L60.8,288.8L58.2,289L55.5,289.4L52.9,291.5L51,295.7L50.3,300L49.8,303.5L50.3,304.8L52.3,311.3L52.9,312.5L55.5,317.7L56.2,319.1L58.2,320.8L60.8,322.9L63.5,324.7L66.1,326.4L66.8,326.9L68.8,327.9L71.4,329.3L74,330.6L76.7,331.8L79.3,333.2L81.9,334.8L82,334.8L84.6,337.1L87.3,339.3L89.9,341.5L91.1,342.6L92.5,343.8L95.2,346L97.8,348L100.5,349.9L101,350.4L103.1,352.4L105.8,354.9L108.4,357L109.8,358.2L111,359.3L113.7,361.7L116.3,363.7L119,365.1L121.1,366Z" fill="#ff5800" fill-rule="evenodd"/>
<path d="M114.4,358.2L116.3,359.6L119,360.8L121.6,361.6L124.3,362.4L126.9,363L129.5,363.2L132.2,361.8L134.8,358.2L136.7,350.4L136.6,342.6L136.4,334.8L134.8,329.5L134.1,326.9L132.2,323.2L129.9,319.1L129.5,318.6L126.9,316.1L124.3,314.1L121.6,312.5L119.7,311.3L119,310.9L116.3,309.5L113.7,308L111,306.7L108.4,305.5L105.8,304.2L104.4,303.5L103.1,302.8L100.5,301.4L97.8,300.2L95.2,299.2L92.5,298.2L89.9,297.2L87.3,296.4L85,295.7L84.6,295.6L82,294.7L79.3,293.9L76.7,293.2L74,292.6L71.4,292.1L68.8,291.8L66.1,292L63.5,292.5L60.8,293.3L58.2,294.6L56.7,295.7L55.5,298L53.9,303.5L55.5,309.6L56,311.3L58.2,316L59.3,319.1L60.8,320.3L63.5,322.3L66.1,324L68.8,325.8L70.4,326.9L71.4,327.5L74,328.7L76.7,330L79.3,331.3L82,332.7L84.6,334.4L85.1,334.8L87.3,336.5L89.9,338.7L92.5,341L94.3,342.6L95.2,343.3L97.8,345.3L100.5,347.2L103.1,349.3L104.6,350.4L105.8,351.4L108.4,353.4L111,355.4L113.7,357.6L114.4,358.2Z" fill="#ff3200" fill-rule="evenodd"/>
<path d="M109.2,350.4L111,351.6L113.7,353.5L116.3,355.3L119,356.4L121.6,356.8L124.3,357.3L126.9,357.5L129.5,357.5L132.2,354.8L133.7,350.4L134.1,342.6L134.1,334.8L132.2,327.9L131.9,326.9L129.5,322.9L127,319.1L126.9,319L124.3,316.9L121.6,315.2L119,313.5L116.3,311.6L115.9,311.3L113.7,310L111,308.7L108.4,307.5L105.8,306.3L103.1,305L100.5,303.5L100.4,303.5L97.8,302.4L95.2,301.3L92.5,300.3L89.9,299.4L87.3,298.7L84.6,298L82,297.2L79.3,296.3L77.3,295.7L76.7,295.5L74,295.1L71.4,294.8L68.8,294.8L66.1,295.4L65.1,295.7L63.5,296.8L60.8,299.4L58.4,303.5L60,311.3L60.8,313.5L62.6,319.1L63.5,319.8L66.1,321.6L68.8,323.4L71.4,325.2L74,326.9L76.7,328.1L79.3,329.3L82,330.7L84.6,332.2L87.3,333.9L88.4,334.8L89.9,336L92.5,338.2L95.2,340.4L97.8,342.5L97.9,342.6L100.5,344.5L103.1,346.5L105.8,348.4L108.4,349.9L109.2,350.4Z" fill="#ff0d00" fill-rule="evenodd"/>
<path d="M115.6,350.4L116.3,350.8L119,351.5L121.6,351.5L124.3,351.2L126.9,350.5L127.3,350.4L129.5,348.7L131.2,342.6L131.7,334.8L129.5,328.1L129.1,326.9L126.9,323.8L124.3,320.2L123.5,319.1L121.6,317.8L119,316.2L116.3,314.3L113.7,312.3L112.4,311.3L111,310.6L108.4,309.5L105.8,308.4L103.1,307.2L100.5,306L97.8,304.7L95.3,303.5L95.2,303.4L92.5,302.5L89.9,301.6L87.3,300.9L84.6,300.4L82,299.7L79.3,299.1L76.7,298.6L74,298.3L71.4,298.5L68.8,299.3L66.1,301L63.5,303.4L63.4,303.5L63.5,303.8L64.5,311.3L66,319.1L66.1,319.2L68.8,320.9L71.4,322.7L74,324.3L76.7,325.9L78.3,326.9L79.3,327.4L82,328.6L84.6,329.9L87.3,331.4L89.9,333.2L91.7,334.8L92.5,335.4L95.2,337.6L97.8,339.5L100.5,341.6L101.5,342.6L103.1,343.8L105.8,345.6L108.4,347L111,348.2L113.7,349.5L115.6,350.4Z" fill="#e70000" fill-rule="evenodd"/>
<path d="M105.4,342.6L105.8,342.8L108.4,344.1L111,344.9L113.7,345.8L116.3,346.5L119,346.7L121.6,346.1L124.3,344.8L126.5,342.6L126.9,341.3L128.4,334.8L126.9,330.8L125.5,326.9L124.3,325.4L121.6,322.1L119.5,319.1L119,318.8L116.3,317L113.7,315.2L111,313.2L108.4,311.5L108,311.3L105.8,310.5L103.1,309.5L100.5,308.4L97.8,307.4L95.2,306.4L92.5,305.3L89.9,304.1L88.5,303.5L87.3,303.2L84.6,302.8L82,302.3L79.3,301.9L76.7,301.7L74,301.8L71.4,302.7L70,303.5L69.7,311.3L69.8,319.1L71.4,320.1L74,321.8L76.7,323.2L79.3,324.7L82,326.3L83,326.9L84.6,327.7L87.3,328.9L89.9,330.4L92.5,332.3L95.2,334.7L95.2,334.8L97.8,336.5L100.5,338.4L103.1,340.6L105.4,342.6Z" fill="#c20000" fill-rule="evenodd"/>
<path d="M99.8,334.8L100.5,335.2L103.1,337L105.8,338.9L108.4,340.3L111,341L113.7,341.6L116.3,341.9L119,341.4L121.6,339.4L124.2,334.8L121.6,328.7L120.7,326.9L119,325.1L116.3,321.3L115.4,319.1L113.7,318L111,316.3L108.4,314.8L105.8,313.5L103.1,312.1L101.8,311.3L100.5,310.9L97.8,310.1L95.2,309.4L92.5,308.7L89.9,308L87.3,307.5L84.6,307.2L82,307L79.3,307.2L76.7,308.4L75,311.3L74,318.4L74,319.1L74,319.2L76.7,320.5L79.3,321.7L82,323L84.6,324.5L87.3,326.1L88.5,326.9L89.9,327.6L92.5,329L95.2,330.8L97.8,332.8L99.8,334.8Z" fill="#9d0000" fill-rule="evenodd"/>
<path d="M105.6,334.8L105.8,334.9L108.4,335.6L111,335.5L113.7,335.1L114.8,334.8L113.7,332.3L112.2,326.9L111,322.2L110.6,319.1L108.4,318.1L105.8,317.1L103.1,316L100.5,314.9L97.8,314.1L95.2,313.4L92.5,312.9L89.9,312.6L87.3,312.7L84.6,313.6L82,316.1L80.4,319.1L82,319.8L84.6,320.9L87.3,321.9L89.9,323L92.5,324.6L95.2,326.7L95.5,326.9L97.8,328L100.5,329.3L103.1,331.3L105.6,334.8Z" fill="#800000" fill-rule="evenodd"/>
<path d="M182.4,312L180.2,311.3L179.8,311.1L177.1,307.7L175.2,303.5L177.1,299.4L179.8,295.8L180,295.7L182.4,295.1L185.1,295.1L187.7,295.3L190.3,295.5L191.4,295.7L193,296.1L195.6,298L198.3,302.9L198.5,303.5L198.3,304L195.6,307.7L193,309.6L190.3,310.6L188.1,311.3L187.7,311.4L185.1,311.8L182.4,312M174.5,313.3L172.9,311.3L171.8,308.9L169.9,303.5L171.8,298.4L173,295.7L174.5,294.2L177.1,292L179.8,290.6L182.4,290.2L185.1,290.2L187.7,290.2L190.3,290.3L193,290.4L195.6,290.9L198.3,292.1L200.9,294.3L202,295.7L203.6,301.3L204,303.5L203.6,304.7L200.9,310.1L200.2,311.3L198.3,313.2L195.6,315.1L193,316.2L190.3,317L187.7,317.6L185.1,318.1L182.4,318.3L179.8,317.7L177.1,316L174.5,313.3M129.5,272.3L129.4,272.2L129.5,272.1L129.7,272.2L129.5,272.3M113.7,257L111.1,256.6L113.7,254.5L116.3,253L119,252.8L120.3,256.6L119,257.5L116.3,257.3L113.7,257M182.4,351.9L180.1,350.4L182.2,342.6L182.4,341.9L185,342.6L185.1,342.6L187.7,343.9L190.3,345.2L193,346.1L195.1,350.4L193,351.8L190.3,351.9L187.7,351.9L185.1,351.9L182.4,351.9M179.8,328.5L179.1,326.9L177.1,324.8L174.5,321.7L172,319.1L171.8,318.9L169.2,315.9L166.6,311.6L166.4,311.3L164.5,303.5L166.6,296.1L166.7,295.7L169.2,291.7L171.8,289.1L173.7,287.9L174.5,287.5L177.1,286.4L179.8,285.8L182.4,285.7L185.1,285.7L187.7,285.7L190.3,285.7L193,285.7L195.6,285.8L198.3,286L200.9,286.3L203.6,286.8L206.1,287.9L206.2,288L208.8,294.4L209.3,295.7L210.2,303.5L208.8,308.9L208.1,311.3L206.2,313.9L203.6,316.4L200.9,318.5L200,319.1L198.3,320.8L195.6,323.2L193,325.1L190.3,326.5L189.5,326.9L187.7,328.7L185.1,330.5L182.4,331.2L179.8,328.5M126,241L126.9,245.9L127.2,248.8L128.2,256.6L129.5,258.7L132.2,261.3L134.4,264.4L134.8,265.3L137,272.2L134.8,278L133.2,280.1L132.2,280.5L129.5,280.8L128,280.1L126.9,279L124.3,274.1L123.2,272.2L121.6,269L119,267L116.3,266L113.7,265.3L111,264.7L110.2,264.4L108.4,263.7L105.8,261.5L103.1,257.1L102.9,256.6L103.1,250.2L103.2,248.8L105.8,243.8L108.4,242.3L111,241.3L112,241M179.8,358.7L179.2,358.2L177.1,354.9L175.3,350.4L175.2,342.6L174.9,334.8L174.5,333.7L171.8,328.3L171,326.9L169.2,324.8L166.6,321.7L164,319.1L163.9,318.9L161.3,314.1L159.4,311.3L158.6,309L156.2,303.5L158.4,295.7L158.6,295.4L161.3,291.3L163.8,287.9L163.9,287.7L166.6,284.1L169.2,282.1L171.8,281.2L174.5,281.1L177.1,281.2L179.8,281.4L182.4,281.5L185.1,281.5L187.7,281.6L190.3,281.6L193,281.6L195.6,281.6L198.3,281.5L200.9,281.3L203.6,281.3L206.2,281.5L208.8,282.3L211.5,283.8L214.1,286L216.2,287.9L216.8,289.4L219.1,295.7L219.4,297.6L220.5,303.5L219.4,310.2L219.2,311.3L216.8,316.1L214.5,319.1L214.1,319.3L211.5,320.6L208.8,322.4L206.2,324.5L203.6,326.9L203.5,326.9L200.9,330.5L198.9,334.8L199.5,342.6L199.8,350.4L198.3,354.3L195.7,358.2L195.6,358.2L193,359.2L190.3,359.3L187.7,359.4L185.1,359.5L182.4,359.5L179.8,358.7M34.4,347.3L37,347.7L39.7,348.1L42.3,348.4L45,348.8L47.6,349.9L48.2,350.4L50.3,353.2L52.9,355.9L55.5,357.6L56.4,358.2L58.2,360.2L60.8,363.8L62.4,366L63.5,368.3L66.1,371.7L68.8,373.7L68.9,373.8L71.4,376.7L74,379.2L76.7,381.4L76.8,381.6L76.7,382.6L74.5,389.4L74,389.7L71.4,390.8L68.8,391.6L66.1,392.2L63.5,392.9L60.8,393.7L58.2,394.5L55.5,394.9L52.9,394.4L50.3,393.6L47.6,392.8L45,392.1L42.3,391.5L39.7,390.5L37.5,389.4L37,389L34.4,386.6M141.6,241L141.8,248.8L142.1,256.6L142.8,259.8L143.6,264.4L144.5,272.2L143.4,280.1L142.8,281.6L140.1,284.8L137.5,285.7L134.8,285.9L132.2,285.8L129.5,285.4L126.9,283.9L124.3,280.9L123.6,280.1L121.6,276.1L119,273.1L117.6,272.2L116.3,271.5L113.7,270.4L111,269.4L108.4,268.4L105.8,267.1L103.1,265L102.6,264.4L100.5,260.2L98.7,256.6L97.8,250.7L97.2,248.8L95.4,241M34.4,338.7L37,339.7L39.7,340.6L42.3,341.4L45,342.1L46.1,342.6L47.6,343.4L50.3,345.7L52.9,348.4L55,350.4L55.5,350.9L58.2,353.1L60.8,355.6L63.3,358.2L63.5,358.4L66.1,361.9L68.8,365L69.6,366L71.4,368L74,370.3L76.7,372.4L78.4,373.8L79.3,375.1L82,380.5L82.4,381.6L82.4,389.4L82,391.7L79.3,397.2L79.2,397.2M224.7,323.1L222.1,324L219.4,325L216.8,326.2L215.4,326.9L214.1,327.6L211.5,329.6L208.8,332.5L207.3,334.8L206.2,339.2L205.5,342.6L204.3,350.4L203.6,352.4L201.5,358.2L200.9,359.1L198.3,362L195.6,363.5L193,364.2L190.3,364.5L187.7,364.7L185.1,364.8L182.4,364.9L179.8,364.2L177.1,362.4L174.5,358.9L174,358.2L171.8,352L171.3,350.4L170.5,342.6L169.3,334.8L169.2,334.5L166.6,329.6L164.9,326.9L163.9,325.8L161.3,322.8L158.6,320.4L156.8,319.1L156,318L153.3,314.4L150.8,311.3L150.7,311.1L148.1,304.9L147.2,303.5L145.4,299.9L142.8,297.3L140.3,295.7L140.1,295.6L137.5,293.2L134.8,291.4L132.2,290.2L129.5,289.4L126.9,288.1L126.6,287.9L124.3,285.2L121.6,281.7L120,280.1L119,278.8L116.3,277.1L113.7,275.7L111,274.4L108.4,273L107.3,272.2L105.8,271.4L103.1,269.7L100.5,267.5L97.8,264.6L97.7,264.4L95.2,260.8L92.5,257.5L91.8,256.6L89.9,253.4L87.3,249.6L86.7,248.8L84.6,245.6L82,242.6L80,241M149.2,241L150.4,248.8L150.7,250.8L151.4,256.6L153.3,264L153.5,264.4L156,269.1L158.6,270.6L161.3,271.4L163.9,271.9L165.5,272.2L166.6,272.6L169.2,273.2L171.8,273.8L174.5,274.7L177.1,275.7L179.8,276.5L182.4,276.8L185.1,276.8L187.7,276.8L190.3,276.9L193,276.9L195.6,276.7L198.3,276.4L200.9,275.9L203.6,275.5L206.2,275.2L208.8,274.8L211.5,274.5L214.1,274.6L216.8,274.9L219.4,275.4L222.1,276L224.7,276.8M34.4,332L37,333.5L39.3,334.8L39.7,334.9L42.3,336.3L45,337.5L47.6,338.7L50.3,340.3L52.9,342.1L53.5,342.6L55.5,344.5L58.2,346.9L60.8,349.3L62,350.4L63.5,351.8L66.1,354.3L68.8,356.8L70.3,358.2L71.4,359.5L74,362.9L76.4,366L76.7,366.2L79.3,368.6L82,371.2L83.9,373.8L84.6,375.5L87.1,381.6L87.3,382.5L89.6,389.4L89.9,390.7L92.1,397.2M224.7,329.4L222.1,330.5L219.4,331.8L216.8,333.4L215,334.8L214.1,336.4L211.7,342.6L211.5,343.5L210.1,350.4L208.8,355.9L208.2,358.2L206.2,362.6L203.6,365.5L203,366L200.9,367.3L198.3,368.8L195.6,369.9L193,370.6L190.3,370.9L187.7,371.3L185.1,371.5L182.4,371.6L179.8,371L177.1,369.5L174.5,366.9L173.7,366L171.8,363.5L169.2,358.2L169.2,358.1L167.3,350.4L166.6,344.6L166.3,342.6L165,334.8L163.9,332.9L161.3,328.9L159.8,326.9L158.6,325.7L156,323.1L153.3,321L150.9,319.1L150.7,318.8L148.1,314L146.5,311.3L145.4,309.1L142.8,305.1L141.3,303.5L140.1,301.9L137.5,298.7L134.8,296.1L134.3,295.7L132.2,294.1L129.5,292.8L126.9,291.4L124.3,289.2L123,287.9L121.6,286.2L119,283.6L116.3,282.2L113.7,281.1L111.1,280.1L111,280L108.4,278.5L105.8,276.8L103.1,274.9L100.5,272.9L99.7,272.2L97.8,270.7L95.2,268.5L92.5,266.1L90.6,264.4L89.9,263.6L87.3,260.5L84.6,257.4L84,256.6L82,253.9L79.3,250.9L77,248.8L76.7,248.5L74,246.3L71.4,244.5L68.8,243L66.1,241.7L64.7,241M155.5,241L155.7,248.8L156,256.6L158.6,262.4L160.9,264.4L161.3,264.6L163.9,265.2L166.6,265.8L169.2,266.3L171.8,266.8L174.5,267.5L177.1,268.6L179.8,270.1L182.4,270.9L185.1,270.7L187.7,270.6L190.3,270.4L193,270.1L195.6,269.1L198.3,267.1L200.9,265L201.7,264.4L203.6,262.8L206.2,260.3L208.8,257.4L209.7,256.6L211.5,255.4L214.1,254.4L216.8,254.1L219.4,253.7L222.1,253.3L224.7,252.9M224.7,383.9L222.1,382.4L220.8,381.6L219.4,380.9L216.8,379.6L214.1,378.5L211.5,377L208.8,376.4L206.2,376.3L203.6,376.5L200.9,377.1L198.3,377.8L195.6,378.5L193,379L190.3,379.4L187.7,379.8L185.1,380.2L182.4,380.3L179.8,380L177.1,379.2L174.5,377.6L171.8,374.9L171.3,373.8L169.2,370.7L166.7,366L166.6,365.5L164.7,358.2L163.9,352.9L163.6,350.4L162.6,342.6L161.3,336L161,334.8L158.6,331.2L156,327.7L155.4,326.9L153.3,324.9L150.7,322.6L148.1,319.9L147.5,319.1L145.4,315.1L143.2,311.3L142.8,310.6L140.1,306.8L137.5,303.5L134.8,299.9L132.2,297.5L129.5,296.1L128.8,295.7L126.9,294.7L124.3,292.6L121.6,290.2L119,288.1L118.4,287.9L116.3,286.8L113.7,285.7L111,284.7L108.4,283.4L105.8,281.9L103.1,280.4L102.6,280.1L100.5,278.5L97.8,276.5L95.2,274.6L92.5,272.6L92,272.2L89.9,270.4L87.3,268.2L84.6,265.7L83.3,264.4L82,262.8L79.3,259.8L76.7,257.2L76.1,256.6L74,254.8L71.4,252.6L68.8,250.7L66.1,249L65.8,248.8L63.5,247.6L60.8,246.3L58.2,245.1L55.5,244.1L52.9,243.4L50.3,242.7L47.6,242.1L45,241.5L42.9,241M224.7,335.9L222.1,339.4L219.9,342.6L219.4,344.2L217.7,350.4L219.4,355L222.1,357.8L223.2,358.2L224.7,358.6M34.4,325.9L35.8,326.9L37,327.9L39.7,329.8L42.3,331.6L45,333.1L47.6,334.4L48.4,334.8L50.3,335.8L52.9,337.5L55.5,339.3L58.2,341.1L60.3,342.6L60.8,343.1L63.5,345.5L66.1,347.9L68.8,349.9L69.4,350.4L71.4,352.1L74,354.6L76.7,357.5L77.2,358.2L79.3,361.1L82,364.6L83.2,366L84.6,367.5L87.3,371.1L89.3,373.8L89.9,375.1L92.5,380L93.5,381.6L95.2,385.2L97.6,389.4L97.8,389.9L100.5,395L101.9,397.2M161.7,241L161.8,248.8L162.6,256.6L163.9,257.2L166.6,258L169.2,258.6L171.8,258.9L174.5,258.8L177.1,258.3L179.8,257.1L180.6,256.6L182.4,255.9L185.1,255.1L187.7,254.1L190.3,253.1L193,252L195.6,250.7L198.3,248.9L198.4,248.8L200.9,247.1L203.6,244.8L206.2,242.1L207.2,241M165.4,397.2L166.6,393.8L167.3,389.4L167.4,381.6L166.6,379.1L164.8,373.8L163.9,372L161.3,366.5L161.1,366L160.3,358.2L159.8,350.4L158.9,342.6L158.6,341.3L157.4,334.8L156,332.7L153.3,329.2L151.5,326.9L150.7,326.1L148.1,323.3L145.4,320L144.8,319.1L142.8,315.2L140.2,311.3L140.1,311.2L137.5,307.2L134.8,303.7L134.7,303.5L132.2,300.6L129.5,298.8L126.9,297.5L124.3,296L123.8,295.7L121.6,293.8L119,291.9L116.3,290.6L113.7,289.6L111,288.8L108.4,288L108.1,287.9L105.8,286.5L103.1,284.9L100.5,283.2L97.8,281.7L95.2,280.2L95,280.1L92.5,278.2L89.9,276.2L87.3,274.3L84.6,272.3L84.5,272.2L82,269.8L79.3,267.4L76.7,265.4L75.2,264.4L74,263.5L71.4,261.3L68.8,259.2L66.1,257L65.6,256.6L63.5,255.4L60.8,253.9L58.2,252.7L55.5,251.7L52.9,250.9L50.3,250.2L47.6,249.7L45,249.4L42.3,249.4L39.7,249.9L37,251L34.4,253M34.4,319.7L37,322.3L39.7,324.7L42.2,326.9L42.3,327L45,329L47.6,330.8L50.3,332.3L52.9,333.6L55.5,334.7L55.8,334.8L58.2,336.4L60.8,338.2L63.5,340.2L66.1,342.1L66.7,342.6L68.8,344.4L71.4,346.5L74,348.4L76.7,350.2L76.9,350.4L79.3,353.6L82,357L83,358.2L84.6,360.3L87.3,363.5L89.8,366L89.9,366.2L92.5,369.7L95.2,373.2L95.7,373.8L97.8,377.5L100.4,381.6L100.5,381.7L103.1,385.9L105.8,389L106.3,389.4L108.4,391.8L111,394.3L113.6,397.2M168.6,241L169.2,243.3L171.8,246.8L174.5,247.5L177.1,247.2L179.8,246.7L182.4,246.3L185.1,245.8L187.7,245.1L190.3,244.3L193,243.3L195.6,241.9L196.7,241M34.4,312.8L37,316.5L39.2,319.1L39.7,319.6L42.3,322.4L45,324.9L47.3,326.9L47.6,327.2L50.3,329.2L52.9,330.8L55.5,332.1L58.2,333.2L60.8,334.2L62.4,334.8L63.5,335.6L66.1,337.7L68.8,339.9L71.4,341.8L72.5,342.6L74,343.9L76.7,346.1L79.3,348.3L81.7,350.4L82,350.7L84.6,354.3L87.3,357.1L88.4,358.2L89.9,360L92.5,362.8L95.2,365.3L96,366L97.8,368.6L100.5,372.4L101.5,373.8L103.1,376.4L105.8,379.7L108.4,381.6L108.6,381.6L111,382.9L113.7,383.9L116.3,385L119,386.1L121.6,387.5L124.3,388.8L125.8,389.4L126.9,390.3L129.5,391.6L132.2,392.9L134.8,394.7L137.5,396.4L140.1,397.1L142.8,397.1L145.4,397.1L148.1,397.1L150.7,397.1L153.3,395.7L156,392.8L158.6,389.9L159.1,389.4L161.1,381.6L158.6,377L157.4,373.8L156,367.9L155.7,366L155.8,358.2L155.8,350.4L155.2,342.6L154,334.8L153.3,333.8L150.7,330.3L148.2,326.9L148.1,326.8L145.4,323.4L142.8,319.6L142.5,319.1L140.1,315.1L137.7,311.3L137.5,311L134.8,306.9L132.2,303.8L131.9,303.5L129.5,301.6L126.9,300.2L124.3,298.8L121.6,297.2L119.1,295.7L119,295.6L116.3,294.1L113.7,292.9L111,291.8L108.4,290.8L105.8,289.7L103.1,288.7L101,287.9L100.5,287.6L97.8,285.9L95.2,284.3L92.5,282.8L89.9,281.3L87.8,280.1L87.3,279.6L84.6,277.6L82,275.5L79.3,273.7L76.7,272.3L76.6,272.2L74,270.9L71.4,269.6L68.8,268.2L66.1,266.5L63.5,264.7L63.2,264.4L60.8,262.5L58.2,260.8L55.5,259.4L52.9,258.4L50.3,257.5L47.6,256.9L45,256.7L42.3,257L39.7,257.8L37,259L34.4,260.6M34.4,303.7L37,310L37.6,311.3L39.7,314.2L42.3,317.6L43.5,319.1L45,320.7L47.6,323.4L50.3,325.9L51.4,326.9L52.9,328L55.5,329.6L58.2,330.9L60.8,332.1L63.5,333.1L66.1,334.1L67.6,334.8L68.8,335.8L71.4,338.2L74,340.2L76.7,342.1L77.3,342.6L79.3,344.5L82,347L84.6,349.4L85.8,350.4L87.3,352.2L89.9,355L92.5,357.4L93.4,358.2L95.2,360.1L97.8,362.8L100.5,365.5L101,366L103.1,369.3L105.8,372.5L107.2,373.8L108.4,375L111,376.8L113.7,377.9L116.3,378.8L119,379.5L121.6,380.3L124.3,381.2L125.9,381.6L126.9,382.2L129.5,382.8L132.2,382.9L134.8,383L137.5,383.2L140.1,383.4L142.8,383L145.1,381.6L145.4,381.5L148.1,378.4L149.7,373.8L150.7,367L150.8,366L151.6,358.2L152,350.4L151.6,342.6L150.8,334.8L150.7,334.7L148.1,331.1L145.4,326.9L142.8,323.2L140.2,319.1L140.1,319L137.5,314.5L135.6,311.3L134.8,310.1L132.2,306.6L129.5,304.3L127.9,303.5L126.9,302.9L124.3,301.7L121.6,300.3L119,298.7L116.3,297.3L113.7,296.1L112.7,295.7L111,294.9L108.4,293.6L105.8,292.4L103.1,291.2L100.5,290.1L97.8,289.1L95.2,288.2L94.2,287.9L92.5,286.9L89.9,285.3L87.3,283.7L84.6,282.1L82,280.4L81.4,280.1L79.3,278.5L76.7,277L74,275.9L71.4,275.1L68.8,274.3L66.1,273.6L63.5,272.6L62.7,272.2L60.8,270.7L58.2,268.7L55.5,267.1L52.9,265.8L50.4,264.4L50.3,264.4L47.6,263.2L45,262.7L42.3,262.8L39.7,263.4L37.4,264.4L37,264.6L34.4,266.8M115.1,373.8L116.3,374.4L119,375.4L121.6,376.3L124.3,377.3L126.9,378.1L129.5,378.4L132.2,378.3L134.8,377.8L137.5,376.9L140.1,375.7L142.5,373.8L142.8,373.6L145.4,368.9L146.4,366L148,358.2L148.1,357.1L148.6,350.4L148.3,342.6L148.1,339.9L147.5,334.8L145.4,331.6L142.9,326.9L142.8,326.8L140.1,322.8L138.1,319.1L137.5,318.1L134.8,313.4L133.5,311.3L132.2,309.5L129.5,307L126.9,305.4L124.3,304.3L122,303.5L121.6,303.3L119,301.9L116.3,300.3L113.7,298.8L111,297.5L108.4,296.4L107,295.7L105.8,295.1L103.1,293.7L100.5,292.5L97.8,291.4L95.2,290.4L92.5,289.5L89.9,288.6L87.6,287.9L87.3,287.7L84.6,286L82,284.2L79.3,282.7L76.7,281.4L74,280.4L73.1,280.1L71.4,279.4L68.8,278.5L66.1,277.8L63.5,277L60.8,275.9L58.2,274.8L55.5,273.7L52.9,272.6L52.1,272.2L50.3,271.2L47.6,270L45,269.5L42.3,269.7L39.7,270.6L37,272.2L36.3,280.1L36.1,287.9L36.9,295.7L37,296.6L38.1,303.5L39.7,307.2L41.4,311.3L42.3,312.6L45,315.9L47.2,319.1L47.6,319.6L50.3,322.5L52.9,325L55.4,326.9L55.5,327.1L58.2,328.6L60.8,329.9L63.5,331.1L66.1,332.2L68.8,333.4L71.4,334.6L71.6,334.8L74,337L76.7,339.1L79.3,341.1L81.1,342.6L82,343.4L84.6,346L87.3,348.3L89.8,350.4L89.9,350.5L92.5,353.3L95.2,355.8L97.8,358L98,358.2L100.5,361L103.1,363.9L105.2,366L105.8,366.8L108.4,369.7L111,371.7L113.7,373.2L115.1,373.8M125.4,373.8L126.9,374.3L129.5,374.6L132.2,374.3L133.4,373.8L134.8,373.3L137.5,371.5L140.1,368.9L142,366L142.8,364.2L144.6,358.2L145.4,351.8L145.6,350.4L145.4,346.4L145.3,342.6L144.4,334.8L142.8,332L140.4,326.9L140.1,326.5L137.5,321.9L136.1,319.1L134.8,316.8L132.2,312.5L131.2,311.3L129.5,309.6L126.9,307.9L124.3,306.7L121.6,305.6L119,304.5L116.8,303.5L116.3,303.2L113.7,301.5L111,300.1L108.4,298.7L105.8,297.4L103.1,296.1L102.1,295.7L100.5,294.8L97.8,293.7L95.2,292.6L92.5,291.7L89.9,290.8L87.3,289.9L84.6,289L82,288L81.7,287.9L79.3,286.4L76.7,285.1L74,283.9L71.4,282.9L68.8,282.1L66.1,281.6L63.5,281.1L60.8,280.4L59.7,280.1L58.2,279.5L55.5,278.6L52.9,278L50.3,277.8L47.6,278.2L45,279.8L44.7,280.1L42.3,286.9L42.2,287.9L42,295.7L42,303.5L42.3,304.3L45,310.7L45.2,311.3L47.6,314.7L50.2,319.1L50.3,319.1L52.9,322L55.5,324.2L58.2,326.2L59.3,326.9L60.8,327.8L63.5,329.1L66.1,330.3L68.8,331.6L71.4,332.9L74,334.2L75.2,334.8L76.7,336L79.3,338.2L82,340.4L84.5,342.6L84.6,342.7L87.3,345.2L89.9,347.4L92.5,349.6L93.6,350.4L95.2,352L97.8,354.4L100.5,356.8L101.9,358.2L103.1,359.6L105.8,362.5L108.4,364.9L109.6,366L111,367.4L113.7,369.4L116.3,370.9L119,371.8L121.6,372.6L124.3,373.5L125.4,373.8M114.1,366L116.3,367.5L119,368.6L121.6,369.4L124.3,370.2L126.9,370.8L129.5,371.1L132.2,370.6L134.8,369.1L137.5,366.3L137.7,366L140.1,361L141.2,358.2L142.6,350.4L142.3,342.6L141.4,334.8L140.1,332.1L138.2,326.9L137.5,325.7L134.8,320.4L134.2,319.1L132.2,315.7L129.5,312.4L128.3,311.3L126.9,310.3L124.3,309L121.6,307.8L119,306.7L116.3,305.4L113.7,304.1L112.5,303.5L111,302.6L108.4,301.1L105.8,299.7L103.1,298.3L100.5,297.1L97.8,296L97.2,295.7L95.2,294.9L92.5,293.8L89.9,292.9L87.3,292.1L84.6,291.2L82,290.2L79.3,289.3L76.7,288.4L74.9,287.9L74,287.5L71.4,286.4L68.8,285.5L66.1,285.1L63.5,284.9L60.8,284.6L58.2,284.2L55.5,283.7L52.9,283.8L50.3,285.4L48.5,287.9L47.6,290.8L46.5,295.7L45.9,303.5L47.6,307.9L48.8,311.3L50.3,313.7L52.9,318.6L53.1,319.1L55.5,321.4L58.2,323.5L60.8,325.4L63.1,326.9L63.5,327.1L66.1,328.4L68.8,329.8L71.4,331.1L74,332.4L76.7,333.7L78.7,334.8L79.3,335.3L82,337.6L84.6,339.9L87.3,342L87.9,342.6L89.9,344.4L92.5,346.7L95.2,348.8L97.4,350.4L97.8,350.8L100.5,353.3L103.1,355.9L105.6,358.2L105.8,358.4L108.4,360.9L111,363.3L113.7,365.7L114.1,366M121.1,366L121.6,366.1L124.3,366.9L126.9,367.4L129.5,367.7L132.2,367L133.5,366L134.8,364.3L137.5,359.2L137.9,358.2L139.5,350.4L139.3,342.6L138.8,334.8L137.5,331.4L136.1,326.9L134.8,324.3L132.3,319.1L132.2,319L129.5,315.5L126.9,313.1L124.3,311.3L121.6,310.1L119,308.8L116.3,307.4L113.7,306.1L111,304.7L108.4,303.5L105.8,302L103.1,300.6L100.5,299.2L97.8,298.1L95.2,297L92.5,296L91.7,295.7L89.9,295L87.3,294.2L84.6,293.4L82,292.5L79.3,291.6L76.7,290.8L74,290.1L71.4,289.4L68.8,288.8L66.1,288.6L63.5,288.7L60.8,288.8L58.2,289L55.5,289.4L52.9,291.5L51,295.7L50.3,300L49.8,303.5L50.3,304.8L52.3,311.3L52.9,312.5L55.5,317.7L56.2,319.1L58.2,320.8L60.8,322.9L63.5,324.7L66.1,326.4L66.8,326.9L68.8,327.9L71.4,329.3L74,330.6L76.7,331.8L79.3,333.2L81.9,334.8L82,334.8L84.6,337.1L87.3,339.3L89.9,341.5L91.1,342.6L92.5,343.8L95.2,346L97.8,348L100.5,349.9L101,350.4L103.1,352.4L105.8,354.9L108.4,357L109.8,358.2L111,359.3L113.7,361.7L116.3,363.7L119,365.1L121.1,366M114.4,358.2L116.3,359.6L119,360.8L121.6,361.6L124.3,362.4L126.9,363L129.5,363.2L132.2,361.8L134.8,358.2L136.7,350.4L136.6,342.6L136.4,334.8L134.8,329.5L134.1,326.9L132.2,323.2L129.9,319.1L129.5,318.6L126.9,316.1L124.3,314.1L121.6,312.5L119.7,311.3L119,310.9L116.3,309.5L113.7,308L111,306.7L108.4,305.5L105.8,304.2L104.4,303.5L103.1,302.8L100.5,301.4L97.8,300.2L95.2,299.2L92.5,298.2L89.9,297.2L87.3,296.4L85,295.7L84.6,295.6L82,294.7L79.3,293.9L76.7,293.2L74,292.6L71.4,292.1L68.8,291.8L66.1,292L63.5,292.5L60.8,293.3L58.2,294.6L56.7,295.7L55.5,298L53.9,303.5L55.5,309.6L56,311.3L58.2,316L59.3,319.1L60.8,320.3L63.5,322.3L66.1,324L68.8,325.8L70.4,326.9L71.4,327.5L74,328.7L76.7,330L79.3,331.3L82,332.7L84.6,334.4L85.1,334.8L87.3,336.5L89.9,338.7L92.5,341L94.3,342.6L95.2,343.3L97.8,345.3L100.5,347.2L103.1,349.3L104.6,350.4L105.8,351.4L108.4,353.4L111,355.4L113.7,357.6L114.4,358.2M109.2,350.4L111,351.6L113.7,353.5L116.3,355.3L119,356.4L121.6,356.8L124.3,357.3L126.9,357.5L129.5,357.5L132.2,354.8L133.7,350.4L134.1,342.6L134.1,334.8L132.2,327.9L131.9,326.9L129.5,322.9L127,319.1L126.9,319L124.3,316.9L121.6,315.2L119,313.5L116.3,311.6L115.9,311.3L113.7,310L111,308.7L108.4,307.5L105.8,306.3L103.1,305L100.5,303.5L100.4,303.5L97.8,302.4L95.2,301.3L92.5,300.3L89.9,299.4L87.3,298.7L84.6,298L82,297.2L79.3,296.3L77.3,295.7L76.7,295.5L74,295.1L71.4,294.8L68.8,294.8L66.1,295.4L65.1,295.7L63.5,296.8L60.8,299.4L58.4,303.5L60,311.3L60.8,313.5L62.6,319.1L63.5,319.8L66.1,321.6L68.8,323.4L71.4,325.2L74,326.9L76.7,328.1L79.3,329.3L82,330.7L84.6,332.2L87.3,333.9L88.4,334.8L89.9,336L92.5,338.2L95.2,340.4L97.8,342.5L97.9,342.6L100.5,344.5L103.1,346.5L105.8,348.4L108.4,349.9L109.2,350.4M115.6,350.4L116.3,350.8L119,351.5L121.6,351.5L124.3,351.2L126.9,350.5L127.3,350.4L129.5,348.7L131.2,342.6L131.7,334.8L129.5,328.1L129.1,326.9L126.9,323.8L124.3,320.2L123.5,319.1L121.6,317.8L119,316.2L116.3,314.3L113.7,312.3L112.4,311.3L111,310.6L108.4,309.5L105.8,308.4L103.1,307.2L100.5,306L97.8,304.7L95.3,303.5L95.2,303.4L92.5,302.5L89.9,301.6L87.3,300.9L84.6,300.4L82,299.7L79.3,299.1L76.7,298.6L74,298.3L71.4,298.5L68.8,299.3L66.1,301L63.5,303.4L63.4,303.5L63.5,303.8L64.5,311.3L66,319.1L66.1,319.2L68.8,320.9L71.4,322.7L74,324.3L76.7,325.9L78.3,326.9L79.3,327.4L82,328.6L84.6,329.9L87.3,331.4L89.9,333.2L91.7,334.8L92.5,335.4L95.2,337.6L97.8,339.5L100.5,341.6L101.5,342.6L103.1,343.8L105.8,345.6L108.4,347L111,348.2L113.7,349.5L115.6,350.4M105.4,342.6L105.8,342.8L108.4,344.1L111,344.9L113.7,345.8L116.3,346.5L119,346.7L121.6,346.1L124.3,344.8L126.5,342.6L126.9,341.3L128.4,334.8L126.9,330.8L125.5,326.9L124.3,325.4L121.6,322.1L119.5,319.1L119,318.8L116.3,317L113.7,315.2L111,313.2L108.4,311.5L108,311.3L105.8,310.5L103.1,309.5L100.5,308.4L97.8,307.4L95.2,306.4L92.5,305.3L89.9,304.1L88.5,303.5L87.3,303.2L84.6,302.8L82,302.3L79.3,301.9L76.7,301.7L74,301.8L71.4,302.7L70,303.5L69.7,311.3L69.8,319.1L71.4,320.1L74,321.8L76.7,323.2L79.3,324.7L82,326.3L83,326.9L84.6,327.7L87.3,328.9L89.9,330.4L92.5,332.3L95.2,334.7L95.2,334.8L97.8,336.5L100.5,338.4L103.1,340.6L105.4,342.6M99.8,334.8L100.5,335.2L103.1,337L105.8,338.9L108.4,340.3L111,341L113.7,341.6L116.3,341.9L119,341.4L121.6,339.4L124.2,334.8L121.6,328.7L120.7,326.9L119,325.1L116.3,321.3L115.4,319.1L113.7,318L111,316.3L108.4,314.8L105.8,313.5L103.1,312.1L101.8,311.3L100.5,310.9L97.8,310.1L95.2,309.4L92.5,308.7L89.9,308L87.3,307.5L84.6,307.2L82,307L79.3,307.2L76.7,308.4L75,311.3L74,318.4L74,319.1L74,319.2L76.7,320.5L79.3,321.7L82,323L84.6,324.5L87.3,326.1L88.5,326.9L89.9,327.6L92.5,329L95.2,330.8L97.8,332.8L99.8,334.8M105.6,334.8L105.8,334.9L108.4,335.6L111,335.5L113.7,335.1L114.8,334.8L113.7,332.3L112.2,326.9L111,322.2L110.6,319.1L108.4,318.1L105.8,317.1L103.1,316L100.5,314.9L97.8,314.1L95.2,313.4L92.5,312.9L89.9,312.6L87.3,312.7L84.6,313.6L82,316.1L80.4,319.1L82,319.8L84.6,320.9L87.3,321.9L89.9,323L92.5,324.6L95.2,326.7L95.5,326.9L97.8,328L100.5,329.3L103.1,331.3L105.6,334.8" fill="none" stroke="#000" stroke-width="0.7" stroke-linejoin="round"/>
<path d="M34.2,273.6C35.1,272.2 35.2,270.6 37.6,268.2C40,265.8 39.2,265.2 43.1,264.6C47,264 47.3,264.6 52.1,266C56.9,267.4 56.4,268 61.2,270C66,272 64.9,271.9 70.2,273.6C75.5,275.3 75.8,274.6 81.1,276.3C86.4,278 85.9,277.3 90.2,280C94.5,282.7 93.1,282.7 97.4,286.3C101.7,289.9 101.7,290.1 106.5,293.5C111.3,296.9 110.7,296.8 115.5,299C120.3,301.2 120.7,300.5 124.6,301.7C128.5,302.9 126.6,301.3 130,303.6C133.4,305.9 133.5,306 137.3,310.2C141.1,314.4 140.3,314.4 144.2,319.2C148.1,324 149,323.4 152,328.2C155,333 154.6,331.5 155.6,337.3C156.6,343.1 156.1,342.8 155.6,350.1C155.1,357.4 155.3,357.9 153.8,364.8C152.3,371.7 153.5,371.4 150.1,375.8C146.7,380.2 146.4,380 141,381.3C135.6,382.6 135.6,381.2 130,380.6C124.4,380 125.2,380.4 120.1,379.1C115,377.8 115.3,378.1 110.9,375.8C106.5,373.5 107.5,374.2 103.6,370.3C99.7,366.4 100.2,365.7 96.3,361.1C92.4,356.5 93.4,357 89,352.9C84.6,348.8 84.7,349.8 79.8,345.6C74.9,341.4 75.5,342.2 70.6,337.3C65.7,332.4 67.8,332.1 61.5,327.2C55.2,322.3 52.9,324.1 47,319C41.1,313.9 42.8,312.9 39.4,308C36,303.1 35.6,302.7 34.2,300.8" fill="none" stroke="#000" stroke-width="1.6" stroke-linejoin="round" stroke-linecap="round"/>
<path d="M183.6,303.5L187.6,303.5" stroke="#000" stroke-width="1.3" fill="none"/>
<path d="M185.7,350.5L189.7,350.5" stroke="#000" stroke-width="1.3" fill="none"/>
<path d="M42.2,257C43.2,258.8 43.6,260.9 46.7,264.6C49.9,268.3 51.5,268.9 55.7,272.7C59.9,276.5 60.8,277.1 64.8,280.9C68.8,284.7 69.6,284.8 73,289C76.4,293.2 75.7,294.3 79.3,299C82.9,303.7 84.2,304.3 88.3,309C92.4,313.7 92.6,314.1 97,319C101.4,323.9 101.9,324.7 107.3,330C112.7,335.3 115.8,336.3 120.1,341.9C124.4,347.5 123.3,348.9 125.6,353.8C127.9,358.7 126.8,356.6 130,363C133.2,369.4 137.1,377 139.2,381.3" fill="none" stroke="#1a1aff" stroke-width="3" stroke-linejoin="round" stroke-linecap="butt"/>
<rect x="34.4" y="241" width="190.3" height="156.2" fill="none" stroke="#262626" stroke-opacity="0.45" stroke-width="0.5"/>
<text x="30.1" y="401.2" text-anchor="end" font-size="9.6">-10</text>
<text x="30.1" y="385.6" text-anchor="end" font-size="9.6">-8</text>
<text x="30.1" y="370" text-anchor="end" font-size="9.6">-6</text>
<text x="30.1" y="354.4" text-anchor="end" font-size="9.6">-4</text>
<text x="30.1" y="338.8" text-anchor="end" font-size="9.6">-2</text>
<text x="30.1" y="323.1" text-anchor="end" font-size="9.6">0</text>
<text x="30.1" y="307.5" text-anchor="end" font-size="9.6">2</text>
<text x="30.1" y="291.9" text-anchor="end" font-size="9.6">4</text>
<text x="30.1" y="276.2" text-anchor="end" font-size="9.6">6</text>
<text x="30.1" y="260.6" text-anchor="end" font-size="9.6">8</text>
<text x="30.1" y="245" text-anchor="end" font-size="9.6">10</text>
<text x="34.4" y="411.4" text-anchor="middle" font-size="9.6">120°E</text>
<text x="66.1" y="411.4" text-anchor="middle" font-size="9.6">150°E</text>
<text x="97.8" y="411.4" text-anchor="middle" font-size="9.6">180°W</text>
<text x="129.5" y="411.4" text-anchor="middle" font-size="9.6">150°W</text>
<text x="161.3" y="411.4" text-anchor="middle" font-size="9.6">120°W</text>
<text x="193" y="411.4" text-anchor="middle" font-size="9.6">90°W</text>
<text x="224.7" y="411.4" text-anchor="middle" font-size="9.6">60°W</text>
<path d="M34.4,397.2h2M224.7,397.2h-2M34.4,381.6h2M224.7,381.6h-2M34.4,366h2M224.7,366h-2M34.4,350.4h2M224.7,350.4h-2M34.4,334.8h2M224.7,334.8h-2M34.4,319.1h2M224.7,319.1h-2M34.4,303.5h2M224.7,303.5h-2M34.4,287.9h2M224.7,287.9h-2M34.4,272.2h2M224.7,272.2h-2M34.4,256.6h2M224.7,256.6h-2M34.4,241h2M224.7,241h-2M34.4,397.2v-2M34.4,241v2M66.1,397.2v-2M66.1,241v2M97.8,397.2v-2M97.8,241v2M129.5,397.2v-2M129.5,241v2M161.3,397.2v-2M161.3,241v2M193,397.2v-2M193,241v2M224.7,397.2v-2M224.7,241v2" stroke="#262626" stroke-width="0.6" fill="none"/>
<path d="M37.6,397.2v-1.1M37.6,241v1.1M40.7,397.2v-1.1M40.7,241v1.1M43.9,397.2v-1.1M43.9,241v1.1M47.1,397.2v-1.1M47.1,241v1.1M50.3,397.2v-1.1M50.3,241v1.1M53.4,397.2v-1.1M53.4,241v1.1M56.6,397.2v-1.1M56.6,241v1.1M59.8,397.2v-1.1M59.8,241v1.1M62.9,397.2v-1.1M62.9,241v1.1M66.1,397.2v-1.1M66.1,241v1.1M69.3,397.2v-1.1M69.3,241v1.1M72.5,397.2v-1.1M72.5,241v1.1M75.6,397.2v-1.1M75.6,241v1.1M78.8,397.2v-1.1M78.8,241v1.1M82,397.2v-1.1M82,241v1.1M85.1,397.2v-1.1M85.1,241v1.1M88.3,397.2v-1.1M88.3,241v1.1M91.5,397.2v-1.1M91.5,241v1.1M94.7,397.2v-1.1M94.7,241v1.1M97.8,397.2v-1.1M97.8,241v1.1M101,397.2v-1.1M101,241v1.1M104.2,397.2v-1.1M104.2,241v1.1M107.3,397.2v-1.1M107.3,241v1.1M110.5,397.2v-1.1M110.5,241v1.1M113.7,397.2v-1.1M113.7,241v1.1M116.9,397.2v-1.1M116.9,241v1.1M120,397.2v-1.1M120,241v1.1M123.2,397.2v-1.1M123.2,241v1.1M126.4,397.2v-1.1M126.4,241v1.1M129.5,397.2v-1.1M129.5,241v1.1M132.7,397.2v-1.1M132.7,241v1.1M135.9,397.2v-1.1M135.9,241v1.1M139.1,397.2v-1.1M139.1,241v1.1M142.2,397.2v-1.1M142.2,241v1.1M145.4,397.2v-1.1M145.4,241v1.1M148.6,397.2v-1.1M148.6,241v1.1M151.8,397.2v-1.1M151.8,241v1.1M154.9,397.2v-1.1M154.9,241v1.1M158.1,397.2v-1.1M158.1,241v1.1M161.3,397.2v-1.1M161.3,241v1.1M164.4,397.2v-1.1M164.4,241v1.1M167.6,397.2v-1.1M167.6,241v1.1M170.8,397.2v-1.1M170.8,241v1.1M174,397.2v-1.1M174,241v1.1M177.1,397.2v-1.1M177.1,241v1.1M180.3,397.2v-1.1M180.3,241v1.1M183.5,397.2v-1.1M183.5,241v1.1M186.6,397.2v-1.1M186.6,241v1.1M189.8,397.2v-1.1M189.8,241v1.1M193,397.2v-1.1M193,241v1.1M196.2,397.2v-1.1M196.2,241v1.1M199.3,397.2v-1.1M199.3,241v1.1M202.5,397.2v-1.1M202.5,241v1.1M205.7,397.2v-1.1M205.7,241v1.1M208.8,397.2v-1.1M208.8,241v1.1M212,397.2v-1.1M212,241v1.1M215.2,397.2v-1.1M215.2,241v1.1M218.4,397.2v-1.1M218.4,241v1.1M221.5,397.2v-1.1M221.5,241v1.1M224.7,244.9h-1.1M224.7,248.8h-1.1M224.7,252.7h-1.1M224.7,256.6h-1.1M224.7,260.5h-1.1M224.7,264.4h-1.1M224.7,268.3h-1.1M224.7,272.2h-1.1M224.7,276.2h-1.1M224.7,280.1h-1.1M224.7,284h-1.1M224.7,287.9h-1.1M224.7,291.8h-1.1M224.7,295.7h-1.1M224.7,299.6h-1.1M224.7,303.5h-1.1M224.7,307.4h-1.1M224.7,311.3h-1.1M224.7,315.2h-1.1M224.7,319.1h-1.1M224.7,323h-1.1M224.7,326.9h-1.1M224.7,330.8h-1.1M224.7,334.8h-1.1M224.7,338.7h-1.1M224.7,342.6h-1.1M224.7,346.5h-1.1M224.7,350.4h-1.1M224.7,354.3h-1.1M224.7,358.2h-1.1M224.7,362.1h-1.1M224.7,366h-1.1M224.7,369.9h-1.1M224.7,373.8h-1.1M224.7,377.7h-1.1M224.7,381.6h-1.1M224.7,385.5h-1.1M224.7,389.4h-1.1M224.7,393.3h-1.1" stroke="#111" stroke-width="0.8" fill="none"/>
<text x="129.5" y="427.2" text-anchor="middle" font-size="11.8">Longitude</text>
<text transform="translate(9.4,319.1) rotate(-90)" text-anchor="middle" font-size="11.8">Lag (day)</text>
<text x="129.1" y="235.8" text-anchor="middle" font-size="11.85">Z500 for NPO<tspan dx="0.8" dy="-5.2" font-size="8.5">-</tspan><tspan dx="0.8" dy="5.2" font-size="11.85"> (9-yr low pass PDO</tspan><tspan dx="0.8" dy="-5.2" font-size="8.5">+</tspan><tspan dx="0.5" dy="5.2" font-size="11.85">)</tspan></text>
<text x="7.2" y="230.6" font-size="18.6" font-family='"Liberation Sans", Arial, sans-serif' style="stroke-width:0px">(c)</text>
<rect x="242.8" y="263.5" width="18.2" height="122.8" fill="url(#jet)" stroke="#262626" stroke-width="0.4"/>
<text x="264.2" y="389.6" font-size="9.6">-200</text>
<text x="264.2" y="374.2" font-size="9.6">-150</text>
<text x="264.2" y="358.9" font-size="9.6">-100</text>
<text x="264.2" y="343.5" font-size="9.6">-50</text>
<text x="264.2" y="328.2" font-size="9.6">0</text>
<text x="264.2" y="312.8" font-size="9.6">50</text>
<text x="264.2" y="297.5" font-size="9.6">100</text>
<text x="264.2" y="282.1" font-size="9.6">150</text>
<text x="264.2" y="266.8" font-size="9.6">200</text>
<text x="244.9" y="254.1" font-size="9.6">gpm</text>
</g>
<g id="panel-d">
<rect x="332.5" y="241" width="190.9" height="156.2" fill="#008eff"/>
<path d="M332.5,397.2L335.2,397.2L337.8,397.2L340.5,397.2L343.1,397.2L345.8,397.2L348.4,397.2L351.1,397.2L353.7,397.2L356.4,397.2L359,397.2L361.7,397.2L364.3,397.2L367,397.2L369.6,397.2L372.3,397.2L374.9,397.2L377.6,397.2L380.2,397.2L382.9,397.2L385.5,397.2L388.2,397.2L390.8,397.2L393.5,397.2L396.1,397.2L398.8,397.2L401.4,397.2L404.1,397.2L406.7,397.2L409.4,397.2L412,397.2L414.7,397.2L417.3,397.2L420,397.2L422.6,397.2L425.3,397.2L427.9,397.2L430.6,397.2L433.3,397.2L435.9,397.2L438.6,397.2L441.2,397.2L443.9,397.2L446.5,397.2L449.2,397.2L451.8,397.2L454.5,397.2L457.1,397.2L459.8,397.2L462.4,397.2L465.1,397.2L467.7,397.2L470.4,397.2L473,397.2L475.7,397.2L478.3,397.2L481,397.2L483.6,397.2L486.3,397.2L488.9,397.2L491.6,397.2L494.2,397.2L496.9,397.2L499.5,397.2L502.2,397.2L504.8,397.2L507.5,397.2L510.1,397.2L512.8,397.2L515.4,397.2L518.1,397.2L520.7,397.2L523.4,397.2L523.4,389.4L523.4,381.6L523.4,373.8L523.4,366L523.4,358.2L523.4,350.4L523.4,342.6L523.4,334.8L523.4,326.9L523.4,319.1L523.4,311.3L523.4,303.5L523.4,295.7L523.4,287.9L523.4,280.1L523.4,272.2L523.4,264.4L523.4,256.6L523.4,248.8L523.4,241L520.7,241L518.1,241L515.4,241L512.8,241L510.1,241L507.5,241L504.8,241L502.2,241L499.5,241L496.9,241L494.2,241L491.6,241L488.9,241L486.3,241L483.6,241L481,241L478.3,241L475.7,241L473,241L470.4,241L467.7,241L465.1,241L462.4,241L459.8,241L457.1,241L454.5,241L451.8,241L449.2,241L446.5,241L443.9,241L441.2,241L438.6,241L435.9,241L433.3,241L430.6,241L427.9,241L425.3,241L422.6,241L420,241L417.3,241L414.7,241L412,241L409.4,241L406.7,241L404.1,241L401.4,241L398.8,241L396.1,241L393.5,241L390.8,241L388.2,241L385.5,241L382.9,241L380.2,241L377.6,241L374.9,241L372.3,241L369.6,241L367,241L364.3,241L361.7,241L359,241L356.4,241L353.7,241L351.1,241L348.4,241L345.8,241L343.1,241L340.5,241L337.8,241L335.2,241L332.5,241L332.5,248.8L332.5,256.6L332.5,264.4L332.5,272.2L332.5,280.1L332.5,287.9L332.5,295.7L332.5,303.5L332.5,311.3L332.5,319.1L332.5,326.9L332.5,334.8L332.5,342.6L332.5,350.4L332.5,358.2L332.5,366L332.5,373.8L332.5,381.6L332.5,389.4L332.5,397.2ZM465.1,320.6L462.9,319.1L464,311.3L465.1,308.5L467.7,304.5L469.3,303.5L470.4,302.9L473,302.5L475.7,302.3L478.3,302.4L481,302.5L483.6,303.1L484.4,303.5L486.3,306.7L487.9,311.3L488.8,319.1L486.3,321.2L483.6,322.6L481,323.1L478.3,323.1L475.7,322.9L473,322.8L470.4,322.6L467.7,322L465.1,320.6Z" fill="#00b4ff" fill-rule="evenodd"/>
<path d="M332.5,397.2L335.2,397.2L337.8,397.2L340.5,397.2L343.1,397.2L345.8,397.2L348.4,397.2L351.1,397.2L353.7,397.2L356.4,397.2L359,397.2L361.7,397.2L364.3,397.2L367,397.2L369.6,397.2L372.3,397.2L374.9,397.2L377.6,397.2L380.2,397.2L382.9,397.2L385.5,397.2L388.2,397.2L390.8,397.2L393.5,397.2L396.1,397.2L398.8,397.2L401.4,397.2L404.1,397.2L406.7,397.2L409.4,397.2L412,397.2L414.7,397.2L417.3,397.2L420,397.2L422.6,397.2L425.3,397.2L427.9,397.2L430.6,397.2L433.3,397.2L435.9,397.2L438.6,397.2L441.2,397.2L443.9,397.2L446.5,397.2L449.2,397.2L451.8,397.2L454.5,397.2L457.1,397.2L459.8,397.2L462.4,397.2L465.1,397.2L467.7,397.2L470.4,397.2L473,397.2L475.7,397.2L478.3,397.2L481,397.2L483.6,397.2L486.3,397.2L488.9,397.2L491.6,397.2L494.2,397.2L496.9,397.2L499.5,397.2L502.2,397.2L504.8,397.2L507.5,397.2L510.1,397.2L512.8,397.2L515.4,397.2L518.1,397.2L520.7,397.2L523.4,397.2L523.4,389.4L523.4,381.6L523.4,373.8L523.4,366L523.4,358.2L523.4,350.4L523.4,342.6L523.4,334.8L523.4,326.9L523.4,319.1L523.4,311.3L523.4,303.5L523.4,295.7L523.4,287.9L523.4,280.1L523.4,272.2L523.4,264.4L523.4,256.6L523.4,248.8L523.4,241L520.7,241L518.1,241L515.4,241L512.8,241L510.1,241L507.5,241L504.8,241L502.2,241L499.5,241L496.9,241L494.2,241L491.6,241L488.9,241L486.3,241L483.6,241L481,241L478.3,241L475.7,241L473,241L470.4,241L467.7,241L465.1,241L462.4,241L459.8,241L457.1,241L454.5,241L451.8,241L449.2,241L446.5,241L443.9,241L441.2,241L438.6,241L435.9,241L433.3,241L430.6,241L427.9,241L425.3,241L422.6,241L420,241L417.3,241L414.7,241L412,241L409.4,241L406.7,241L404.1,241L401.4,241L398.8,241L396.1,241L393.5,241L390.8,241L388.2,241L385.5,241L382.9,241L380.2,241L377.6,241L374.9,241L372.3,241L369.6,241L367,241L364.3,241L361.7,241L359,241L356.4,241L353.7,241L351.1,241L348.4,241L345.8,241L343.1,241L340.5,241L337.8,241L335.2,241L332.5,241L332.5,248.8L332.5,256.6L332.5,264.4L332.5,272.2L332.5,280.1L332.5,287.9L332.5,295.7L332.5,303.5L332.5,311.3L332.5,319.1L332.5,326.9L332.5,334.8L332.5,342.6L332.5,350.4L332.5,358.2L332.5,366L332.5,373.8L332.5,381.6L332.5,389.4L332.5,397.2ZM478.3,327L477.5,326.9L475.7,326.8L473,326.5L470.4,326.1L467.7,325.4L465.1,324L462.4,322.3L459.8,320.4L458,319.1L457.8,311.3L457.9,303.5L459,295.7L459.8,294.2L462.4,292.1L465.1,291.7L467.7,291.9L470.4,292.4L473,293.4L475.7,294.7L477.9,295.7L478.3,295.9L481,296.8L483.6,297.8L486.3,299.2L488.9,300.9L491.6,302.9L492.3,303.5L493.9,311.3L494.2,316.8L494.4,319.1L494.2,319.3L491.6,321.8L488.9,323.9L486.3,325.6L483.6,326.7L482.1,326.9L481,327.1L478.3,327Z" fill="#00d9ff" fill-rule="evenodd"/>
<path d="M332.5,397.2L335.2,397.2L337.8,397.2L340.5,397.2L343.1,397.2L345.8,397.2L348.4,397.2L351.1,397.2L353.7,397.2L356.4,397.2L359,397.2L361.7,397.2L364.3,397.2L367,397.2L369.6,397.2L372.3,397.2L374.9,397.2L377.6,397.2L380.2,397.2L382.9,397.2L385.5,397.2L388.2,397.2L390.8,397.2L393.5,397.2L396.1,397.2L398.8,397.2L401.4,397.2L404.1,397.2L406.7,397.2L409.4,397.2L412,397.2L414.7,397.2L417.3,397.2L420,397.2L422.6,397.2L425.3,397.2L427.9,397.2L430.6,397.2L433.3,397.2L435.9,397.2L438.6,397.2L441.2,397.2L443.9,397.2L446.5,397.2L449.2,397.2L451.8,397.2L454.5,397.2L457.1,397.2L459.8,397.2L462.4,397.2L465.1,397.2L467.7,397.2L470.4,397.2L473,397.2L475.7,397.2L478.3,397.2L481,397.2L483.6,397.2L486.3,397.2L488.9,397.2L491.6,397.2L494.2,397.2L496.9,397.2L499.5,397.2L502.2,397.2L504.8,397.2L507.5,397.2L510.1,397.2L512.8,397.2L515.4,397.2L518.1,397.2L520.7,397.2L523.4,397.2L523.4,389.4L523.4,381.6L523.4,373.8L523.4,366L523.4,358.2L523.4,350.4L523.4,342.6L523.4,334.8L523.4,326.9L523.4,319.1L523.4,311.3L523.4,303.5L523.4,295.7L523.4,287.9L523.4,280.1L523.4,272.2L523.4,264.4L523.4,256.6L523.4,248.8L523.4,241L520.7,241L518.1,241L515.4,241L512.8,241L510.1,241L507.5,241L504.8,241L502.2,241L499.5,241L496.9,241L494.2,241L491.6,241L488.9,241L486.3,241L483.6,241L481,241L478.3,241L475.7,241L473,241L470.4,241L467.7,241L465.1,241L462.4,241L459.8,241L457.1,241L454.5,241L451.8,241L449.2,241L446.5,241L443.9,241L441.2,241L438.6,241L435.9,241L433.3,241L430.6,241L427.9,241L425.3,241L422.6,241L420,241L417.3,241L414.7,241L412,241L409.4,241L406.7,241L404.1,241L401.4,241L398.8,241L396.1,241L393.5,241L390.8,241L388.2,241L385.5,241L382.9,241L380.2,241L377.6,241L374.9,241L372.3,241L369.6,241L367,241L364.3,241L361.7,241L359,241L356.4,241L353.7,241L351.1,241L348.4,241L345.8,241L343.1,241L340.5,241L337.8,241L335.2,241L332.5,241L332.5,248.8L332.5,256.6L332.5,264.4L332.5,272.2L332.5,280.1L332.5,287.9L332.5,295.7L332.5,303.5L332.5,311.3L332.5,319.1L332.5,326.9L332.5,334.8L332.5,342.6L332.5,350.4L332.5,358.2L332.5,366L332.5,373.8L332.5,381.6L332.5,389.4L332.5,397.2ZM465.1,327.3L464.3,326.9L462.4,325.7L459.8,323.8L457.1,321.9L454.5,319.7L453.8,319.1L451.8,312.4L451.4,311.3L449.2,305.5L448,303.5L446.5,301.4L443.9,298.5L441.2,296.4L440.3,295.7L438.6,293.6L435.9,289L435.4,287.9L435.9,284.4L438.2,280.1L438.6,279.8L441.2,279.5L443.9,279.4L446.5,279.4L449.2,279.6L451.8,279.8L454.5,280L455.3,280.1L457.1,280.4L459.8,281.2L462.4,282.1L465.1,283.1L467.7,284.1L470.4,285L473,286.4L474.9,287.9L475.7,288.6L478.3,290.6L481,291.9L483.6,293L486.3,294.1L488.9,295.4L489.6,295.7L491.6,297L494.2,298.9L496.9,301.6L498.3,303.5L499,311.3L499.3,319.1L496.9,322.6L494.2,325.3L492,326.9L491.6,327.2L488.9,328.6L486.3,329.6L483.6,330.3L481,330.6L478.3,330.4L475.7,330.1L473,329.6L470.4,329.2L467.7,328.5L465.1,327.3Z" fill="#00ffff" fill-rule="evenodd"/>
<path d="M332.5,397.2L335.2,397.2L337.8,397.2L340.5,397.2L343.1,397.2L345.8,397.2L348.4,397.2L351.1,397.2L353.7,397.2L356.4,397.2L359,397.2L361.7,397.2L364.3,397.2L367,397.2L369.6,397.2L372.3,397.2L374.9,397.2L377.6,397.2L380.2,397.2L382.9,397.2L385.5,397.2L388.2,397.2L390.8,397.2L393.5,397.2L396.1,397.2L398.8,397.2L401.4,397.2L404.1,397.2L406.7,397.2L409.4,397.2L412,397.2L414.7,397.2L417.3,397.2L420,397.2L422.6,397.2L425.3,397.2L427.9,397.2L430.6,397.2L433.3,397.2L435.9,397.2L438.6,397.2L441.2,397.2L443.9,397.2L446.5,397.2L449.2,397.2L451.8,397.2L454.5,397.2L457.1,397.2L459.8,397.2L462.4,397.2L465.1,397.2L467.7,397.2L470.4,397.2L473,397.2L475.7,397.2L478.3,397.2L481,397.2L483.6,397.2L486.3,397.2L488.9,397.2L491.6,397.2L494.2,397.2L496.9,397.2L499.5,397.2L502.2,397.2L504.8,397.2L507.5,397.2L510.1,397.2L512.8,397.2L515.4,397.2L518.1,397.2L520.7,397.2L523.4,397.2L523.4,389.4L523.4,381.6L523.4,373.8L523.4,366L523.4,358.2L523.4,350.4L523.4,342.6L523.4,334.8L523.4,326.9L523.4,319.1L523.4,311.3L523.4,303.5L523.4,295.7L523.4,287.9L523.4,280.1L523.4,272.2L523.4,264.4L523.4,256.6L523.4,248.8L523.4,241L520.7,241L518.1,241L515.4,241L512.8,241L510.1,241L507.5,241L504.8,241L502.2,241L499.5,241L496.9,241L494.2,241L491.6,241L488.9,241L486.3,241L483.6,241L481,241L478.3,241L475.7,241L473,241L470.4,241L467.7,241L465.1,241L462.4,241L459.8,241L457.1,241L454.5,241L451.8,241L449.2,241L446.5,241L443.9,241L441.2,241L438.6,241L435.9,241L433.3,241L430.6,241L427.9,241L425.3,241L422.6,241L420,241L417.3,241L414.7,241L412,241L409.4,241L406.7,241L404.1,241L401.4,241L398.8,241L396.1,241L393.5,241L390.8,241L388.2,241L385.5,241L382.9,241L380.2,241L377.6,241L374.9,241L372.3,241L369.6,241L367,241L364.3,241L361.7,241L359,241L356.4,241L353.7,241L351.1,241L348.4,241L345.8,241L343.1,241L340.5,241L337.8,241L335.2,241L332.5,241L332.5,248.8L332.5,256.6L332.5,264.4L332.5,272.2L332.5,280.1L332.5,287.9L332.5,295.7L332.5,303.5L332.5,311.3L332.5,319.1L332.5,326.9L332.5,334.8L332.5,342.6L332.5,350.4L332.5,358.2L332.5,366L332.5,373.8L332.5,381.6L332.5,389.4L332.5,397.2ZM459.8,327.2L459.3,326.9L457.1,325.3L454.5,322.9L451.8,320.6L450.3,319.1L449.2,316.2L446.7,311.3L446.5,310.9L443.9,306.3L441.2,303.5L438.6,300.4L435.9,296.9L435.2,295.7L433.3,291.1L431.7,287.9L430.6,283.7L427.9,280.6L427.4,280.1L425.3,276.7L423.6,272.2L425.3,268.9L428,267.2L430.6,267.7L433.3,268.8L435.9,270.4L438.6,271.4L441.2,272L442.4,272.2L443.9,272.6L446.5,273.1L449.2,273.5L451.8,273.9L454.5,274.3L457.1,274.7L459.8,275.3L462.4,276.1L465.1,277L467.7,278.1L470.4,279.2L471.9,280.1L473,280.7L475.7,282.6L478.3,284.8L481,287L482.2,287.9L483.6,288.6L486.3,289.7L488.9,290.9L491.6,292L494.2,293.2L496.9,294.7L498.4,295.7L499.5,296.8L502.2,300.2L504.1,303.5L504.8,311.3L504.8,313.2L505,319.1L504.8,319.5L502.2,323.8L499.7,326.9L499.5,327.1L496.9,329.3L494.2,331L491.6,332.1L488.9,332.9L486.3,333.5L483.6,333.9L481,334L478.3,333.8L475.7,333.3L473,332.7L470.4,332.1L467.7,331.3L465.1,330.2L462.4,328.8L459.8,327.2Z" fill="#25ffda" fill-rule="evenodd"/>
<path d="M332.5,397.2L335.2,397.2L337.8,397.2L340.5,397.2L343.1,397.2L345.8,397.2L348.4,397.2L351.1,397.2L353.7,397.2L356.4,397.2L359,397.2L361.7,397.2L364.3,397.2L367,397.2L369.6,397.2L372.3,397.2L374.9,397.2L377.6,397.2L380.2,397.2L382.9,397.2L385.5,397.2L388.2,397.2L390.8,397.2L393.5,397.2L396.1,397.2L398.8,397.2L401.4,397.2L404.1,397.2L406.7,397.2L409.4,397.2L412,397.2L414.7,397.2L417.3,397.2L420,397.2L422.6,397.2L425.3,397.2L427.9,397.2L430.6,397.2L433.3,397.2L435.9,397.2L438.6,397.2L441.2,397.2L443.9,397.2L446.5,397.2L449.2,397.2L451.8,397.2L454.5,397.2L457.1,397.2L459.8,397.2L462.4,397.2L465.1,397.2L467.7,397.2L470.4,397.2L473,397.2L475.7,397.2L478.3,397.2L481,397.2L483.6,397.2L486.3,397.2L488.9,397.2L491.6,397.2L494.2,397.2L496.9,397.2L499.5,397.2L502.2,397.2L504.8,397.2L507.5,397.2L510.1,397.2L512.8,397.2L515.4,397.2L518.1,397.2L520.7,397.2L523.4,397.2L523.4,389.4L523.4,381.6L523.4,373.8L523.4,366L523.4,358.2L523.4,350.4L523.4,342.6L523.4,334.8L523.4,326.9L523.4,319.1L523.4,311.3L523.4,303.5L523.4,295.7L523.4,287.9L523.4,280.1L523.4,272.2L523.4,264.4L523.4,256.6L523.4,248.8L523.4,241L520.7,241L518.1,241L515.4,241L512.8,241L510.1,241L507.5,241L504.8,241L502.2,241L499.5,241L496.9,241L494.2,241L491.6,241L488.9,241L486.3,241L483.6,241L481,241L478.3,241L475.7,241L473,241L470.4,241L467.7,241L465.1,241L462.4,241L459.8,241L457.1,241L454.5,241L451.8,241L449.2,241L446.5,241L443.9,241L441.2,241L438.6,241L435.9,241L433.3,241L430.6,241L427.9,241L425.3,241L422.6,241L420,241L417.3,241L414.7,241L412,241L409.4,241L406.7,241L404.1,241L401.4,241L398.8,241L396.1,241L393.5,241L390.8,241L388.2,241L385.5,241L382.9,241L380.2,241L377.6,241L374.9,241L372.3,241L369.6,241L367,241L364.3,241L361.7,241L359,241L356.4,241L353.7,241L351.1,241L348.4,241L345.8,241L343.1,241L340.5,241L337.8,241L335.2,241L332.5,241L332.5,248.8L332.5,256.6L332.5,264.4L332.5,272.2L332.5,280.1L332.5,287.9L332.5,295.7L332.5,303.5L332.5,311.3L332.5,319.1L332.5,326.9L332.5,334.8L332.5,342.6L332.5,350.4L332.5,358.2L332.5,366L332.5,373.8L332.5,381.6L332.5,389.4L332.5,397.2ZM478.3,350.6L478.2,350.4L475.7,344.8L474.9,342.6L473,339.6L470.4,336.1L469.4,334.8L467.7,334.2L465.1,333L462.4,331.7L459.8,330.1L457.1,328.4L455.3,326.9L454.5,326.1L451.8,323.6L449.2,321.1L447.4,319.1L446.5,317.2L443.9,312.3L443.2,311.3L441.2,308.3L438.6,305.2L437.2,303.5L435.9,301.4L433.3,297L432.5,295.7L430.6,291.4L428,287.9L427.9,287.7L425.3,284.3L422.6,281L422,280.1L420,273.5L419.6,272.2L420,271L422.3,264.4L422.6,263.9L425.3,261.4L427.9,260.6L430.6,261L433.3,261.8L435.9,263.4L438.2,264.4L438.6,264.6L441.2,265.4L443.9,266.1L446.5,266.7L449.2,267.3L451.8,267.9L454.5,268.5L457.1,269.1L459.8,269.6L462.4,270.4L465.1,271.4L467,272.2L467.7,272.5L470.4,273.6L473,274.7L475.7,276.1L478.3,278L480.7,280.1L481,280.2L483.6,282L486.3,283.7L488.9,285.4L491.6,287L493.1,287.9L494.2,288.3L496.9,289.2L499.5,290.4L502.2,291.8L504.8,294.1L506.3,295.7L507.5,298L510.1,303.2L510.3,303.5L511.9,311.3L512.5,319.1L510.1,323.3L508.1,326.9L507.5,327.7L504.8,330.7L502.2,332.8L499.5,334.4L498.9,334.8L496.9,341.9L496.7,342.6L494.8,350.4L494.2,351L491.6,352.2L488.9,352.2L486.3,352.2L483.6,352.2L481,352.2L478.3,350.6Z" fill="#4bffb4" fill-rule="evenodd"/>
<path d="M332.5,397.2L335.2,397.2L337.8,397.2L339.7,397.2L337.8,396.2L335.2,394.9L332.5,393.8L332.5,397.2ZM371.9,389.4L372.3,392L372.9,397.2L374.9,397.2L377.6,397.2L380.2,397.2L382.9,397.2L385.5,397.2L388.2,397.2L390.8,397.2L393.5,397.2L396.1,397.2L398.8,397.2L401.4,397.2L404.1,397.2L406.7,397.2L409.4,397.2L412,397.2L414.7,397.2L417.3,397.2L420,397.2L422.6,397.2L425.3,397.2L427.9,397.2L430.6,397.2L433.3,397.2L435.9,397.2L438.6,397.2L441.2,397.2L443.9,397.2L446.5,397.2L449.2,397.2L451.8,397.2L454.5,397.2L457.1,397.2L459.8,397.2L462.4,397.2L465.1,397.2L467.7,397.2L470.4,397.2L473,397.2L475.7,397.2L478.3,397.2L481,397.2L483.6,397.2L486.3,397.2L488.9,397.2L491.6,397.2L494.2,397.2L496.9,397.2L499.5,397.2L502.2,397.2L504.8,397.2L507.5,397.2L510.1,397.2L512.8,397.2L515.4,397.2L518.1,397.2L520.7,397.2L523.4,397.2L523.4,389.4L523.4,381.6L523.4,373.8L523.4,366L523.4,358.2L523.4,350.4L523.4,342.6L523.4,334.8L523.4,330.4L520.7,331.3L518.1,332.8L515.4,334.5L515.1,334.8L512.8,337.9L510.6,342.6L510.1,345.2L509.2,350.4L510.1,356.4L510.6,358.2L512.8,361.7L515.4,365.8L515.5,366L515.4,366.4L512.8,372.4L510.1,372.4L507.5,372.3L504.8,371.3L502.2,370.9L499.5,370.2L496.9,369.2L494.2,368.5L491.6,368.1L488.9,367.8L486.3,367.6L483.6,367.4L481,367.4L478.3,367L476,366L475.7,365.8L473,362.6L471.3,358.2L470.4,354.5L469.7,350.4L467.7,344.7L467.1,342.6L465.1,339.1L462.8,334.8L462.4,334.5L459.8,333L457.1,331.3L454.5,329.2L452.1,326.9L451.8,326.7L449.2,324.1L446.5,321.2L444.9,319.1L443.9,317L441.2,312.7L440.2,311.3L438.6,309L435.9,305.3L434.8,303.5L433.3,300.8L430.6,296.3L430.1,295.7L427.9,292.2L425.3,289.5L423.5,287.9L422.6,286.8L420,283.3L417.8,280.1L417.3,278.5L415.5,272.2L417.2,264.4L417.3,264.1L420,259.4L422.6,256.7L422.8,256.6L425.3,254.4L427.9,253.7L430.6,254.4L433.3,255.9L434.4,256.6L435.9,257.3L438.6,258.2L441.2,258.9L443.9,259.5L446.5,260.1L449.2,260.7L451.8,261.4L454.5,262.3L457.1,263.1L459.8,263.7L462.4,264.3L462.8,264.4L465.1,265L467.7,265.7L470.4,266.4L473,267.2L475.7,268.2L478.3,269.4L481,271.1L482.3,272.2L483.6,273.1L486.3,275L488.9,277L491.6,278.8L493.8,280.1L494.2,280.2L496.9,281.2L499.5,282.2L502.2,283.5L504.8,285.3L507.5,287.8L507.6,287.9L510.1,289.8L512.8,291.1L515.4,291.5L518.1,291.9L520.7,292.2L523.4,292.2L523.4,287.9L523.4,280.1L523.4,272.2L523.4,264.4L523.4,256.6L523.4,248.8L523.4,241L520.7,241L518.1,241L515.4,241L512.8,241L510.1,241L507.5,241L504.8,241L502.2,241L499.5,241L496.9,241L494.2,241L491.6,241L488.9,241L486.3,241L483.6,241L481,241L478.3,241L475.7,241L473,241L470.4,241L467.7,241L465.1,241L462.4,241L459.8,241L457.1,241L454.5,241L451.8,241L449.2,241L446.5,241L443.9,241L441.2,241L438.6,241L435.9,241L433.3,241L430.6,241L427.9,241L425.3,241L422.6,241L420,241L417.3,241L414.7,241L412,241L409.4,241L406.7,241L404.1,241L401.4,241L398.8,241L396.1,241L393.5,241L390.8,241L388.2,241L385.5,241L382.9,241L380.2,241L377.6,241L374.9,241L372.3,241L369.6,241L367,241L364.3,241L361.7,241L359,241L356.4,241L353.7,241L351.1,241L348.4,241L345.8,241L343.1,241L340.5,241L337.8,241L335.2,241L332.5,241L332.5,248.8L332.5,256.6L332.5,264.4L332.5,272.2L332.5,280.1L332.5,287.9L332.5,295.7L332.5,303.5L332.5,311.3L332.5,319.1L332.5,326.9L332.5,334.8L332.5,342.6L332.5,349.7L335.2,349.8L337.8,350.1L339.2,350.4L340.5,350.9L343.1,352.2L345.8,354.3L348.4,356.8L349.9,358.2L351.1,359.6L353.7,362.2L356.4,364L359,365.7L359.4,366L361.7,369.3L364.3,372.4L365.4,373.8L367,377L369.6,381.1L370,381.6L371.9,389.4Z" fill="#70ff8f" fill-rule="evenodd"/>
<path d="M381.6,389.4L382.9,395.4L383.4,397.2L385.5,397.2L388.2,397.2L390.8,397.2L393.5,397.2L396.1,397.2L398.8,397.2L401.4,397.2L404.1,397.2L406.7,397.2L409.4,397.2L412,397.2L414.7,397.2L417.3,397.2L420,397.2L422.6,397.2L425.3,397.2L427.9,397.2L430.6,397.2L433.3,397.2L435.9,397.2L438.6,397.2L441.2,397.2L443.9,397.2L446.5,397.2L449.2,397.2L451.8,397.2L454.5,397.2L457.1,397.2L459.8,397.2L462.4,397.2L465.1,397.2L467.7,397.2L470.4,397.2L473,397.2L475.7,397.2L478.3,397.2L481,397.2L483.6,397.2L486.3,397.2L488.9,397.2L491.6,397.2L494.2,397.2L496.9,397.2L499.5,397.2L502.2,397.2L504.8,397.2L507.5,397.2L509.1,397.2L507.5,396.4L504.8,394.9L502.2,393.9L499.5,392.9L496.9,391.5L494.2,390L493,389.4L491.6,388.6L488.9,387.2L486.3,385.4L483.6,383.9L481,383.2L478.3,383.3L475.7,383.6L473,384L470.4,384.4L467.7,382.1L467.6,381.6L465.1,375.4L464.7,373.8L463.7,366L463.4,358.2L463.1,350.4L462.4,347.5L461.4,342.6L459.8,339.2L457.9,334.8L457.1,334.3L454.5,332.2L451.8,329.9L449.2,327.1L449.1,326.9L446.5,324.1L443.9,320.8L442.7,319.1L441.2,316.5L438.6,312.6L437.7,311.3L435.9,308.7L433.3,304.4L432.7,303.5L430.6,299.8L427.9,296.4L427.1,295.7L425.3,293.8L422.6,291.4L420,289L418.6,287.9L417.3,286.1L414.7,282.3L413.3,280.1L412,275.2L411.3,272.2L412,266.4L412.3,264.4L414.2,256.6L414.7,254.2L416.9,248.8L417.3,247.9L420,244.9L422.6,243.1L425.3,242.2L427.9,241.8L430.6,243.5L433.3,246.6L435.6,248.8L435.9,249.1L438.6,250.3L441.2,250.8L443.9,251.4L446.5,251.9L449.2,252.5L451.8,253.3L454.5,254.2L457.1,255.1L459.8,255.4L462.4,255.2L465.1,254.9L467.7,254.5L470.4,254.2L473,254.2L475.7,254.2L478.3,254.2L481,254.1L483.6,255.2L484.7,256.6L486.3,258L488.9,261.7L490.7,264.4L491.6,265.2L494.2,266.8L496.9,268L499.5,269.3L502.2,270.8L504.1,272.2L504.8,272.6L507.5,274.3L510.1,275.9L512.8,276.5L515.4,276.3L518.1,276.2L520.7,276L523.4,275.9L523.4,272.2L523.4,264.4L523.4,256.6L523.4,248.8L523.4,241L520.7,241L518.1,241L515.4,241L512.8,241L510.1,241L507.5,241L504.8,241L502.2,241L499.5,241L496.9,241L494.2,241L491.6,241L488.9,241L486.3,241L483.6,241L481,241L478.3,241L475.7,241L473,241L470.4,241L467.7,241L465.1,241L462.4,241L459.8,241L457.1,241L454.5,241L451.8,241L449.2,241L446.5,241L443.9,241L441.2,241L438.6,241L435.9,241L433.3,241L430.6,241L427.9,241L425.3,241L422.6,241L420,241L417.3,241L414.7,241L412,241L409.4,241L406.7,241L404.1,241L401.4,241L398.8,241L396.1,241L393.5,241L390.8,241L388.2,241L385.5,241L382.9,241L380.2,241L377.6,241L374.9,241L372.3,241L369.6,241L367,241L364.3,241L363.6,241L361.7,242.6L359,244.4L356.4,245.5L353.7,246L351.1,245.8L348.4,245.5L345.8,244.9L343.1,244.3L340.5,243.5L337.8,242.2L336,241L335.2,241L332.5,241L332.5,248.8L332.5,256.6L332.5,264.4L332.5,272.2L332.5,280.1L332.5,287.9L332.5,295.7L332.5,303.5L332.5,311.3L332.5,319.1L332.5,326.9L332.5,334.8L332.5,342.1L335.2,342.5L335.5,342.6L337.8,343.1L340.5,343.8L343.1,344.6L345.8,345.7L348.4,347.5L351.1,349.8L351.6,350.4L353.7,352.5L356.4,354.8L359,356.8L360.9,358.2L361.7,358.9L364.3,361.1L367,363.6L368.8,366L369.6,367.4L372.3,371.2L374.8,373.8L374.9,374L377.6,378L379.4,381.6L380.2,384.6L381.6,389.4ZM522.6,358.2L523.4,362.6L523.4,358.2L523.4,350.4L523.4,345.3L521,350.4L522.6,358.2Z" fill="#96ff69" fill-rule="evenodd"/>
<path d="M389.3,389.4L390.8,395.6L391.2,397.2L393.5,397.2L396.1,397.2L398.8,397.2L401.4,397.2L404.1,397.2L406.7,397.2L409.4,397.2L412,397.2L414.7,397.2L417.3,397.2L420,397.2L422.6,397.2L425.3,397.2L427.9,397.2L430.6,397.2L433.3,397.2L435.9,397.2L438.6,397.2L441.2,397.2L443.9,397.2L446.5,397.2L449.2,397.2L451.8,397.2L454.5,397.2L455,397.2L455.6,389.4L456.3,381.6L457,373.8L457.1,372.1L457.5,366L457.7,358.2L457.8,350.4L457.1,346.6L456.5,342.6L454.5,336.9L453.8,334.8L451.8,333L449.2,330.4L446.5,327.2L446.4,326.9L443.9,323.8L441.2,320.1L440.6,319.1L438.6,315.9L435.9,312L435.5,311.3L433.3,307.6L430.7,303.5L430.6,303.4L427.9,299.8L425.3,297.5L422.7,295.7L422.6,295.6L420,293.3L417.3,291L414.7,288.7L413.7,287.9L412,285.5L409.4,281.2L408.6,280.1L406.7,273.3L406.4,272.2L406.1,264.4L405.4,256.6L404.1,254.1L401.4,251.4L398.8,249.3L398.2,248.8L396.1,245.1L394,241L393.5,241L390.8,241L388.2,241L385.5,241L382.9,241L380.2,241L380.1,241L377.6,244.3L374.9,246.7L372.3,248.3L371.3,248.8L369.6,249.4L367,250.2L364.3,250.8L361.7,251.4L359,252L356.4,252.4L353.7,252.5L351.1,252.5L348.4,252.4L345.8,252.2L343.1,252L340.5,251.8L337.8,251.4L335.2,250.9L332.5,250.2L332.5,256.6L332.5,264.4L332.5,272.2L332.5,280.1L332.5,287.9L332.5,295.7L332.5,303.5L332.5,311.3L332.5,319.1L332.5,326.9L332.5,334.8L332.5,336.4L335.2,337.2L337.8,337.9L340.5,338.6L343.1,339.3L345.8,340.1L348.4,341.2L351,342.6L351.1,342.6L353.7,344.8L356.4,347.2L359,350L359.4,350.4L361.7,352.3L364.3,354.3L367,356.1L369.4,358.2L369.6,358.5L372.3,361.9L374.9,365.4L375.4,366L377.6,368L380.2,370.9L382.4,373.8L382.9,374.9L385.5,380.6L386,381.6L388.2,386.7L389.3,389.4ZM519.1,264.4L520.7,265.4L523.4,266.6L523.4,264.4L523.4,256.6L523.4,248.8L523.4,241L520.7,241L518.1,241L515.4,241L512.8,241L510.1,241L507.5,241L504.8,241L503.5,241L504.8,244L507.5,248.2L508,248.8L510.1,251L512.8,254.5L513.7,256.6L515.4,259.2L518.1,263.2L519.1,264.4Z" fill="#bcff43" fill-rule="evenodd"/>
<path d="M398.7,389.4L398.8,390.3L399.7,397.2L401.4,397.2L404.1,397.2L406.7,397.2L409.4,397.2L412,397.2L414.7,397.2L417.3,397.2L420,397.2L422.6,397.2L425.3,397.2L427.9,397.2L430.6,397.2L433.3,397.2L435.9,397.2L438.6,397.2L441.2,397.2L443.9,397.2L445.5,397.2L446.5,390.6L446.7,389.4L448.8,381.6L449.2,380.8L451.1,373.8L451.8,370.4L452.5,366L453.1,358.2L453.3,350.4L452.3,342.6L451.8,340.9L450.2,334.8L449.2,333.7L446.5,330.8L443.9,326.9L441.2,323.3L438.6,319.2L438.5,319.1L435.9,315.1L433.6,311.3L433.3,310.7L430.6,306.4L428.2,303.5L427.9,303.2L425.3,300.8L422.6,298.8L420,297.1L417.8,295.7L417.3,295.2L414.7,292.8L412,290.6L409.4,288.6L408.4,287.9L406.7,285.4L404.1,281.4L403.2,280.1L401.4,275.7L399.6,272.2L398.8,270.8L396.1,268.3L393.5,267L390.8,265.9L388.2,264.9L386.4,264.4L385.5,264.1L382.9,263.2L380.2,262.2L377.6,261.4L374.9,260.9L372.3,260.6L369.6,260.4L367,260.2L364.3,260L361.7,259.7L359,259.5L356.4,259.3L353.7,259.3L351.1,259.3L348.4,259.3L345.8,259.2L343.1,259.2L340.5,259.3L337.8,259.3L335.2,259.5L332.5,259.7L332.5,264.4L332.5,272.2L332.5,280.1L332.5,287.9L332.5,295.7L332.5,303.5L332.5,311.3L332.5,319.1L332.5,326.9L332.5,329.9L335.2,331.2L337.8,332.5L340.5,333.6L343.1,334.6L343.7,334.8L345.8,335.3L348.4,336.2L351.1,337.2L353.7,338.5L356.4,340L359,341.8L360,342.6L361.7,344.3L364.3,347.1L367,349.5L368.2,350.4L369.6,351.3L372.3,353.3L374.9,355.8L377.6,358.1L377.7,358.2L380.2,360.6L382.9,363.2L385.5,365.6L385.9,366L388.2,368.8L390.8,372L392.4,373.8L393.5,375.7L396.1,380.8L396.5,381.6L398.7,389.4Z" fill="#e1ff1e" fill-rule="evenodd"/>
<path d="M411,397.2L412,397.2L414.7,397.2L417.3,397.2L420,397.2L422.6,397.2L425.3,397.2L427.9,397.2L430.6,397.2L432.7,397.2L433.3,396.1L435.2,389.4L435.9,388.1L438.4,381.6L438.6,381.4L441.2,377.5L443.2,373.8L443.9,372.8L446.5,367.2L446.9,366L448.5,358.2L449.1,350.4L448.3,342.6L446.7,334.8L446.5,334.5L443.9,331.1L441.6,326.9L441.2,326.5L438.6,322.5L436.5,319.1L435.9,318.2L433.3,313.8L431.7,311.3L430.6,309.5L427.9,306.1L425.3,303.9L424.6,303.5L422.6,302L420,300.2L417.3,298.4L414.7,296.6L413.3,295.7L412,294.6L409.4,292.4L406.7,290.4L404.1,288.7L402.4,287.9L401.4,286.5L398.8,283L396.1,280.3L395.8,280.1L393.5,277.9L390.8,276.4L388.2,275.3L385.5,274.3L382.9,273.3L380.2,272.3L380,272.2L377.6,270.8L374.9,269.8L372.3,269.1L369.6,268.6L367,268.2L364.3,267.8L361.7,267.3L359,266.7L356.4,266.3L353.7,266.1L351.1,266.1L348.4,266L345.8,266L343.1,266L340.5,266.1L337.8,266.4L335.2,266.8L332.5,267.4L332.5,272.2L332.5,280.1L332.5,287.9L332.5,295.7L332.5,303.5L332.5,311.3L332.5,319.1L332.5,322.6L335.2,324.5L337.8,326.5L338.4,326.9L340.5,328.2L343.1,329.7L345.8,330.9L348.4,332L351.1,332.9L353.7,333.6L356.4,334.3L358.1,334.8L359,335.2L361.7,337.1L364.3,339.3L367,341.7L368,342.6L369.6,344.2L372.3,346.4L374.9,348.4L377.6,350.1L378.2,350.4L380.2,352.2L382.9,354.6L385.5,356.8L387.1,358.2L388.2,359.4L390.8,362.1L393.5,364.2L396.1,365.9L396.3,366L398.8,369.8L401.4,373.6L401.6,373.8L404.1,378.5L406.7,381.4L407.2,381.6L409.4,385.8L410.5,389.4L411,397.2Z" fill="#fff700" fill-rule="evenodd"/>
<path d="M411.1,373.8L412,374.6L414.7,376.2L417.3,377.3L420,378.4L422.6,379.6L425.3,380.5L427.9,380.9L430.6,380.3L433.3,378.4L435.9,374.3L436.2,373.8L438.6,369.4L440.4,366L441.2,364.4L443.7,358.2L443.9,357.2L444.9,350.4L444.4,342.6L443.9,338.4L443.5,334.8L441.2,331.1L439.3,326.9L438.6,325.8L435.9,321.5L434.6,319.1L433.3,316.9L430.6,312.6L429.7,311.3L427.9,309L425.3,306.6L422.6,304.8L420.2,303.5L420,303.3L417.3,301.4L414.7,299.5L412,297.7L409.4,296.1L408.7,295.7L406.7,294.1L404.1,292.1L401.4,290.5L398.8,289.1L396.1,287.9L393.5,284.8L390.8,282.7L388.2,281.3L385.5,280.1L385.4,280.1L382.9,278.5L380.2,277L377.6,275.8L374.9,275L372.3,274.5L369.6,274.1L367,273.7L364.3,273.4L361.7,273.1L359,272.7L356.4,272.4L353.7,272.2L351.1,272.2L348.4,272.2L345.8,272.2L343.1,272.2L340.5,272.4L337.8,272.8L335.2,273.4L332.5,274.3L332.5,280.1L332.5,287.9L332.5,295.7L332.5,303.5L332.5,311.3L332.5,314.4L335.2,317.3L336.9,319.1L337.8,320L340.5,322.4L343.1,324.6L345.8,326.5L346.4,326.9L348.4,328.1L351.1,329.4L353.7,330.5L356.4,331.5L359,332.3L361.7,333.1L364.3,334L366.3,334.8L367,335.4L369.6,338.4L372.3,340.8L374.6,342.6L374.9,342.9L377.6,345.2L380.2,347.2L382.9,348.9L385.5,350.4L388.2,353.4L390.8,356.1L393.4,358.2L393.5,358.2L396.1,360.7L398.8,362.9L401.4,365L402.8,366L404.1,367.8L406.7,370.9L409.4,372.9L411.1,373.8Z" fill="#ffd200" fill-rule="evenodd"/>
<path d="M422.3,373.8L422.6,374L425.3,375.1L427.9,375.7L430.6,374.8L431.5,373.8L433.3,371.9L435.9,366.7L436.2,366L438.6,359.9L439.3,358.2L441,350.4L440.8,342.6L440.5,334.8L438.6,330.7L437.2,326.9L435.9,324.9L433.3,320.1L432.7,319.1L430.6,315.7L428,311.9L427.4,311.3L425.3,309.2L422.6,307.2L420,305.6L417.3,304.2L416.1,303.5L414.7,302.4L412,300.5L409.4,298.7L406.7,297.1L404.4,295.7L404.1,295.4L401.4,293.5L398.8,291.9L396.1,290.5L393.5,289.1L390.9,287.9L390.8,287.8L388.2,285.6L385.5,283.9L382.9,282.5L380.2,281.2L377.6,280.1L377.5,280.1L374.9,279L372.3,278.3L369.6,277.7L367,277.2L364.3,276.8L361.7,276.5L359,276.2L356.4,276L353.7,275.9L351.1,275.9L348.4,276.1L345.8,276.2L343.1,276.4L340.5,277L337.8,277.8L335.2,278.9L333.1,280.1L332.5,280.7L332.5,287.9L332.5,295.7L332.5,303.5L332.5,303.7L335.2,308.8L336.4,311.3L337.8,313L340.5,316.3L343,319.1L343.1,319.2L345.8,321.8L348.4,324L351.1,325.9L352.8,326.9L353.7,327.4L356.4,328.6L359,329.7L361.7,330.7L364.3,331.7L367,332.8L369.6,334.1L370.9,334.8L372.3,336.3L374.9,338.8L377.6,341L379.7,342.6L380.2,343L382.9,345.2L385.5,347.1L388.2,349L389.9,350.4L390.8,351.5L393.5,354.3L396.1,356.4L398.7,358.2L398.8,358.3L401.4,360.8L404.1,362.9L406.7,364.8L408.3,366L409.4,367.2L412,369.7L414.7,371.3L417.3,372.2L420,373L422.3,373.8Z" fill="#ffac00" fill-rule="evenodd"/>
<path d="M412.9,366L414.7,367.4L417.3,368.6L420,369.4L422.6,370.1L425.3,370.8L427.9,371.2L430.6,370.1L433.3,366.4L433.4,366L435.9,358.5L436,358.2L437.7,350.4L437.8,342.6L437.9,334.8L435.9,329.3L435.2,326.9L433.3,323.5L430.8,319.1L430.6,318.8L427.9,314.9L425.3,311.9L424.7,311.3L422.6,309.6L420,307.8L417.3,306.2L414.7,304.8L412.3,303.5L412,303.3L409.4,301.4L406.7,299.6L404.1,297.9L401.4,296.3L400.3,295.7L398.8,294.7L396.1,293.1L393.5,291.6L390.8,290.2L388.2,288.9L385.7,287.9L385.5,287.7L382.9,286.1L380.2,284.5L377.6,283.3L374.9,282.4L372.3,281.8L369.6,281.2L367,280.6L364.3,280.2L362.6,280.1L361.7,280L359,279.7L356.4,279.5L353.7,279.5L351.1,279.6L348.4,279.9L346.9,280.1L345.8,280.3L343.1,281L340.5,282.4L337.8,284.5L335.2,287.2L334.7,287.9L335.2,290.9L335.9,295.7L337.8,303.4L337.8,303.5L340.5,308.9L341.5,311.3L343.1,313.3L345.8,316.6L347.6,319.1L348.4,319.9L351.1,322.3L353.7,324.1L356.4,325.7L358.7,326.9L359,327.1L361.7,328.3L364.3,329.5L367,330.7L369.6,332L372.3,333.4L374.8,334.8L374.9,334.9L377.6,337.5L380.2,339.8L382.9,341.8L384,342.6L385.5,343.8L388.2,346L390.8,348.2L393.5,350.4L396.1,352.9L398.8,355L401.4,357L403.1,358.2L404.1,359L406.7,361.1L409.4,363.2L412,365.4L412.9,366Z" fill="#ff8700" fill-rule="evenodd"/>
<path d="M421.2,366L422.6,366.4L425.3,366.9L427.9,367.1L429.9,366L430.6,365.3L433.3,358.9L433.5,358.2L435.1,350.4L435.6,342.6L435.7,334.7L433.3,326.9L433.3,326.8L430.6,322.1L428.8,319.1L427.9,317.9L425.3,314.7L422.6,312L421.8,311.3L420,310L417.3,308.3L414.7,306.7L412,305.2L409.4,303.9L408.6,303.5L406.7,302.2L404.1,300.3L401.4,298.6L398.8,297.1L396.2,295.7L396.1,295.7L393.5,294L390.8,292.5L388.2,291.2L385.5,290.1L382.9,289L380.2,287.9L377.6,286.5L374.9,285.6L372.3,284.9L369.6,284.2L367,283.7L364.3,283.4L361.7,283.3L359,283.2L356.4,283.3L353.7,283.5L351.1,283.9L348.4,284.7L345.8,285.9L343.1,287.5L342.6,287.9L342.7,295.7L342.8,303.5L343.1,304.1L345.8,310.5L346.1,311.3L348.4,314.5L351.1,318.3L351.6,319.1L353.7,320.9L356.4,322.7L359,324.3L361.7,325.8L363.8,326.9L364.3,327.2L367,328.5L369.6,330L372.3,331.5L374.9,332.9L377.6,334.3L378.3,334.8L380.2,336.7L382.9,338.9L385.5,340.9L387.8,342.6L388.2,342.9L390.8,345.3L393.5,347.6L396.1,349.6L397.2,350.4L398.8,351.8L401.4,354L404.1,355.9L406.7,357.5L407.7,358.2L409.4,359.6L412,361.8L414.7,363.7L417.3,364.9L420,365.7L421.2,366Z" fill="#ff6100" fill-rule="evenodd"/>
<path d="M412,358.2L414.7,360.1L417.3,361.2L420,361.7L422.6,362L425.3,362L427.9,361.5L430.6,358.4L430.7,358.2L432.7,350.4L433.3,345.9L433.6,342.6L433.8,334.8L433.3,332.9L431.4,326.9L430.6,325.5L427.9,321.3L426.6,319.1L425.3,317.5L422.6,314.7L420,312.3L418.7,311.3L417.3,310.4L414.7,308.7L412,307.1L409.4,305.7L406.7,304.4L405.2,303.5L404.1,302.7L401.4,300.8L398.8,299.2L396.1,297.8L393.5,296.4L392.2,295.7L390.8,294.8L388.2,293.4L385.5,292.4L382.9,291.4L380.2,290.3L377.6,289.3L374.9,288.6L372.3,287.9L372,287.9L369.6,287.3L367,286.8L364.3,286.6L361.7,286.6L359,286.8L356.4,287.1L353.7,287.6L352.6,287.9L351.1,289.1L348.4,294.2L348,295.7L347.3,303.5L348.4,306.4L350.2,311.3L351.1,312.5L353.7,316.3L355.6,319.1L356.4,319.7L359,321.6L361.7,323.2L364.3,324.7L367,326.3L367.9,326.9L369.6,327.9L372.3,329.5L374.9,330.9L377.6,332.3L380.2,333.9L381.4,334.8L382.9,336.1L385.5,338.2L388.2,340.3L390.8,342.5L390.9,342.6L393.5,344.8L396.1,346.9L398.8,348.9L400.8,350.4L401.4,350.9L404.1,353L406.7,354.6L409.4,356.3L412,358.2Z" fill="#ff3c00" fill-rule="evenodd"/>
<path d="M404.7,350.4L406.7,351.6L409.4,353.2L412,354.8L414.7,356.4L417.3,357.4L420,357.7L422.6,357.5L425.3,356.6L427.9,354.8L430.1,350.4L430.6,348.3L431.5,342.6L431.9,334.8L430.6,330.5L429.3,326.9L427.9,324.8L425.3,320.8L424.3,319.1L422.6,317.3L420,314.8L417.3,312.7L415.7,311.3L414.7,310.7L412,309L409.4,307.6L406.7,306.3L404.1,304.9L402,303.5L401.4,303.1L398.8,301.4L396.1,300L393.5,298.6L390.8,297.1L388.2,295.7L388.1,295.7L385.5,294.6L382.9,293.7L380.2,292.8L377.6,291.9L374.9,291.1L372.3,290.7L369.6,290.3L367,290.2L364.3,290.3L361.7,290.8L359,291.7L356.4,293.2L353.7,295.6L353.7,295.7L351.7,303.5L353.7,309L354.5,311.3L356.4,313.9L359,318.3L359.5,319.1L361.7,320.6L364.3,322.2L367,323.9L369.6,325.7L371.4,326.9L372.3,327.5L374.9,328.9L377.6,330.3L380.2,331.8L382.9,333.6L384.6,334.8L385.5,335.5L388.2,337.6L390.8,339.8L393.5,342.1L394.1,342.6L396.1,344.2L398.8,346.2L401.4,348.2L404.1,350.1L404.7,350.4Z" fill="#ff1600" fill-rule="evenodd"/>
<path d="M410,350.4L412,351.5L414.7,352.8L417.3,353.5L420,353.4L422.6,352.4L425.3,350.5L425.4,350.4L427.9,346.2L429,342.6L429.8,334.8L427.9,329.5L426.9,326.9L425.3,324.6L422.6,320.5L421.8,319.1L420,317.4L417.3,315.2L414.7,313L412.7,311.3L412,310.9L409.4,309.4L406.7,308.2L404.1,306.9L401.4,305.3L398.8,303.5L398.7,303.5L396.1,302.1L393.5,300.8L390.8,299.4L388.2,298.1L385.5,297.1L382.9,296.2L381.6,295.7L380.2,295.2L377.6,294.4L374.9,293.7L372.3,293.4L369.6,293.4L367,293.7L364.3,294.4L361.7,295.4L361.2,295.7L359,298.6L356.6,303.5L359,310.9L359.1,311.3L361.7,315.6L363.3,319.1L364.3,319.7L367,321.4L369.6,323.2L372.3,325L374.9,326.9L377.6,328.2L380.2,329.7L382.9,331.3L385.5,333L387.9,334.8L388.2,335L390.8,337.2L393.5,339.3L396.1,341.4L397.5,342.6L398.8,343.5L401.4,345.6L404.1,347.4L406.7,348.8L409.4,350.1L410,350.4Z" fill="#ef0000" fill-rule="evenodd"/>
<path d="M400.9,342.6L401.4,343L404.1,344.8L406.7,346L409.4,347.1L412,348.1L414.7,349L417.3,349.4L420,348.8L422.6,347L425.3,343.3L425.7,342.6L427.3,334.8L425.3,329.8L424.2,326.9L422.6,324.6L420,320.5L419.1,319.1L417.3,317.6L414.7,315.5L412,313.3L409.6,311.3L409.4,311.2L406.7,310.1L404.1,308.9L401.4,307.5L398.8,306L396.1,304.5L394.6,303.5L393.5,303L390.8,301.7L388.2,300.5L385.5,299.7L382.9,299L380.2,298.3L377.6,297.5L374.9,296.6L372.3,296.4L369.6,297.1L367,298.5L364.3,300.9L362.2,303.5L364.2,311.3L364.3,311.5L367,318.3L367.2,319.1L369.6,320.7L372.3,322.4L374.9,324.2L377.6,325.9L379,326.9L380.2,327.6L382.9,329L385.5,330.5L388.2,332.3L390.8,334.4L391.2,334.8L393.5,336.5L396.1,338.5L398.8,340.6L400.9,342.6Z" fill="#ca0000" fill-rule="evenodd"/>
<path d="M405.1,342.6L406.7,343.3L409.4,344.1L412,344.7L414.7,345.1L417.3,345L420,343.9L421.4,342.6L422.6,340L424.2,334.8L422.6,330.7L421.2,326.9L420,325.3L417.3,321.5L416.1,319.1L414.7,318L412,315.9L409.4,313.9L406.7,312.3L405.1,311.3L404.1,310.9L401.4,309.7L398.8,308.5L396.1,307.2L393.5,305.9L390.8,304.2L389.7,303.5L388.2,302.9L385.5,302.2L382.9,301.9L380.2,301.5L377.6,301.1L374.9,300.7L372.3,301L369.6,302.4L368.4,303.5L369.3,311.3L369.6,312.3L371.1,319.1L372.3,319.9L374.9,321.4L377.6,322.9L380.2,324.6L382.9,326.6L383.3,326.9L385.5,328.1L388.2,329.5L390.8,331.3L393.5,333.5L394.9,334.8L396.1,335.6L398.8,337.5L401.4,339.7L404.1,341.9L405.1,342.6Z" fill="#a40000" fill-rule="evenodd"/>
<path d="M399.4,334.8L401.4,336.3L404.1,338.1L406.7,339.3L409.4,340L412,340.2L414.7,339.9L417.3,338.9L420,335.9L420.5,334.8L420,333.5L417.3,327.9L416.9,326.9L414.7,323.9L412.8,319.1L412,318.5L409.4,316.7L406.7,315.2L404.1,314L401.4,312.4L399.7,311.3L398.8,310.9L396.1,310L393.5,309.1L390.8,308.1L388.2,307.2L385.5,306.6L382.9,306.7L380.2,307.3L377.6,309.3L376.6,311.3L375.9,319.1L377.6,320L380.2,321.4L382.9,323L385.5,324.7L388.2,326.7L388.5,326.9L390.8,328.2L393.5,329.9L396.1,331.7L398.8,334L399.4,334.8Z" fill="#800000" fill-rule="evenodd"/>
<path d="M406,334.8L406.7,335L409.4,334.8L409.5,334.8L409.4,332.8L409.2,326.9L408.8,319.1L406.7,318.2L404.1,317.2L401.4,316.1L398.8,315L396.1,314L393.5,313.3L390.8,312.8L388.2,313.1L385.5,314.6L382.9,318.3L382.5,319.1L382.9,319.3L385.5,320.5L388.2,321.8L390.8,323.6L393.5,325.6L395.2,326.9L396.1,327.4L398.8,328.5L401.4,330.2L404.1,332.9L406,334.8Z" fill="#800000" fill-rule="evenodd"/>
<path d="M465.1,320.6L462.9,319.1L464,311.3L465.1,308.5L467.7,304.5L469.3,303.5L470.4,302.9L473,302.5L475.7,302.3L478.3,302.4L481,302.5L483.6,303.1L484.4,303.5L486.3,306.7L487.9,311.3L488.8,319.1L486.3,321.2L483.6,322.6L481,323.1L478.3,323.1L475.7,322.9L473,322.8L470.4,322.6L467.7,322L465.1,320.6M478.3,327L477.5,326.9L475.7,326.8L473,326.5L470.4,326.1L467.7,325.4L465.1,324L462.4,322.3L459.8,320.4L458,319.1L457.8,311.3L457.9,303.5L459,295.7L459.8,294.2L462.4,292.1L465.1,291.7L467.7,291.9L470.4,292.4L473,293.4L475.7,294.7L477.9,295.7L478.3,295.9L481,296.8L483.6,297.8L486.3,299.2L488.9,300.9L491.6,302.9L492.3,303.5L493.9,311.3L494.2,316.8L494.4,319.1L494.2,319.3L491.6,321.8L488.9,323.9L486.3,325.6L483.6,326.7L482.1,326.9L481,327.1L478.3,327M465.1,327.3L464.3,326.9L462.4,325.7L459.8,323.8L457.1,321.9L454.5,319.7L453.8,319.1L451.8,312.4L451.4,311.3L449.2,305.5L448,303.5L446.5,301.4L443.9,298.5L441.2,296.4L440.3,295.7L438.6,293.6L435.9,289L435.4,287.9L435.9,284.4L438.2,280.1L438.6,279.8L441.2,279.5L443.9,279.4L446.5,279.4L449.2,279.6L451.8,279.8L454.5,280L455.3,280.1L457.1,280.4L459.8,281.2L462.4,282.1L465.1,283.1L467.7,284.1L470.4,285L473,286.4L474.9,287.9L475.7,288.6L478.3,290.6L481,291.9L483.6,293L486.3,294.1L488.9,295.4L489.6,295.7L491.6,297L494.2,298.9L496.9,301.6L498.3,303.5L499,311.3L499.3,319.1L496.9,322.6L494.2,325.3L492,326.9L491.6,327.2L488.9,328.6L486.3,329.6L483.6,330.3L481,330.6L478.3,330.4L475.7,330.1L473,329.6L470.4,329.2L467.7,328.5L465.1,327.3M459.8,327.2L459.3,326.9L457.1,325.3L454.5,322.9L451.8,320.6L450.3,319.1L449.2,316.2L446.7,311.3L446.5,310.9L443.9,306.3L441.2,303.5L438.6,300.4L435.9,296.9L435.2,295.7L433.3,291.1L431.7,287.9L430.6,283.7L427.9,280.6L427.4,280.1L425.3,276.7L423.6,272.2L425.3,268.9L428,267.2L430.6,267.7L433.3,268.8L435.9,270.4L438.6,271.4L441.2,272L442.4,272.2L443.9,272.6L446.5,273.1L449.2,273.5L451.8,273.9L454.5,274.3L457.1,274.7L459.8,275.3L462.4,276.1L465.1,277L467.7,278.1L470.4,279.2L471.9,280.1L473,280.7L475.7,282.6L478.3,284.8L481,287L482.2,287.9L483.6,288.6L486.3,289.7L488.9,290.9L491.6,292L494.2,293.2L496.9,294.7L498.4,295.7L499.5,296.8L502.2,300.2L504.1,303.5L504.8,311.3L504.8,313.2L505,319.1L504.8,319.5L502.2,323.8L499.7,326.9L499.5,327.1L496.9,329.3L494.2,331L491.6,332.1L488.9,332.9L486.3,333.5L483.6,333.9L481,334L478.3,333.8L475.7,333.3L473,332.7L470.4,332.1L467.7,331.3L465.1,330.2L462.4,328.8L459.8,327.2M478.3,350.6L478.2,350.4L475.7,344.8L474.9,342.6L473,339.6L470.4,336.1L469.4,334.8L467.7,334.2L465.1,333L462.4,331.7L459.8,330.1L457.1,328.4L455.3,326.9L454.5,326.1L451.8,323.6L449.2,321.1L447.4,319.1L446.5,317.2L443.9,312.3L443.2,311.3L441.2,308.3L438.6,305.2L437.2,303.5L435.9,301.4L433.3,297L432.5,295.7L430.6,291.4L428,287.9L427.9,287.7L425.3,284.3L422.6,281L422,280.1L420,273.5L419.6,272.2L420,271L422.3,264.4L422.6,263.9L425.3,261.4L427.9,260.6L430.6,261L433.3,261.8L435.9,263.4L438.2,264.4L438.6,264.6L441.2,265.4L443.9,266.1L446.5,266.7L449.2,267.3L451.8,267.9L454.5,268.5L457.1,269.1L459.8,269.6L462.4,270.4L465.1,271.4L467,272.2L467.7,272.5L470.4,273.6L473,274.7L475.7,276.1L478.3,278L480.7,280.1L481,280.2L483.6,282L486.3,283.7L488.9,285.4L491.6,287L493.1,287.9L494.2,288.3L496.9,289.2L499.5,290.4L502.2,291.8L504.8,294.1L506.3,295.7L507.5,298L510.1,303.2L510.3,303.5L511.9,311.3L512.5,319.1L510.1,323.3L508.1,326.9L507.5,327.7L504.8,330.7L502.2,332.8L499.5,334.4L498.9,334.8L496.9,341.9L496.7,342.6L494.8,350.4L494.2,351L491.6,352.2L488.9,352.2L486.3,352.2L483.6,352.2L481,352.2L478.3,350.6M339.7,397.2L337.8,396.2L335.2,394.9L332.5,393.8M332.5,349.7L335.2,349.8L337.8,350.1L339.2,350.4L340.5,350.9L343.1,352.2L345.8,354.3L348.4,356.8L349.9,358.2L351.1,359.6L353.7,362.2L356.4,364L359,365.7L359.4,366L361.7,369.3L364.3,372.4L365.4,373.8L367,377L369.6,381.1L370,381.6L371.9,389.4L372.3,392L372.9,397.2M523.4,330.4L520.7,331.3L518.1,332.8L515.4,334.5L515.1,334.8L512.8,337.9L510.6,342.6L510.1,345.2L509.2,350.4L510.1,356.4L510.6,358.2L512.8,361.7L515.4,365.8L515.5,366L515.4,366.4L512.8,372.4L510.1,372.4L507.5,372.3L504.8,371.3L502.2,370.9L499.5,370.2L496.9,369.2L494.2,368.5L491.6,368.1L488.9,367.8L486.3,367.6L483.6,367.4L481,367.4L478.3,367L476,366L475.7,365.8L473,362.6L471.3,358.2L470.4,354.5L469.7,350.4L467.7,344.7L467.1,342.6L465.1,339.1L462.8,334.8L462.4,334.5L459.8,333L457.1,331.3L454.5,329.2L452.1,326.9L451.8,326.7L449.2,324.1L446.5,321.2L444.9,319.1L443.9,317L441.2,312.7L440.2,311.3L438.6,309L435.9,305.3L434.8,303.5L433.3,300.8L430.6,296.3L430.1,295.7L427.9,292.2L425.3,289.5L423.5,287.9L422.6,286.8L420,283.3L417.8,280.1L417.3,278.5L415.5,272.2L417.2,264.4L417.3,264.1L420,259.4L422.6,256.7L422.8,256.6L425.3,254.4L427.9,253.7L430.6,254.4L433.3,255.9L434.4,256.6L435.9,257.3L438.6,258.2L441.2,258.9L443.9,259.5L446.5,260.1L449.2,260.7L451.8,261.4L454.5,262.3L457.1,263.1L459.8,263.7L462.4,264.3L462.8,264.4L465.1,265L467.7,265.7L470.4,266.4L473,267.2L475.7,268.2L478.3,269.4L481,271.1L482.3,272.2L483.6,273.1L486.3,275L488.9,277L491.6,278.8L493.8,280.1L494.2,280.2L496.9,281.2L499.5,282.2L502.2,283.5L504.8,285.3L507.5,287.8L507.6,287.9L510.1,289.8L512.8,291.1L515.4,291.5L518.1,291.9L520.7,292.2L523.4,292.2M509.1,397.2L507.5,396.4L504.8,394.9L502.2,393.9L499.5,392.9L496.9,391.5L494.2,390L493,389.4L491.6,388.6L488.9,387.2L486.3,385.4L483.6,383.9L481,383.2L478.3,383.3L475.7,383.6L473,384L470.4,384.4L467.7,382.1L467.6,381.6L465.1,375.4L464.7,373.8L463.7,366L463.4,358.2L463.1,350.4L462.4,347.5L461.4,342.6L459.8,339.2L457.9,334.8L457.1,334.3L454.5,332.2L451.8,329.9L449.2,327.1L449.1,326.9L446.5,324.1L443.9,320.8L442.7,319.1L441.2,316.5L438.6,312.6L437.7,311.3L435.9,308.7L433.3,304.4L432.7,303.5L430.6,299.8L427.9,296.4L427.1,295.7L425.3,293.8L422.6,291.4L420,289L418.6,287.9L417.3,286.1L414.7,282.3L413.3,280.1L412,275.2L411.3,272.2L412,266.4L412.3,264.4L414.2,256.6L414.7,254.2L416.9,248.8L417.3,247.9L420,244.9L422.6,243.1L425.3,242.2L427.9,241.8L430.6,243.5L433.3,246.6L435.6,248.8L435.9,249.1L438.6,250.3L441.2,250.8L443.9,251.4L446.5,251.9L449.2,252.5L451.8,253.3L454.5,254.2L457.1,255.1L459.8,255.4L462.4,255.2L465.1,254.9L467.7,254.5L470.4,254.2L473,254.2L475.7,254.2L478.3,254.2L481,254.1L483.6,255.2L484.7,256.6L486.3,258L488.9,261.7L490.7,264.4L491.6,265.2L494.2,266.8L496.9,268L499.5,269.3L502.2,270.8L504.1,272.2L504.8,272.6L507.5,274.3L510.1,275.9L512.8,276.5L515.4,276.3L518.1,276.2L520.7,276L523.4,275.9M523.4,345.3L521,350.4L522.6,358.2L523.4,362.6M332.5,342.1L335.2,342.5L335.5,342.6L337.8,343.1L340.5,343.8L343.1,344.6L345.8,345.7L348.4,347.5L351.1,349.8L351.6,350.4L353.7,352.5L356.4,354.8L359,356.8L360.9,358.2L361.7,358.9L364.3,361.1L367,363.6L368.8,366L369.6,367.4L372.3,371.2L374.8,373.8L374.9,374L377.6,378L379.4,381.6L380.2,384.6L381.6,389.4L382.9,395.4L383.4,397.2M363.6,241L361.7,242.6L359,244.4L356.4,245.5L353.7,246L351.1,245.8L348.4,245.5L345.8,244.9L343.1,244.3L340.5,243.5L337.8,242.2L336,241M455,397.2L455.6,389.4L456.3,381.6L457,373.8L457.1,372.1L457.5,366L457.7,358.2L457.8,350.4L457.1,346.6L456.5,342.6L454.5,336.9L453.8,334.8L451.8,333L449.2,330.4L446.5,327.2L446.4,326.9L443.9,323.8L441.2,320.1L440.6,319.1L438.6,315.9L435.9,312L435.5,311.3L433.3,307.6L430.7,303.5L430.6,303.4L427.9,299.8L425.3,297.5L422.7,295.7L422.6,295.6L420,293.3L417.3,291L414.7,288.7L413.7,287.9L412,285.5L409.4,281.2L408.6,280.1L406.7,273.3L406.4,272.2L406.1,264.4L405.4,256.6L404.1,254.1L401.4,251.4L398.8,249.3L398.2,248.8L396.1,245.1L394,241M332.5,336.4L335.2,337.2L337.8,337.9L340.5,338.6L343.1,339.3L345.8,340.1L348.4,341.2L351,342.6L351.1,342.6L353.7,344.8L356.4,347.2L359,350L359.4,350.4L361.7,352.3L364.3,354.3L367,356.1L369.4,358.2L369.6,358.5L372.3,361.9L374.9,365.4L375.4,366L377.6,368L380.2,370.9L382.4,373.8L382.9,374.9L385.5,380.6L386,381.6L388.2,386.7L389.3,389.4L390.8,395.6L391.2,397.2M380.1,241L377.6,244.3L374.9,246.7L372.3,248.3L371.3,248.8L369.6,249.4L367,250.2L364.3,250.8L361.7,251.4L359,252L356.4,252.4L353.7,252.5L351.1,252.5L348.4,252.4L345.8,252.2L343.1,252L340.5,251.8L337.8,251.4L335.2,250.9L332.5,250.2M503.5,241L504.8,244L507.5,248.2L508,248.8L510.1,251L512.8,254.5L513.7,256.6L515.4,259.2L518.1,263.2L519.1,264.4L520.7,265.4L523.4,266.6M445.5,397.2L446.5,390.6L446.7,389.4L448.8,381.6L449.2,380.8L451.1,373.8L451.8,370.4L452.5,366L453.1,358.2L453.3,350.4L452.3,342.6L451.8,340.9L450.2,334.8L449.2,333.7L446.5,330.8L443.9,326.9L441.2,323.3L438.6,319.2L438.5,319.1L435.9,315.1L433.6,311.3L433.3,310.7L430.6,306.4L428.2,303.5L427.9,303.2L425.3,300.8L422.6,298.8L420,297.1L417.8,295.7L417.3,295.2L414.7,292.8L412,290.6L409.4,288.6L408.4,287.9L406.7,285.4L404.1,281.4L403.2,280.1L401.4,275.7L399.6,272.2L398.8,270.8L396.1,268.3L393.5,267L390.8,265.9L388.2,264.9L386.4,264.4L385.5,264.1L382.9,263.2L380.2,262.2L377.6,261.4L374.9,260.9L372.3,260.6L369.6,260.4L367,260.2L364.3,260L361.7,259.7L359,259.5L356.4,259.3L353.7,259.3L351.1,259.3L348.4,259.3L345.8,259.2L343.1,259.2L340.5,259.3L337.8,259.3L335.2,259.5L332.5,259.7M332.5,329.9L335.2,331.2L337.8,332.5L340.5,333.6L343.1,334.6L343.7,334.8L345.8,335.3L348.4,336.2L351.1,337.2L353.7,338.5L356.4,340L359,341.8L360,342.6L361.7,344.3L364.3,347.1L367,349.5L368.2,350.4L369.6,351.3L372.3,353.3L374.9,355.8L377.6,358.1L377.7,358.2L380.2,360.6L382.9,363.2L385.5,365.6L385.9,366L388.2,368.8L390.8,372L392.4,373.8L393.5,375.7L396.1,380.8L396.5,381.6L398.7,389.4L398.8,390.3L399.7,397.2M432.7,397.2L433.3,396.1L435.2,389.4L435.9,388.1L438.4,381.6L438.6,381.4L441.2,377.5L443.2,373.8L443.9,372.8L446.5,367.2L446.9,366L448.5,358.2L449.1,350.4L448.3,342.6L446.7,334.8L446.5,334.5L443.9,331.1L441.6,326.9L441.2,326.5L438.6,322.5L436.5,319.1L435.9,318.2L433.3,313.8L431.7,311.3L430.6,309.5L427.9,306.1L425.3,303.9L424.6,303.5L422.6,302L420,300.2L417.3,298.4L414.7,296.6L413.3,295.7L412,294.6L409.4,292.4L406.7,290.4L404.1,288.7L402.4,287.9L401.4,286.5L398.8,283L396.1,280.3L395.8,280.1L393.5,277.9L390.8,276.4L388.2,275.3L385.5,274.3L382.9,273.3L380.2,272.3L380,272.2L377.6,270.8L374.9,269.8L372.3,269.1L369.6,268.6L367,268.2L364.3,267.8L361.7,267.3L359,266.7L356.4,266.3L353.7,266.1L351.1,266.1L348.4,266L345.8,266L343.1,266L340.5,266.1L337.8,266.4L335.2,266.8L332.5,267.4M332.5,322.6L335.2,324.5L337.8,326.5L338.4,326.9L340.5,328.2L343.1,329.7L345.8,330.9L348.4,332L351.1,332.9L353.7,333.6L356.4,334.3L358.1,334.8L359,335.2L361.7,337.1L364.3,339.3L367,341.7L368,342.6L369.6,344.2L372.3,346.4L374.9,348.4L377.6,350.1L378.2,350.4L380.2,352.2L382.9,354.6L385.5,356.8L387.1,358.2L388.2,359.4L390.8,362.1L393.5,364.2L396.1,365.9L396.3,366L398.8,369.8L401.4,373.6L401.6,373.8L404.1,378.5L406.7,381.4L407.2,381.6L409.4,385.8L410.5,389.4L411,397.2M332.5,314.4L335.2,317.3L336.9,319.1L337.8,320L340.5,322.4L343.1,324.6L345.8,326.5L346.4,326.9L348.4,328.1L351.1,329.4L353.7,330.5L356.4,331.5L359,332.3L361.7,333.1L364.3,334L366.3,334.8L367,335.4L369.6,338.4L372.3,340.8L374.6,342.6L374.9,342.9L377.6,345.2L380.2,347.2L382.9,348.9L385.5,350.4L388.2,353.4L390.8,356.1L393.4,358.2L393.5,358.2L396.1,360.7L398.8,362.9L401.4,365L402.8,366L404.1,367.8L406.7,370.9L409.4,372.9L411.1,373.8L412,374.6L414.7,376.2L417.3,377.3L420,378.4L422.6,379.6L425.3,380.5L427.9,380.9L430.6,380.3L433.3,378.4L435.9,374.3L436.2,373.8L438.6,369.4L440.4,366L441.2,364.4L443.7,358.2L443.9,357.2L444.9,350.4L444.4,342.6L443.9,338.4L443.5,334.8L441.2,331.1L439.3,326.9L438.6,325.8L435.9,321.5L434.6,319.1L433.3,316.9L430.6,312.6L429.7,311.3L427.9,309L425.3,306.6L422.6,304.8L420.2,303.5L420,303.3L417.3,301.4L414.7,299.5L412,297.7L409.4,296.1L408.7,295.7L406.7,294.1L404.1,292.1L401.4,290.5L398.8,289.1L396.1,287.9L393.5,284.8L390.8,282.7L388.2,281.3L385.5,280.1L385.4,280.1L382.9,278.5L380.2,277L377.6,275.8L374.9,275L372.3,274.5L369.6,274.1L367,273.7L364.3,273.4L361.7,273.1L359,272.7L356.4,272.4L353.7,272.2L351.1,272.2L348.4,272.2L345.8,272.2L343.1,272.2L340.5,272.4L337.8,272.8L335.2,273.4L332.5,274.3M332.5,303.7L335.2,308.8L336.4,311.3L337.8,313L340.5,316.3L343,319.1L343.1,319.2L345.8,321.8L348.4,324L351.1,325.9L352.8,326.9L353.7,327.4L356.4,328.6L359,329.7L361.7,330.7L364.3,331.7L367,332.8L369.6,334.1L370.9,334.8L372.3,336.3L374.9,338.8L377.6,341L379.7,342.6L380.2,343L382.9,345.2L385.5,347.1L388.2,349L389.9,350.4L390.8,351.5L393.5,354.3L396.1,356.4L398.7,358.2L398.8,358.3L401.4,360.8L404.1,362.9L406.7,364.8L408.3,366L409.4,367.2L412,369.7L414.7,371.3L417.3,372.2L420,373L422.3,373.8L422.6,374L425.3,375.1L427.9,375.7L430.6,374.8L431.5,373.8L433.3,371.9L435.9,366.7L436.2,366L438.6,359.9L439.3,358.2L441,350.4L440.8,342.6L440.5,334.8L438.6,330.7L437.2,326.9L435.9,324.9L433.3,320.1L432.7,319.1L430.6,315.7L428,311.9L427.4,311.3L425.3,309.2L422.6,307.2L420,305.6L417.3,304.2L416.1,303.5L414.7,302.4L412,300.5L409.4,298.7L406.7,297.1L404.4,295.7L404.1,295.4L401.4,293.5L398.8,291.9L396.1,290.5L393.5,289.1L390.9,287.9L390.8,287.8L388.2,285.6L385.5,283.9L382.9,282.5L380.2,281.2L377.6,280.1L377.5,280.1L374.9,279L372.3,278.3L369.6,277.7L367,277.2L364.3,276.8L361.7,276.5L359,276.2L356.4,276L353.7,275.9L351.1,275.9L348.4,276.1L345.8,276.2L343.1,276.4L340.5,277L337.8,277.8L335.2,278.9L333.1,280.1L332.5,280.7M412.9,366L414.7,367.4L417.3,368.6L420,369.4L422.6,370.1L425.3,370.8L427.9,371.2L430.6,370.1L433.3,366.4L433.4,366L435.9,358.5L436,358.2L437.7,350.4L437.8,342.6L437.9,334.8L435.9,329.3L435.2,326.9L433.3,323.5L430.8,319.1L430.6,318.8L427.9,314.9L425.3,311.9L424.7,311.3L422.6,309.6L420,307.8L417.3,306.2L414.7,304.8L412.3,303.5L412,303.3L409.4,301.4L406.7,299.6L404.1,297.9L401.4,296.3L400.3,295.7L398.8,294.7L396.1,293.1L393.5,291.6L390.8,290.2L388.2,288.9L385.7,287.9L385.5,287.7L382.9,286.1L380.2,284.5L377.6,283.3L374.9,282.4L372.3,281.8L369.6,281.2L367,280.6L364.3,280.2L362.6,280.1L361.7,280L359,279.7L356.4,279.5L353.7,279.5L351.1,279.6L348.4,279.9L346.9,280.1L345.8,280.3L343.1,281L340.5,282.4L337.8,284.5L335.2,287.2L334.7,287.9L335.2,290.9L335.9,295.7L337.8,303.4L337.8,303.5L340.5,308.9L341.5,311.3L343.1,313.3L345.8,316.6L347.6,319.1L348.4,319.9L351.1,322.3L353.7,324.1L356.4,325.7L358.7,326.9L359,327.1L361.7,328.3L364.3,329.5L367,330.7L369.6,332L372.3,333.4L374.8,334.8L374.9,334.9L377.6,337.5L380.2,339.8L382.9,341.8L384,342.6L385.5,343.8L388.2,346L390.8,348.2L393.5,350.4L396.1,352.9L398.8,355L401.4,357L403.1,358.2L404.1,359L406.7,361.1L409.4,363.2L412,365.4L412.9,366M421.2,366L422.6,366.4L425.3,366.9L427.9,367.1L429.9,366L430.6,365.3L433.3,358.9L433.5,358.2L435.1,350.4L435.6,342.6L435.7,334.7L433.3,326.9L433.3,326.8L430.6,322.1L428.8,319.1L427.9,317.9L425.3,314.7L422.6,312L421.8,311.3L420,310L417.3,308.3L414.7,306.7L412,305.2L409.4,303.9L408.6,303.5L406.7,302.2L404.1,300.3L401.4,298.6L398.8,297.1L396.2,295.7L396.1,295.7L393.5,294L390.8,292.5L388.2,291.2L385.5,290.1L382.9,289L380.2,287.9L377.6,286.5L374.9,285.6L372.3,284.9L369.6,284.2L367,283.7L364.3,283.4L361.7,283.3L359,283.2L356.4,283.3L353.7,283.5L351.1,283.9L348.4,284.7L345.8,285.9L343.1,287.5L342.6,287.9L342.7,295.7L342.8,303.5L343.1,304.1L345.8,310.5L346.1,311.3L348.4,314.5L351.1,318.3L351.6,319.1L353.7,320.9L356.4,322.7L359,324.3L361.7,325.8L363.8,326.9L364.3,327.2L367,328.5L369.6,330L372.3,331.5L374.9,332.9L377.6,334.3L378.3,334.8L380.2,336.7L382.9,338.9L385.5,340.9L387.8,342.6L388.2,342.9L390.8,345.3L393.5,347.6L396.1,349.6L397.2,350.4L398.8,351.8L401.4,354L404.1,355.9L406.7,357.5L407.7,358.2L409.4,359.6L412,361.8L414.7,363.7L417.3,364.9L420,365.7L421.2,366M412,358.2L414.7,360.1L417.3,361.2L420,361.7L422.6,362L425.3,362L427.9,361.5L430.6,358.4L430.7,358.2L432.7,350.4L433.3,345.9L433.6,342.6L433.8,334.8L433.3,332.9L431.4,326.9L430.6,325.5L427.9,321.3L426.6,319.1L425.3,317.5L422.6,314.7L420,312.3L418.7,311.3L417.3,310.4L414.7,308.7L412,307.1L409.4,305.7L406.7,304.4L405.2,303.5L404.1,302.7L401.4,300.8L398.8,299.2L396.1,297.8L393.5,296.4L392.2,295.7L390.8,294.8L388.2,293.4L385.5,292.4L382.9,291.4L380.2,290.3L377.6,289.3L374.9,288.6L372.3,287.9L372,287.9L369.6,287.3L367,286.8L364.3,286.6L361.7,286.6L359,286.8L356.4,287.1L353.7,287.6L352.6,287.9L351.1,289.1L348.4,294.2L348,295.7L347.3,303.5L348.4,306.4L350.2,311.3L351.1,312.5L353.7,316.3L355.6,319.1L356.4,319.7L359,321.6L361.7,323.2L364.3,324.7L367,326.3L367.9,326.9L369.6,327.9L372.3,329.5L374.9,330.9L377.6,332.3L380.2,333.9L381.4,334.8L382.9,336.1L385.5,338.2L388.2,340.3L390.8,342.5L390.9,342.6L393.5,344.8L396.1,346.9L398.8,348.9L400.8,350.4L401.4,350.9L404.1,353L406.7,354.6L409.4,356.3L412,358.2M404.7,350.4L406.7,351.6L409.4,353.2L412,354.8L414.7,356.4L417.3,357.4L420,357.7L422.6,357.5L425.3,356.6L427.9,354.8L430.1,350.4L430.6,348.3L431.5,342.6L431.9,334.8L430.6,330.5L429.3,326.9L427.9,324.8L425.3,320.8L424.3,319.1L422.6,317.3L420,314.8L417.3,312.7L415.7,311.3L414.7,310.7L412,309L409.4,307.6L406.7,306.3L404.1,304.9L402,303.5L401.4,303.1L398.8,301.4L396.1,300L393.5,298.6L390.8,297.1L388.2,295.7L388.1,295.7L385.5,294.6L382.9,293.7L380.2,292.8L377.6,291.9L374.9,291.1L372.3,290.7L369.6,290.3L367,290.2L364.3,290.3L361.7,290.8L359,291.7L356.4,293.2L353.7,295.6L353.7,295.7L351.7,303.5L353.7,309L354.5,311.3L356.4,313.9L359,318.3L359.5,319.1L361.7,320.6L364.3,322.2L367,323.9L369.6,325.7L371.4,326.9L372.3,327.5L374.9,328.9L377.6,330.3L380.2,331.8L382.9,333.6L384.6,334.8L385.5,335.5L388.2,337.6L390.8,339.8L393.5,342.1L394.1,342.6L396.1,344.2L398.8,346.2L401.4,348.2L404.1,350.1L404.7,350.4M410,350.4L412,351.5L414.7,352.8L417.3,353.5L420,353.4L422.6,352.4L425.3,350.5L425.4,350.4L427.9,346.2L429,342.6L429.8,334.8L427.9,329.5L426.9,326.9L425.3,324.6L422.6,320.5L421.8,319.1L420,317.4L417.3,315.2L414.7,313L412.7,311.3L412,310.9L409.4,309.4L406.7,308.2L404.1,306.9L401.4,305.3L398.8,303.5L398.7,303.5L396.1,302.1L393.5,300.8L390.8,299.4L388.2,298.1L385.5,297.1L382.9,296.2L381.6,295.7L380.2,295.2L377.6,294.4L374.9,293.7L372.3,293.4L369.6,293.4L367,293.7L364.3,294.4L361.7,295.4L361.2,295.7L359,298.6L356.6,303.5L359,310.9L359.1,311.3L361.7,315.6L363.3,319.1L364.3,319.7L367,321.4L369.6,323.2L372.3,325L374.9,326.9L377.6,328.2L380.2,329.7L382.9,331.3L385.5,333L387.9,334.8L388.2,335L390.8,337.2L393.5,339.3L396.1,341.4L397.5,342.6L398.8,343.5L401.4,345.6L404.1,347.4L406.7,348.8L409.4,350.1L410,350.4M400.9,342.6L401.4,343L404.1,344.8L406.7,346L409.4,347.1L412,348.1L414.7,349L417.3,349.4L420,348.8L422.6,347L425.3,343.3L425.7,342.6L427.3,334.8L425.3,329.8L424.2,326.9L422.6,324.6L420,320.5L419.1,319.1L417.3,317.6L414.7,315.5L412,313.3L409.6,311.3L409.4,311.2L406.7,310.1L404.1,308.9L401.4,307.5L398.8,306L396.1,304.5L394.6,303.5L393.5,303L390.8,301.7L388.2,300.5L385.5,299.7L382.9,299L380.2,298.3L377.6,297.5L374.9,296.6L372.3,296.4L369.6,297.1L367,298.5L364.3,300.9L362.2,303.5L364.2,311.3L364.3,311.5L367,318.3L367.2,319.1L369.6,320.7L372.3,322.4L374.9,324.2L377.6,325.9L379,326.9L380.2,327.6L382.9,329L385.5,330.5L388.2,332.3L390.8,334.4L391.2,334.8L393.5,336.5L396.1,338.5L398.8,340.6L400.9,342.6M405.1,342.6L406.7,343.3L409.4,344.1L412,344.7L414.7,345.1L417.3,345L420,343.9L421.4,342.6L422.6,340L424.2,334.8L422.6,330.7L421.2,326.9L420,325.3L417.3,321.5L416.1,319.1L414.7,318L412,315.9L409.4,313.9L406.7,312.3L405.1,311.3L404.1,310.9L401.4,309.7L398.8,308.5L396.1,307.2L393.5,305.9L390.8,304.2L389.7,303.5L388.2,302.9L385.5,302.2L382.9,301.9L380.2,301.5L377.6,301.1L374.9,300.7L372.3,301L369.6,302.4L368.4,303.5L369.3,311.3L369.6,312.3L371.1,319.1L372.3,319.9L374.9,321.4L377.6,322.9L380.2,324.6L382.9,326.6L383.3,326.9L385.5,328.1L388.2,329.5L390.8,331.3L393.5,333.5L394.9,334.8L396.1,335.6L398.8,337.5L401.4,339.7L404.1,341.9L405.1,342.6M399.4,334.8L401.4,336.3L404.1,338.1L406.7,339.3L409.4,340L412,340.2L414.7,339.9L417.3,338.9L420,335.9L420.5,334.8L420,333.5L417.3,327.9L416.9,326.9L414.7,323.9L412.8,319.1L412,318.5L409.4,316.7L406.7,315.2L404.1,314L401.4,312.4L399.7,311.3L398.8,310.9L396.1,310L393.5,309.1L390.8,308.1L388.2,307.2L385.5,306.6L382.9,306.7L380.2,307.3L377.6,309.3L376.6,311.3L375.9,319.1L377.6,320L380.2,321.4L382.9,323L385.5,324.7L388.2,326.7L388.5,326.9L390.8,328.2L393.5,329.9L396.1,331.7L398.8,334L399.4,334.8M406,334.8L406.7,335L409.4,334.8L409.5,334.8L409.4,332.8L409.2,326.9L408.8,319.1L406.7,318.2L404.1,317.2L401.4,316.1L398.8,315L396.1,314L393.5,313.3L390.8,312.8L388.2,313.1L385.5,314.6L382.9,318.3L382.5,319.1L382.9,319.3L385.5,320.5L388.2,321.8L390.8,323.6L393.5,325.6L395.2,326.9L396.1,327.4L398.8,328.5L401.4,330.2L404.1,332.9L406,334.8" fill="none" stroke="#000" stroke-width="0.7" stroke-linejoin="round"/>
<path d="M332.5,268.2C335.3,268.4 335.8,268.9 342.9,269C350,269.1 350.7,268.5 359.2,268.5C367.7,268.5 368.1,268.4 374.8,269C381.5,269.6 379.5,269.2 384.5,270.9C389.5,272.6 389.3,272 393.6,275.4C397.9,278.8 396.9,279.5 400.8,283.6C404.7,287.7 403.8,286.7 408.1,290.8C412.4,294.9 411.8,294.1 417.1,299C422.4,303.9 423.4,303.7 428,309C432.6,314.3 430.1,313.9 434.5,319C438.9,324.1 440.9,323.3 444.5,328.2C448.1,333.1 446.9,331.5 448.1,337.3C449.3,343.1 449.6,342.3 449.1,350.1C448.6,357.9 449,359.3 446.3,366.6C443.6,373.9 443.9,372.7 439,377.6C434.1,382.5 433.1,383.1 428,385C422.9,386.9 423.5,386.1 419.9,384.9C416.3,383.7 418.3,383.6 414.4,380.4C410.5,377.2 409.2,377.6 405.3,373C401.4,368.4 404.2,368.6 399.8,363C395.4,357.4 394.7,356.9 388.8,352C382.9,347.1 383.7,349 377.8,344.6C371.9,340.2 374.1,340.4 366.8,335.5C359.5,330.6 358.6,330.7 350.3,326.3C342,321.9 340.4,321.7 335.7,319C331,316.3 333.4,316.9 332.5,316.2" fill="none" stroke="#000" stroke-width="1.6" stroke-linejoin="round" stroke-linecap="round"/>
<path d="M459.7,287.7L463.7,287.7" stroke="#000" stroke-width="1.3" fill="none"/>
<path d="M332.5,263.6C334.9,264.5 337.5,265.4 342.9,267.3C348.3,269.2 349,268.8 355.6,271.8C362.2,274.8 367,276.6 371,280C375,283.4 372,282.9 372.8,286.3C373.6,289.7 371.9,290.2 374.6,294.4C377.3,298.6 379.2,298.7 384.5,304.4C389.8,310.1 392.6,313 397.5,319C402.4,325 401.8,325.3 405.3,330C408.8,334.7 409.2,334.4 412.6,339.1C416,343.8 417.1,345 419.9,350.1C422.7,355.2 423.1,356 424.5,361.1C425.9,366.2 425.6,367.6 425.8,372.1C426,376.6 425.5,378.5 425.4,380.4" fill="none" stroke="#1a1aff" stroke-width="3" stroke-linejoin="round" stroke-linecap="butt"/>
<rect x="332.5" y="241" width="190.9" height="156.2" fill="none" stroke="#262626" stroke-opacity="0.45" stroke-width="0.5"/>
<text x="328.2" y="401.2" text-anchor="end" font-size="9.6">-10</text>
<text x="328.2" y="385.6" text-anchor="end" font-size="9.6">-8</text>
<text x="328.2" y="370" text-anchor="end" font-size="9.6">-6</text>
<text x="328.2" y="354.4" text-anchor="end" font-size="9.6">-4</text>
<text x="328.2" y="338.8" text-anchor="end" font-size="9.6">-2</text>
<text x="328.2" y="323.1" text-anchor="end" font-size="9.6">0</text>
<text x="328.2" y="307.5" text-anchor="end" font-size="9.6">2</text>
<text x="328.2" y="291.9" text-anchor="end" font-size="9.6">4</text>
<text x="328.2" y="276.2" text-anchor="end" font-size="9.6">6</text>
<text x="328.2" y="260.6" text-anchor="end" font-size="9.6">8</text>
<text x="328.2" y="245" text-anchor="end" font-size="9.6">10</text>
<text x="332.5" y="411.4" text-anchor="middle" font-size="9.6">120°E</text>
<text x="364.3" y="411.4" text-anchor="middle" font-size="9.6">150°E</text>
<text x="396.1" y="411.4" text-anchor="middle" font-size="9.6">180°W</text>
<text x="427.9" y="411.4" text-anchor="middle" font-size="9.6">150°W</text>
<text x="459.8" y="411.4" text-anchor="middle" font-size="9.6">120°W</text>
<text x="491.6" y="411.4" text-anchor="middle" font-size="9.6">90°W</text>
<text x="523.4" y="411.4" text-anchor="middle" font-size="9.6">60°W</text>
<path d="M332.5,397.2h2M523.4,397.2h-2M332.5,381.6h2M523.4,381.6h-2M332.5,366h2M523.4,366h-2M332.5,350.4h2M523.4,350.4h-2M332.5,334.8h2M523.4,334.8h-2M332.5,319.1h2M523.4,319.1h-2M332.5,303.5h2M523.4,303.5h-2M332.5,287.9h2M523.4,287.9h-2M332.5,272.2h2M523.4,272.2h-2M332.5,256.6h2M523.4,256.6h-2M332.5,241h2M523.4,241h-2M332.5,397.2v-2M332.5,241v2M364.3,397.2v-2M364.3,241v2M396.1,397.2v-2M396.1,241v2M427.9,397.2v-2M427.9,241v2M459.8,397.2v-2M459.8,241v2M491.6,397.2v-2M491.6,241v2M523.4,397.2v-2M523.4,241v2" stroke="#262626" stroke-width="0.6" fill="none"/>
<path d="M335.7,397.2v-1.1M335.7,241v1.1M338.9,397.2v-1.1M338.9,241v1.1M342,397.2v-1.1M342,241v1.1M345.2,397.2v-1.1M345.2,241v1.1M348.4,397.2v-1.1M348.4,241v1.1M351.6,397.2v-1.1M351.6,241v1.1M354.8,397.2v-1.1M354.8,241v1.1M358,397.2v-1.1M358,241v1.1M361.1,397.2v-1.1M361.1,241v1.1M364.3,397.2v-1.1M364.3,241v1.1M367.5,397.2v-1.1M367.5,241v1.1M370.7,397.2v-1.1M370.7,241v1.1M373.9,397.2v-1.1M373.9,241v1.1M377,397.2v-1.1M377,241v1.1M380.2,397.2v-1.1M380.2,241v1.1M383.4,397.2v-1.1M383.4,241v1.1M386.6,397.2v-1.1M386.6,241v1.1M389.8,397.2v-1.1M389.8,241v1.1M393,397.2v-1.1M393,241v1.1M396.1,397.2v-1.1M396.1,241v1.1M399.3,397.2v-1.1M399.3,241v1.1M402.5,397.2v-1.1M402.5,241v1.1M405.7,397.2v-1.1M405.7,241v1.1M408.9,397.2v-1.1M408.9,241v1.1M412,397.2v-1.1M412,241v1.1M415.2,397.2v-1.1M415.2,241v1.1M418.4,397.2v-1.1M418.4,241v1.1M421.6,397.2v-1.1M421.6,241v1.1M424.8,397.2v-1.1M424.8,241v1.1M427.9,397.2v-1.1M427.9,241v1.1M431.1,397.2v-1.1M431.1,241v1.1M434.3,397.2v-1.1M434.3,241v1.1M437.5,397.2v-1.1M437.5,241v1.1M440.7,397.2v-1.1M440.7,241v1.1M443.9,397.2v-1.1M443.9,241v1.1M447,397.2v-1.1M447,241v1.1M450.2,397.2v-1.1M450.2,241v1.1M453.4,397.2v-1.1M453.4,241v1.1M456.6,397.2v-1.1M456.6,241v1.1M459.8,397.2v-1.1M459.8,241v1.1M462.9,397.2v-1.1M462.9,241v1.1M466.1,397.2v-1.1M466.1,241v1.1M469.3,397.2v-1.1M469.3,241v1.1M472.5,397.2v-1.1M472.5,241v1.1M475.7,397.2v-1.1M475.7,241v1.1M478.9,397.2v-1.1M478.9,241v1.1M482,397.2v-1.1M482,241v1.1M485.2,397.2v-1.1M485.2,241v1.1M488.4,397.2v-1.1M488.4,241v1.1M491.6,397.2v-1.1M491.6,241v1.1M494.8,397.2v-1.1M494.8,241v1.1M497.9,397.2v-1.1M497.9,241v1.1M501.1,397.2v-1.1M501.1,241v1.1M504.3,397.2v-1.1M504.3,241v1.1M507.5,397.2v-1.1M507.5,241v1.1M510.7,397.2v-1.1M510.7,241v1.1M513.9,397.2v-1.1M513.9,241v1.1M517,397.2v-1.1M517,241v1.1M520.2,397.2v-1.1M520.2,241v1.1M523.4,244.9h-1.1M523.4,248.8h-1.1M523.4,252.7h-1.1M523.4,256.6h-1.1M523.4,260.5h-1.1M523.4,264.4h-1.1M523.4,268.3h-1.1M523.4,272.2h-1.1M523.4,276.2h-1.1M523.4,280.1h-1.1M523.4,284h-1.1M523.4,287.9h-1.1M523.4,291.8h-1.1M523.4,295.7h-1.1M523.4,299.6h-1.1M523.4,303.5h-1.1M523.4,307.4h-1.1M523.4,311.3h-1.1M523.4,315.2h-1.1M523.4,319.1h-1.1M523.4,323h-1.1M523.4,326.9h-1.1M523.4,330.8h-1.1M523.4,334.8h-1.1M523.4,338.7h-1.1M523.4,342.6h-1.1M523.4,346.5h-1.1M523.4,350.4h-1.1M523.4,354.3h-1.1M523.4,358.2h-1.1M523.4,362.1h-1.1M523.4,366h-1.1M523.4,369.9h-1.1M523.4,373.8h-1.1M523.4,377.7h-1.1M523.4,381.6h-1.1M523.4,385.5h-1.1M523.4,389.4h-1.1M523.4,393.3h-1.1" stroke="#111" stroke-width="0.8" fill="none"/>
<text x="427.9" y="427.2" text-anchor="middle" font-size="11.8">Longitude</text>
<text transform="translate(307.5,319.1) rotate(-90)" text-anchor="middle" font-size="11.8">Lag (day)</text>
<text x="427.6" y="235.8" text-anchor="middle" font-size="11.85">Z500 for NPO<tspan dx="0.8" dy="-5.2" font-size="8.5">-</tspan><tspan dx="0.8" dy="5.2" font-size="11.85"> (9-yr high pass VM</tspan><tspan dx="0.8" dy="-5.2" font-size="8.5">+</tspan><tspan dx="0.5" dy="5.2" font-size="11.85">)</tspan></text>
<text x="305.4" y="229.7" font-size="20" font-family='"Liberation Serif", "DejaVu Serif", serif' style="stroke-width:0.2px">(d)</text>
<rect x="536" y="263.5" width="18.2" height="122.8" fill="url(#jet)" stroke="#262626" stroke-width="0.4"/>
<text x="557.4" y="389.6" font-size="9.6">-200</text>
<text x="557.4" y="374.2" font-size="9.6">-150</text>
<text x="557.4" y="358.9" font-size="9.6">-100</text>
<text x="557.4" y="343.5" font-size="9.6">-50</text>
<text x="557.4" y="328.2" font-size="9.6">0</text>
<text x="557.4" y="312.8" font-size="9.6">50</text>
<text x="557.4" y="297.5" font-size="9.6">100</text>
<text x="557.4" y="282.1" font-size="9.6">150</text>
<text x="557.4" y="266.8" font-size="9.6">200</text>
<text x="538.2" y="254.1" font-size="9.6">gpm</text>
</g>
</svg>
</body></html>
